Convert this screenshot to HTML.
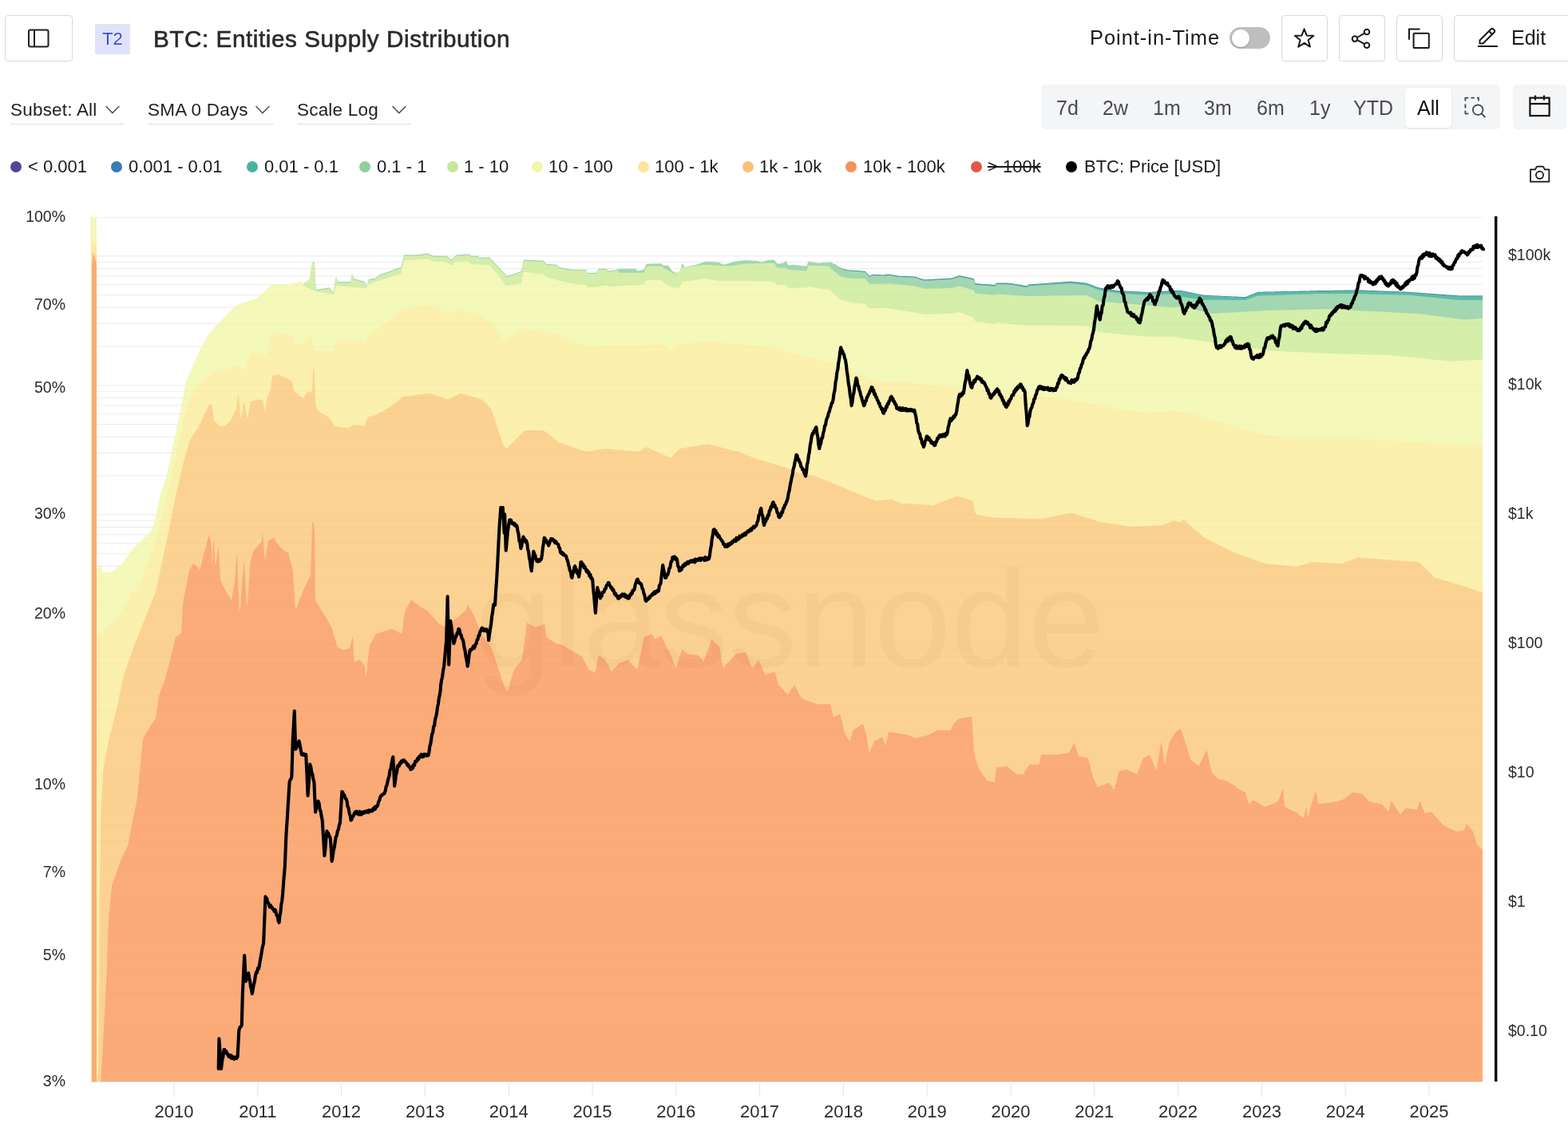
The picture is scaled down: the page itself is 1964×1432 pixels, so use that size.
<!DOCTYPE html>
<html>
<head>
<meta charset="utf-8">
<title>BTC: Entities Supply Distribution</title>
<style>
html,body{margin:0;padding:0;background:#fff;}
body{width:1964px;height:1432px;position:relative;overflow:hidden;font-family:"Liberation Sans",Arial,sans-serif;color:#1f1f23;}
.abs{position:absolute;}
.btn{position:absolute;box-sizing:border-box;border:1px solid #d9d9dc;border-radius:4px;background:#fff;}
.title{position:absolute;left:192px;top:32px;font-size:29.7px;font-weight:normal;-webkit-text-stroke:0.6px #2a2a2e;color:#2a2a2e;white-space:nowrap;letter-spacing:0.55px;}
.badge{position:absolute;left:119px;top:30px;width:44px;height:38px;background:#dfe3f8;color:#4052c6;font-size:22px;line-height:38px;text-align:center;}
.pit{position:absolute;left:1365px;top:33px;font-size:25.5px;letter-spacing:0.95px;color:#1a1a1e;white-space:nowrap;}
.toggle{position:absolute;left:1540px;top:34px;width:51px;height:27px;border-radius:14px;background:#bebebe;}
.knob{position:absolute;left:3px;top:2.5px;width:22px;height:22px;border-radius:50%;background:#fff;box-shadow:0 1px 2px rgba(0,0,0,0.25);}
.edit{position:absolute;left:1893px;top:33px;font-size:25px;color:#1a1a1e;}
.dd{position:absolute;top:125px;font-size:22.5px;letter-spacing:0.2px;color:#1f1f23;white-space:nowrap;}
.ddline{position:absolute;top:154.5px;height:1.5px;background:#dedee2;}
.range{position:absolute;left:1304px;top:106px;width:575px;height:56px;background:#f4f5f7;border-radius:5px;}
.ri{position:absolute;top:120.5px;font-size:25px;color:#4b4b52;white-space:nowrap;}
.sel{position:absolute;left:1760px;top:109.5px;width:58px;height:50px;background:#fff;border-radius:5px;box-shadow:0 1px 3px rgba(0,0,0,0.08);}
.cal{position:absolute;left:1895px;top:106px;width:67px;height:56px;background:#f4f5f7;border-radius:5px;}
.leg{position:absolute;top:196px;font-size:22px;color:#1a1a1e;white-space:nowrap;}
.dot{position:absolute;top:202px;width:14px;height:14px;border-radius:50%;}
</style>
</head>
<body>
<!-- header row -->
<div class="btn" style="left:6px;top:19px;width:85px;height:58px;"></div>
<svg class="abs" style="left:30px;top:31px" width="36" height="34" viewBox="0 0 36 34"><rect x="6" y="6.5" width="24.5" height="21" rx="2" fill="none" stroke="#1f1f23" stroke-width="2"/><line x1="13" y1="6.5" x2="13" y2="27.5" stroke="#1f1f23" stroke-width="2"/></svg>
<div class="badge">T2</div>
<div class="title">BTC: Entities Supply Distribution</div>

<div class="pit">Point-in-Time</div>
<div class="toggle"><div class="knob"></div></div>

<div class="btn" style="left:1605px;top:19px;width:58px;height:58px;"></div>
<svg class="abs" style="left:1605px;top:19px" width="58" height="58" viewBox="0 0 58 58"><path d="M28.6,17.3 L31.7,25.4 L40.3,25.8 L33.6,31.2 L35.9,39.6 L28.6,34.8 L21.3,39.6 L23.6,31.2 L16.9,25.8 L25.5,25.4 Z" fill="none" stroke="#1a1a1e" stroke-width="2" stroke-linejoin="round"/></svg>

<div class="btn" style="left:1677px;top:19px;width:58px;height:58px;"></div>
<svg class="abs" style="left:1677px;top:19px" width="58" height="58" viewBox="0 0 58 58"><g fill="none" stroke="#1a1a1e" stroke-width="2"><circle cx="35" cy="21" r="3.3"/><circle cx="20" cy="29.6" r="3.3"/><circle cx="35" cy="37.7" r="3.3"/><line x1="23" y1="28" x2="32" y2="22.7"/><line x1="23" y1="31.2" x2="32" y2="36.1"/></g></svg>

<div class="btn" style="left:1749px;top:19px;width:58px;height:58px;"></div>
<svg class="abs" style="left:1749px;top:19px" width="58" height="58" viewBox="0 0 58 58"><g fill="none" stroke="#1a1a1e" stroke-width="2"><path d="M16,30.7 L16,17.6 L29.5,17.6"/><rect x="21.6" y="22.7" width="19.2" height="18.4" rx="1.2"/></g></svg>

<div class="btn" style="left:1821px;top:19px;width:160px;height:58px;"></div>
<svg class="abs" style="left:1845px;top:30px" width="36" height="34" viewBox="0 0 36 34"><g fill="none" stroke="#1a1a1e" stroke-width="2" stroke-linejoin="round"><path d="M8.5,24.5 L8.5,20.5 L22.5,6.5 Q24,5 25.5,6.5 L26.5,7.5 Q28,9 26.5,10.5 L12.5,24.5 Z"/><line x1="20" y1="9" x2="24" y2="13"/><line x1="6" y1="28" x2="31" y2="28"/></g></svg>
<div class="edit">Edit</div>

<!-- second row -->
<div class="dd" style="left:13px">Subset: All</div>
<svg class="abs" style="left:130px;top:128px" width="22" height="18" viewBox="0 0 22 18"><path d="M2.5,5 L10.8,13.5 L19.5,5" fill="none" stroke="#55555c" stroke-width="1.6"/></svg>
<div class="ddline" style="left:13px;width:143px"></div>
<div class="dd" style="left:185px">SMA 0 Days</div>
<svg class="abs" style="left:318px;top:128px" width="22" height="18" viewBox="0 0 22 18"><path d="M2.5,5 L10.8,13.5 L19.5,5" fill="none" stroke="#55555c" stroke-width="1.6"/></svg>
<div class="ddline" style="left:185px;width:158px"></div>
<div class="dd" style="left:372px">Scale Log</div>
<svg class="abs" style="left:489px;top:128px" width="22" height="18" viewBox="0 0 22 18"><path d="M2.5,5 L10.8,13.5 L19.5,5" fill="none" stroke="#55555c" stroke-width="1.6"/></svg>
<div class="ddline" style="left:372px;width:143px"></div>

<div class="range"></div>
<div class="sel"></div>
<div class="ri" style="left:1323px">7d</div>
<div class="ri" style="left:1381px">2w</div>
<div class="ri" style="left:1444px">1m</div>
<div class="ri" style="left:1508px">3m</div>
<div class="ri" style="left:1574px">6m</div>
<div class="ri" style="left:1640px">1y</div>
<div class="ri" style="left:1695px">YTD</div>
<div class="ri" style="left:1775px;color:#111">All</div>
<svg class="abs" style="left:1830px;top:117px" width="36" height="36" viewBox="0 0 36 36"><g fill="none" stroke="#46464d" stroke-width="1.8"><path d="M5.4,9.5 L5.4,5.6 L9.3,5.6"/><line x1="12.5" y1="5.6" x2="16.8" y2="5.6"/><path d="M21.9,9.5 L21.9,5.6 L20,5.6"/><line x1="5.4" y1="13.5" x2="5.4" y2="18.5"/><path d="M5.4,21.5 L5.4,25.4 L9.3,25.4"/><circle cx="21.2" cy="20.6" r="6.3"/><line x1="25.6" y1="25.2" x2="30.3" y2="30"/></g></svg>
<div class="cal"></div>
<svg class="abs" style="left:1912px;top:116px" width="34" height="34" viewBox="0 0 34 34"><g fill="none" stroke="#111" stroke-width="2.2"><rect x="4.4" y="6.6" width="24.2" height="22.4"/><line x1="4.4" y1="14" x2="28.6" y2="14"/><line x1="11" y1="3.5" x2="11" y2="9.5"/><line x1="22" y1="3.5" x2="22" y2="9.5"/></g></svg>

<!-- legend -->
<div class="dot" style="left:13px;background:#55449b"></div><div class="leg" style="left:35px">&lt; 0.001</div>
<div class="dot" style="left:139px;background:#357bbd"></div><div class="leg" style="left:161px">0.001 - 0.01</div>
<div class="dot" style="left:309px;background:#49b3a0"></div><div class="leg" style="left:331px">0.01 - 0.1</div>
<div class="dot" style="left:450px;background:#8fcf9b"></div><div class="leg" style="left:472px">0.1 - 1</div>
<div class="dot" style="left:560px;background:#c6e79c"></div><div class="leg" style="left:581px">1 - 10</div>
<div class="dot" style="left:666px;background:#f2f7ab"></div><div class="leg" style="left:687px">10 - 100</div>
<div class="dot" style="left:799px;background:#fde497"></div><div class="leg" style="left:820px">100 - 1k</div>
<div class="dot" style="left:930px;background:#fbbf78"></div><div class="leg" style="left:951px">1k - 10k</div>
<div class="dot" style="left:1059px;background:#f39259"></div><div class="leg" style="left:1081px">10k - 100k</div>
<div class="dot" style="left:1216px;background:#e2574a"></div><div class="leg" style="left:1237px;text-decoration:line-through">&gt; 100k</div>
<div class="dot" style="left:1335px;background:#000"></div><div class="leg" style="left:1358px">BTC: Price [USD]</div>
<svg class="abs" style="left:1912px;top:204px" width="34" height="28" viewBox="0 0 34 28"><g fill="none" stroke="#111" stroke-width="1.7" stroke-linejoin="round"><path d="M5,8.3 L11.2,8.3 L12.4,5.3 Q12.8,4.6 13.6,4.6 L20.3,4.6 Q21,4.6 21.4,5.3 L22.6,8.3 L28.3,8.3 L28.3,23.6 L5,23.6 Z"/><circle cx="16.5" cy="15.3" r="4.6"/></g></svg>

<svg width="1964" height="1432" viewBox="0 0 1964 1432" style="position:absolute;left:0;top:0">
<g stroke="#efefef" stroke-width="1">
<line x1="121" y1="272.5" x2="1857" y2="272.5"/>
<line x1="121" y1="1341.6" x2="1857" y2="1341.6"/>
<line x1="121" y1="1328.7" x2="1857" y2="1328.7"/>
<line x1="121" y1="1317.9" x2="1857" y2="1317.9"/>
<line x1="121" y1="1308.5" x2="1857" y2="1308.5"/>
<line x1="121" y1="1300.2" x2="1857" y2="1300.2"/>
<line x1="121" y1="1292.8" x2="1857" y2="1292.8"/>
<line x1="121" y1="1244.0" x2="1857" y2="1244.0"/>
<line x1="121" y1="1215.5" x2="1857" y2="1215.5"/>
<line x1="121" y1="1195.3" x2="1857" y2="1195.3"/>
<line x1="121" y1="1179.6" x2="1857" y2="1179.6"/>
<line x1="121" y1="1166.7" x2="1857" y2="1166.7"/>
<line x1="121" y1="1155.9" x2="1857" y2="1155.9"/>
<line x1="121" y1="1146.5" x2="1857" y2="1146.5"/>
<line x1="121" y1="1138.2" x2="1857" y2="1138.2"/>
<line x1="121" y1="1130.8" x2="1857" y2="1130.8"/>
<line x1="121" y1="1082.0" x2="1857" y2="1082.0"/>
<line x1="121" y1="1053.5" x2="1857" y2="1053.5"/>
<line x1="121" y1="1033.3" x2="1857" y2="1033.3"/>
<line x1="121" y1="1017.6" x2="1857" y2="1017.6"/>
<line x1="121" y1="1004.7" x2="1857" y2="1004.7"/>
<line x1="121" y1="993.9" x2="1857" y2="993.9"/>
<line x1="121" y1="984.5" x2="1857" y2="984.5"/>
<line x1="121" y1="976.2" x2="1857" y2="976.2"/>
<line x1="121" y1="968.8" x2="1857" y2="968.8"/>
<line x1="121" y1="920.0" x2="1857" y2="920.0"/>
<line x1="121" y1="891.5" x2="1857" y2="891.5"/>
<line x1="121" y1="871.3" x2="1857" y2="871.3"/>
<line x1="121" y1="855.6" x2="1857" y2="855.6"/>
<line x1="121" y1="842.7" x2="1857" y2="842.7"/>
<line x1="121" y1="831.9" x2="1857" y2="831.9"/>
<line x1="121" y1="822.5" x2="1857" y2="822.5"/>
<line x1="121" y1="814.2" x2="1857" y2="814.2"/>
<line x1="121" y1="806.8" x2="1857" y2="806.8"/>
<line x1="121" y1="758.0" x2="1857" y2="758.0"/>
<line x1="121" y1="729.5" x2="1857" y2="729.5"/>
<line x1="121" y1="709.3" x2="1857" y2="709.3"/>
<line x1="121" y1="693.6" x2="1857" y2="693.6"/>
<line x1="121" y1="680.7" x2="1857" y2="680.7"/>
<line x1="121" y1="669.9" x2="1857" y2="669.9"/>
<line x1="121" y1="660.5" x2="1857" y2="660.5"/>
<line x1="121" y1="652.2" x2="1857" y2="652.2"/>
<line x1="121" y1="644.8" x2="1857" y2="644.8"/>
<line x1="121" y1="596.0" x2="1857" y2="596.0"/>
<line x1="121" y1="567.5" x2="1857" y2="567.5"/>
<line x1="121" y1="547.3" x2="1857" y2="547.3"/>
<line x1="121" y1="531.6" x2="1857" y2="531.6"/>
<line x1="121" y1="518.7" x2="1857" y2="518.7"/>
<line x1="121" y1="507.9" x2="1857" y2="507.9"/>
<line x1="121" y1="498.5" x2="1857" y2="498.5"/>
<line x1="121" y1="490.2" x2="1857" y2="490.2"/>
<line x1="121" y1="482.8" x2="1857" y2="482.8"/>
<line x1="121" y1="434.0" x2="1857" y2="434.0"/>
<line x1="121" y1="405.5" x2="1857" y2="405.5"/>
<line x1="121" y1="385.3" x2="1857" y2="385.3"/>
<line x1="121" y1="369.6" x2="1857" y2="369.6"/>
<line x1="121" y1="356.7" x2="1857" y2="356.7"/>
<line x1="121" y1="345.9" x2="1857" y2="345.9"/>
<line x1="121" y1="336.5" x2="1857" y2="336.5"/>
<line x1="121" y1="328.2" x2="1857" y2="328.2"/>
<line x1="121" y1="320.8" x2="1857" y2="320.8"/>
</g>
<path d="M1045,1355.0 L1045,330.9 1046,331.5 1047,332.1 1048,332.7 1049,333.4 1050,334.0 1051,334.6 1052,335.2 1053,335.8 1054,336.1 1055,336.4 1056,336.7 1057,337.0 1058,337.2 1059,337.5 1060,337.8 1061,338.1 1062,338.4 1063,338.5 1064,338.5 1065,338.5 1066,338.5 1067,338.5 1068,338.6 1069,338.7 1070,338.8 1071,338.9 1072,338.9 1073,339.0 1074,339.1 1075,339.2 1076,339.3 1077,339.4 1078,339.4 1079,339.5 1080,339.6 1081,339.7 1082,339.8 1083,339.8 1084,340.2 1085,341.3 1086,342.5 1087,343.6 1088,344.7 1089,345.8 1090,345.3 1091,344.8 1092,344.3 1093,343.8 1094,343.9 1095,343.9 1096,344.0 1097,344.0 1098,344.1 1099,344.1 1100,344.2 1101,344.2 1102,344.3 1103,344.3 1104,344.4 1105,344.4 1106,344.5 1107,344.4 1108,344.3 1109,344.1 1110,344.0 1111,343.8 1112,343.7 1113,343.6 1114,343.8 1115,344.0 1116,344.1 1117,344.3 1118,344.5 1119,344.6 1120,344.8 1121,345.0 1122,345.1 1123,345.3 1124,345.5 1125,345.6 1126,345.8 1127,345.8 1128,345.9 1129,345.9 1130,345.9 1131,346.0 1132,346.0 1133,346.0 1134,346.1 1135,346.1 1136,346.2 1137,346.2 1138,346.2 1139,346.3 1140,346.3 1141,346.3 1142,346.4 1143,346.4 1144,346.4 1145,346.5 1146,346.5 1147,346.9 1148,347.2 1149,347.5 1150,347.8 1151,348.2 1152,348.5 1153,348.8 1154,349.2 1155,349.5 1156,349.8 1157,350.1 1158,350.4 1159,350.3 1160,350.3 1161,350.2 1162,350.2 1163,350.1 1164,350.1 1165,350.0 1166,349.9 1167,349.9 1168,349.8 1169,349.8 1170,349.7 1171,349.7 1172,349.6 1173,349.6 1174,349.5 1175,349.4 1176,349.4 1177,349.3 1178,349.3 1179,349.2 1180,349.2 1181,349.1 1182,349.1 1183,349.0 1184,349.0 1185,348.9 1186,348.8 1187,348.8 1188,348.7 1189,348.7 1190,348.6 1191,348.6 1192,348.5 1193,348.2 1194,347.9 1195,347.5 1196,347.2 1197,346.8 1198,346.4 1199,346.1 1200,345.7 1201,345.4 1202,345.3 1203,345.5 1204,345.7 1205,345.9 1206,346.1 1207,346.4 1208,346.6 1209,346.8 1210,347.0 1211,347.2 1212,347.4 1213,347.6 1214,347.8 1215,348.0 1216,348.3 1217,348.5 1218,348.7 1219,348.9 1220,349.1 1221,353.4 1222,355.1 1223,355.2 1224,355.3 1225,355.4 1226,355.5 1227,355.5 1228,355.6 1229,355.7 1230,355.8 1231,355.9 1232,355.9 1233,356.0 1234,356.1 1235,356.2 1236,356.3 1237,356.3 1238,356.4 1239,356.5 1240,356.6 1241,356.7 1242,356.7 1243,356.8 1244,356.9 1245,357.0 1246,357.1 1247,356.1 1248,354.4 1249,354.4 1250,354.4 1251,354.5 1252,354.5 1253,354.5 1254,354.5 1255,354.5 1256,354.5 1257,354.6 1258,354.6 1259,354.6 1260,354.6 1261,354.6 1262,354.6 1263,354.7 1264,354.7 1265,354.7 1266,354.9 1267,355.0 1268,355.2 1269,355.4 1270,355.6 1271,355.7 1272,355.9 1273,356.1 1274,356.3 1275,356.4 1276,356.6 1277,356.8 1278,357.0 1279,357.1 1280,357.3 1281,357.5 1282,357.7 1283,357.8 1284,358.0 1285,358.2 1286,358.4 1287,357.8 1288,357.1 1289,356.4 1290,356.3 1291,356.2 1292,356.2 1293,356.1 1294,356.0 1295,356.0 1296,355.9 1297,355.8 1298,355.7 1299,355.7 1300,355.6 1301,355.5 1302,355.4 1303,355.4 1304,355.3 1305,355.2 1306,355.2 1307,355.1 1308,355.0 1309,354.9 1310,354.9 1311,354.8 1312,354.7 1313,354.7 1314,354.6 1315,354.5 1316,354.4 1317,354.4 1318,354.3 1319,354.2 1320,354.1 1321,354.1 1322,354.0 1323,353.9 1324,353.9 1325,353.8 1326,353.7 1327,353.6 1328,353.6 1329,353.5 1330,353.4 1331,353.3 1332,353.3 1333,353.2 1334,353.1 1335,353.1 1336,353.0 1337,352.9 1338,352.8 1339,352.8 1340,352.7 1341,352.6 1342,352.7 1343,352.8 1344,352.9 1345,353.0 1346,353.1 1347,353.2 1348,353.3 1349,353.4 1350,353.5 1351,353.6 1352,353.7 1353,353.8 1354,353.9 1355,354.0 1356,354.1 1357,354.2 1358,354.3 1359,354.4 1360,354.5 1361,354.7 1362,355.1 1363,355.4 1364,355.8 1365,356.2 1366,356.6 1367,356.9 1368,357.3 1369,357.7 1370,358.1 1371,358.5 1372,358.8 1373,359.2 1374,359.6 1375,360.0 1376,360.3 1377,360.5 1378,360.6 1379,360.8 1380,361.0 1381,361.1 1382,361.3 1383,361.5 1384,361.6 1385,361.8 1386,362.0 1387,362.1 1388,362.3 1389,362.5 1390,362.6 1391,362.8 1392,363.0 1393,363.1 1394,363.3 1395,363.5 1396,363.6 1397,363.8 1398,364.0 1399,364.1 1400,364.2 1401,364.2 1402,364.3 1403,364.3 1404,364.4 1405,364.4 1406,364.5 1407,364.5 1408,364.6 1409,364.6 1410,364.6 1411,364.7 1412,364.7 1413,364.8 1414,364.8 1415,364.9 1416,364.9 1417,365.0 1418,365.0 1419,365.1 1420,365.1 1421,365.2 1422,365.2 1423,365.3 1424,365.3 1425,365.4 1426,365.4 1427,365.5 1428,365.5 1429,365.6 1430,365.6 1431,365.7 1432,365.7 1433,365.8 1434,365.8 1435,365.9 1436,365.9 1437,366.0 1438,366.0 1439,365.9 1440,365.8 1441,365.8 1442,365.7 1443,365.7 1444,365.6 1445,365.6 1446,365.5 1447,365.4 1448,365.4 1449,365.3 1450,365.3 1451,365.2 1452,365.1 1453,365.1 1454,365.0 1455,365.0 1456,364.9 1457,364.9 1458,364.8 1459,364.7 1460,364.7 1461,364.6 1462,364.6 1463,364.5 1464,364.4 1465,364.4 1466,364.3 1467,364.3 1468,364.2 1469,364.2 1470,364.1 1471,364.1 1472,364.1 1473,364.1 1474,364.1 1475,364.1 1476,364.1 1477,364.1 1478,364.1 1479,364.1 1480,364.1 1481,364.3 1482,364.5 1483,364.7 1484,364.9 1485,365.1 1486,365.3 1487,365.5 1488,365.7 1489,365.9 1490,366.1 1491,366.3 1492,366.6 1493,366.8 1494,367.0 1495,367.2 1496,367.4 1497,367.6 1498,367.8 1499,368.0 1500,368.2 1501,368.4 1502,368.6 1503,368.8 1504,369.0 1505,369.2 1506,369.4 1507,369.6 1508,369.8 1509,369.9 1510,370.0 1511,370.0 1512,370.1 1513,370.1 1514,370.1 1515,370.2 1516,370.2 1517,370.3 1518,370.3 1519,370.4 1520,370.4 1521,370.4 1522,370.5 1523,370.5 1524,370.6 1525,370.6 1526,370.7 1527,370.7 1528,370.7 1529,370.8 1530,370.8 1531,370.9 1532,370.9 1533,370.9 1534,371.0 1535,371.0 1536,371.1 1537,371.1 1538,371.2 1539,371.2 1540,371.2 1541,371.3 1542,371.3 1543,371.4 1544,371.4 1545,371.5 1546,371.5 1547,371.5 1548,371.6 1549,371.6 1550,371.7 1551,371.7 1552,371.8 1553,371.8 1554,371.8 1555,371.9 1556,371.9 1557,372.0 1558,372.0 1559,372.1 1560,372.1 1561,371.7 1562,371.3 1563,370.9 1564,370.5 1565,370.1 1566,369.7 1567,369.3 1568,368.9 1569,368.5 1570,368.1 1571,367.7 1572,367.3 1573,366.9 1574,366.5 1575,366.1 1576,365.8 1577,365.8 1578,365.8 1579,365.7 1580,365.7 1581,365.7 1582,365.7 1583,365.6 1584,365.6 1585,365.6 1586,365.6 1587,365.5 1588,365.5 1589,365.5 1590,365.5 1591,365.5 1592,365.4 1593,365.4 1594,365.4 1595,365.4 1596,365.3 1597,365.3 1598,365.3 1599,365.3 1600,365.3 1601,365.2 1602,365.2 1603,365.2 1604,365.2 1605,365.1 1606,365.1 1607,365.1 1608,365.1 1609,365.1 1610,365.0 1611,365.0 1612,365.0 1613,365.0 1614,364.9 1615,364.9 1616,364.9 1617,364.9 1618,364.8 1619,364.8 1620,364.8 1621,364.8 1622,364.8 1623,364.7 1624,364.7 1625,364.7 1626,364.7 1627,364.6 1628,364.6 1629,364.6 1630,364.6 1631,364.6 1632,364.5 1633,364.5 1634,364.5 1635,364.5 1636,364.4 1637,364.4 1638,364.4 1639,364.4 1640,364.4 1641,364.3 1642,364.3 1643,364.3 1644,364.3 1645,364.2 1646,364.2 1647,364.2 1648,364.2 1649,364.2 1650,364.2 1651,364.1 1652,364.1 1653,364.1 1654,364.1 1655,364.1 1656,364.1 1657,364.1 1658,364.0 1659,364.0 1660,364.0 1661,364.0 1662,364.0 1663,364.0 1664,364.0 1665,363.9 1666,363.9 1667,363.9 1668,363.9 1669,363.9 1670,363.9 1671,363.8 1672,363.8 1673,363.8 1674,363.8 1675,363.8 1676,363.8 1677,363.8 1678,363.7 1679,363.7 1680,363.7 1681,363.7 1682,363.7 1683,363.7 1684,363.7 1685,363.6 1686,363.6 1687,363.6 1688,363.6 1689,363.6 1690,363.6 1691,363.6 1692,363.5 1693,363.5 1694,363.5 1695,363.5 1696,363.5 1697,363.5 1698,363.5 1699,363.4 1700,363.4 1701,363.4 1702,363.4 1703,363.4 1704,363.5 1705,363.5 1706,363.6 1707,363.6 1708,363.6 1709,363.7 1710,363.7 1711,363.7 1712,363.8 1713,363.8 1714,363.9 1715,363.9 1716,363.9 1717,364.0 1718,364.0 1719,364.0 1720,364.1 1721,364.1 1722,364.2 1723,364.2 1724,364.2 1725,364.3 1726,364.3 1727,364.3 1728,364.4 1729,364.4 1730,364.5 1731,364.5 1732,364.5 1733,364.6 1734,364.6 1735,364.7 1736,364.7 1737,364.7 1738,364.8 1739,364.8 1740,364.8 1741,364.9 1742,364.9 1743,365.0 1744,365.0 1745,365.0 1746,365.1 1747,365.1 1748,365.1 1749,365.2 1750,365.2 1751,365.3 1752,365.3 1753,365.3 1754,365.4 1755,365.4 1756,365.5 1757,365.5 1758,365.5 1759,365.6 1760,365.6 1761,365.6 1762,365.7 1763,365.7 1764,365.8 1765,365.8 1766,365.9 1767,365.9 1768,366.0 1769,366.1 1770,366.2 1771,366.2 1772,366.3 1773,366.4 1774,366.5 1775,366.5 1776,366.6 1777,366.7 1778,366.8 1779,366.8 1780,366.9 1781,367.0 1782,367.0 1783,367.1 1784,367.2 1785,367.3 1786,367.3 1787,367.4 1788,367.5 1789,367.6 1790,367.6 1791,367.7 1792,367.8 1793,367.9 1794,367.9 1795,368.0 1796,368.1 1797,368.2 1798,368.2 1799,368.3 1800,368.4 1801,368.5 1802,368.5 1803,368.6 1804,368.7 1805,368.8 1806,368.8 1807,368.9 1808,369.0 1809,369.1 1810,369.1 1811,369.2 1812,369.3 1813,369.4 1814,369.4 1815,369.5 1816,369.6 1817,369.7 1818,369.7 1819,369.8 1820,369.9 1821,369.9 1822,370.0 1823,370.1 1824,370.2 1825,370.2 1826,370.3 1827,370.4 1828,370.5 1829,370.5 1830,370.5 1831,370.5 1832,370.5 1833,370.5 1834,370.5 1835,370.5 1836,370.5 1837,370.5 1838,370.5 1839,370.5 1840,370.5 1841,370.5 1842,370.5 1843,370.5 1844,370.5 1845,370.5 1846,370.5 1847,370.5 1848,370.5 1849,370.5 1850,370.5 1851,370.5 1852,370.5 1853,370.5 1854,370.5 1855,370.5 1856,370.5 1857,370.5 L1857,1355.0 Z" fill="#3f7f98"/>
<path d="M1045,1355.0 L1045,330.9 1046,331.6 1047,332.3 1048,332.9 1049,333.6 1050,334.3 1051,335.0 1052,335.6 1053,336.3 1054,336.7 1055,337.1 1056,337.4 1057,337.7 1058,337.9 1059,338.2 1060,338.5 1061,338.8 1062,339.1 1063,339.2 1064,339.2 1065,339.2 1066,339.2 1067,339.2 1068,339.3 1069,339.4 1070,339.5 1071,339.6 1072,339.6 1073,339.7 1074,339.8 1075,339.9 1076,340.0 1077,340.1 1078,340.1 1079,340.2 1080,340.3 1081,340.4 1082,340.5 1083,340.5 1084,340.9 1085,342.0 1086,343.2 1087,344.3 1088,345.4 1089,346.5 1090,346.0 1091,345.5 1092,345.0 1093,344.5 1094,344.6 1095,344.6 1096,344.7 1097,344.7 1098,344.8 1099,344.8 1100,344.9 1101,344.9 1102,345.0 1103,345.0 1104,345.1 1105,345.1 1106,345.2 1107,345.1 1108,345.0 1109,344.8 1110,344.7 1111,344.5 1112,344.4 1113,344.3 1114,344.5 1115,344.7 1116,344.8 1117,345.0 1118,345.2 1119,345.3 1120,345.5 1121,345.7 1122,345.8 1123,346.0 1124,346.2 1125,346.3 1126,346.5 1127,346.5 1128,346.6 1129,346.6 1130,346.6 1131,346.7 1132,346.7 1133,346.7 1134,346.8 1135,346.8 1136,346.9 1137,346.9 1138,346.9 1139,347.0 1140,347.0 1141,347.0 1142,347.1 1143,347.1 1144,347.1 1145,347.2 1146,347.2 1147,347.6 1148,347.9 1149,348.2 1150,348.5 1151,348.9 1152,349.2 1153,349.5 1154,349.9 1155,350.2 1156,350.5 1157,350.8 1158,351.1 1159,351.0 1160,351.0 1161,350.9 1162,350.9 1163,350.8 1164,350.8 1165,350.7 1166,350.6 1167,350.6 1168,350.5 1169,350.5 1170,350.4 1171,350.4 1172,350.3 1173,350.3 1174,350.2 1175,350.1 1176,350.1 1177,350.0 1178,350.0 1179,349.9 1180,349.9 1181,349.8 1182,349.8 1183,349.7 1184,349.7 1185,349.6 1186,349.5 1187,349.5 1188,349.4 1189,349.4 1190,349.3 1191,349.3 1192,349.2 1193,348.9 1194,348.6 1195,348.2 1196,347.9 1197,347.5 1198,347.1 1199,346.8 1200,346.4 1201,346.1 1202,346.0 1203,346.2 1204,346.4 1205,346.6 1206,346.8 1207,347.1 1208,347.3 1209,347.5 1210,347.7 1211,347.9 1212,348.1 1213,348.3 1214,348.5 1215,348.7 1216,349.0 1217,349.2 1218,349.4 1219,349.6 1220,349.8 1221,354.1 1222,355.8 1223,355.9 1224,356.0 1225,356.1 1226,356.2 1227,356.2 1228,356.3 1229,356.4 1230,356.5 1231,356.6 1232,356.6 1233,356.7 1234,356.8 1235,356.9 1236,357.0 1237,357.0 1238,357.1 1239,357.2 1240,357.3 1241,357.4 1242,357.4 1243,357.5 1244,357.6 1245,357.7 1246,357.8 1247,356.8 1248,355.1 1249,355.1 1250,355.1 1251,355.2 1252,355.2 1253,355.2 1254,355.2 1255,355.2 1256,355.2 1257,355.3 1258,355.3 1259,355.3 1260,355.3 1261,355.3 1262,355.3 1263,355.4 1264,355.4 1265,355.4 1266,355.6 1267,355.7 1268,355.9 1269,356.1 1270,356.3 1271,356.4 1272,356.6 1273,356.8 1274,357.0 1275,357.1 1276,357.3 1277,357.5 1278,357.7 1279,357.8 1280,358.0 1281,358.2 1282,358.4 1283,358.5 1284,358.7 1285,358.9 1286,359.1 1287,358.5 1288,357.8 1289,357.1 1290,357.0 1291,356.9 1292,356.9 1293,356.8 1294,356.7 1295,356.7 1296,356.6 1297,356.5 1298,356.4 1299,356.4 1300,356.3 1301,356.2 1302,356.1 1303,356.1 1304,356.0 1305,355.9 1306,355.9 1307,355.8 1308,355.7 1309,355.6 1310,355.6 1311,355.5 1312,355.4 1313,355.4 1314,355.3 1315,355.2 1316,355.1 1317,355.1 1318,355.0 1319,354.9 1320,354.8 1321,354.8 1322,354.7 1323,354.6 1324,354.6 1325,354.5 1326,354.4 1327,354.3 1328,354.3 1329,354.2 1330,354.1 1331,354.0 1332,354.0 1333,353.9 1334,353.8 1335,353.8 1336,353.7 1337,353.6 1338,353.5 1339,353.5 1340,353.4 1341,353.3 1342,353.4 1343,353.5 1344,353.6 1345,353.7 1346,353.8 1347,353.9 1348,354.0 1349,354.1 1350,354.2 1351,354.3 1352,354.4 1353,354.5 1354,354.6 1355,354.7 1356,354.8 1357,354.9 1358,355.0 1359,355.1 1360,355.2 1361,355.4 1362,355.8 1363,356.1 1364,356.5 1365,356.9 1366,357.3 1367,357.6 1368,358.0 1369,358.4 1370,358.8 1371,359.2 1372,359.5 1373,359.9 1374,360.3 1375,360.7 1376,361.0 1377,361.2 1378,361.3 1379,361.5 1380,361.7 1381,361.8 1382,362.0 1383,362.2 1384,362.3 1385,362.5 1386,362.7 1387,362.8 1388,363.0 1389,363.2 1390,363.3 1391,363.5 1392,363.7 1393,363.8 1394,364.0 1395,364.2 1396,364.3 1397,364.5 1398,364.7 1399,364.8 1400,364.9 1401,364.9 1402,365.0 1403,365.0 1404,365.1 1405,365.1 1406,365.2 1407,365.2 1408,365.3 1409,365.3 1410,365.3 1411,365.4 1412,365.4 1413,365.5 1414,365.5 1415,365.6 1416,365.6 1417,365.7 1418,365.7 1419,365.8 1420,365.8 1421,365.9 1422,365.9 1423,366.0 1424,366.0 1425,366.1 1426,366.1 1427,366.2 1428,366.2 1429,366.3 1430,366.3 1431,366.4 1432,366.4 1433,366.5 1434,366.5 1435,366.6 1436,366.6 1437,366.7 1438,366.7 1439,366.6 1440,366.5 1441,366.5 1442,366.4 1443,366.4 1444,366.3 1445,366.3 1446,366.2 1447,366.1 1448,366.1 1449,366.0 1450,366.0 1451,365.9 1452,365.8 1453,365.8 1454,365.7 1455,365.7 1456,365.6 1457,365.6 1458,365.5 1459,365.4 1460,365.4 1461,365.3 1462,365.3 1463,365.2 1464,365.1 1465,365.1 1466,365.0 1467,365.0 1468,364.9 1469,364.9 1470,364.8 1471,364.8 1472,364.8 1473,364.8 1474,364.8 1475,364.8 1476,364.8 1477,364.8 1478,364.8 1479,364.8 1480,364.8 1481,365.0 1482,365.2 1483,365.4 1484,365.6 1485,365.8 1486,366.0 1487,366.2 1488,366.4 1489,366.6 1490,366.8 1491,367.0 1492,367.3 1493,367.5 1494,367.7 1495,367.9 1496,368.1 1497,368.3 1498,368.5 1499,368.7 1500,368.9 1501,369.1 1502,369.3 1503,369.5 1504,369.7 1505,369.9 1506,370.1 1507,370.3 1508,370.5 1509,370.6 1510,370.7 1511,370.7 1512,370.8 1513,370.8 1514,370.8 1515,370.9 1516,370.9 1517,371.0 1518,371.0 1519,371.1 1520,371.1 1521,371.1 1522,371.2 1523,371.2 1524,371.3 1525,371.3 1526,371.4 1527,371.4 1528,371.4 1529,371.5 1530,371.5 1531,371.6 1532,371.6 1533,371.6 1534,371.7 1535,371.7 1536,371.8 1537,371.8 1538,371.9 1539,371.9 1540,371.9 1541,372.0 1542,372.0 1543,372.1 1544,372.1 1545,372.2 1546,372.2 1547,372.2 1548,372.3 1549,372.3 1550,372.4 1551,372.4 1552,372.5 1553,372.5 1554,372.5 1555,372.6 1556,372.6 1557,372.7 1558,372.7 1559,372.8 1560,372.8 1561,372.4 1562,372.0 1563,371.6 1564,371.2 1565,370.8 1566,370.4 1567,370.0 1568,369.6 1569,369.2 1570,368.8 1571,368.4 1572,368.0 1573,367.6 1574,367.2 1575,366.8 1576,366.5 1577,366.5 1578,366.5 1579,366.4 1580,366.4 1581,366.4 1582,366.4 1583,366.3 1584,366.3 1585,366.3 1586,366.3 1587,366.2 1588,366.2 1589,366.2 1590,366.2 1591,366.2 1592,366.1 1593,366.1 1594,366.1 1595,366.1 1596,366.0 1597,366.0 1598,366.0 1599,366.0 1600,366.0 1601,365.9 1602,365.9 1603,365.9 1604,365.9 1605,365.8 1606,365.8 1607,365.8 1608,365.8 1609,365.8 1610,365.7 1611,365.7 1612,365.7 1613,365.7 1614,365.6 1615,365.6 1616,365.6 1617,365.6 1618,365.5 1619,365.5 1620,365.5 1621,365.5 1622,365.5 1623,365.4 1624,365.4 1625,365.4 1626,365.4 1627,365.3 1628,365.3 1629,365.3 1630,365.3 1631,365.3 1632,365.2 1633,365.2 1634,365.2 1635,365.2 1636,365.1 1637,365.1 1638,365.1 1639,365.1 1640,365.1 1641,365.0 1642,365.0 1643,365.0 1644,365.0 1645,364.9 1646,364.9 1647,364.9 1648,364.9 1649,364.9 1650,364.9 1651,364.8 1652,364.8 1653,364.8 1654,364.8 1655,364.8 1656,364.8 1657,364.8 1658,364.7 1659,364.7 1660,364.7 1661,364.7 1662,364.7 1663,364.7 1664,364.7 1665,364.6 1666,364.6 1667,364.6 1668,364.6 1669,364.6 1670,364.6 1671,364.5 1672,364.5 1673,364.5 1674,364.5 1675,364.5 1676,364.5 1677,364.5 1678,364.4 1679,364.4 1680,364.4 1681,364.4 1682,364.4 1683,364.4 1684,364.4 1685,364.3 1686,364.3 1687,364.3 1688,364.3 1689,364.3 1690,364.3 1691,364.3 1692,364.2 1693,364.2 1694,364.2 1695,364.2 1696,364.2 1697,364.2 1698,364.2 1699,364.1 1700,364.1 1701,364.1 1702,364.1 1703,364.1 1704,364.2 1705,364.2 1706,364.3 1707,364.3 1708,364.3 1709,364.4 1710,364.4 1711,364.4 1712,364.5 1713,364.5 1714,364.6 1715,364.6 1716,364.6 1717,364.7 1718,364.7 1719,364.7 1720,364.8 1721,364.8 1722,364.9 1723,364.9 1724,364.9 1725,365.0 1726,365.0 1727,365.0 1728,365.1 1729,365.1 1730,365.2 1731,365.2 1732,365.2 1733,365.3 1734,365.3 1735,365.4 1736,365.4 1737,365.4 1738,365.5 1739,365.5 1740,365.5 1741,365.6 1742,365.6 1743,365.7 1744,365.7 1745,365.7 1746,365.8 1747,365.8 1748,365.8 1749,365.9 1750,365.9 1751,366.0 1752,366.0 1753,366.0 1754,366.1 1755,366.1 1756,366.2 1757,366.2 1758,366.2 1759,366.3 1760,366.3 1761,366.3 1762,366.4 1763,366.4 1764,366.5 1765,366.5 1766,366.6 1767,366.6 1768,366.7 1769,366.8 1770,366.9 1771,366.9 1772,367.0 1773,367.1 1774,367.2 1775,367.2 1776,367.3 1777,367.4 1778,367.5 1779,367.5 1780,367.6 1781,367.7 1782,367.7 1783,367.8 1784,367.9 1785,368.0 1786,368.0 1787,368.1 1788,368.2 1789,368.3 1790,368.3 1791,368.4 1792,368.5 1793,368.6 1794,368.6 1795,368.7 1796,368.8 1797,368.9 1798,368.9 1799,369.0 1800,369.1 1801,369.2 1802,369.2 1803,369.3 1804,369.4 1805,369.5 1806,369.5 1807,369.6 1808,369.7 1809,369.8 1810,369.8 1811,369.9 1812,370.0 1813,370.1 1814,370.1 1815,370.2 1816,370.3 1817,370.4 1818,370.4 1819,370.5 1820,370.6 1821,370.6 1822,370.7 1823,370.8 1824,370.9 1825,370.9 1826,371.0 1827,371.1 1828,371.2 1829,371.2 1830,371.2 1831,371.2 1832,371.2 1833,371.2 1834,371.2 1835,371.2 1836,371.2 1837,371.2 1838,371.2 1839,371.2 1840,371.2 1841,371.2 1842,371.2 1843,371.2 1844,371.2 1845,371.2 1846,371.2 1847,371.2 1848,371.2 1849,371.2 1850,371.2 1851,371.2 1852,371.2 1853,371.2 1854,371.2 1855,371.2 1856,371.2 1857,371.2 L1857,1355.0 Z" fill="#5bbba8"/>
<path d="M386,1355.0 L386,351.2 387,350.6 388,350.0 389,343.7 390,336.8 391,329.9 392,328.5 393,328.5 394,328.5 395,352.7 396,363.0 397,362.8 398,362.6 399,362.5 400,362.3 401,362.1 402,361.9 403,361.8 404,361.6 405,361.4 406,361.2 407,361.1 408,360.9 409,360.7 410,360.6 411,360.4 412,360.2 413,360.7 414,362.0 415,363.4 416,364.8 417,366.2 418,365.1 419,357.9 420,350.8 421,346.8 422,350.3 423,353.0 424,353.0 425,353.0 426,353.0 427,353.0 428,353.0 429,353.0 430,353.0 431,353.0 432,353.0 433,353.0 434,353.0 435,353.0 436,353.0 437,353.0 438,353.0 439,353.0 440,348.4 441,343.3 442,345.5 443,348.6 444,349.2 445,349.4 446,349.7 447,350.0 448,350.3 449,350.6 450,350.9 451,351.2 452,351.5 453,351.7 454,352.0 455,352.3 456,352.6 457,352.9 458,355.1 459,358.7 460,357.2 461,352.3 462,349.8 463,349.7 464,349.6 465,349.5 466,349.3 467,349.2 468,349.1 469,349.0 470,348.6 471,347.7 472,346.9 473,346.1 474,345.2 475,344.4 476,343.7 477,343.4 478,343.1 479,342.8 480,342.5 481,342.2 482,341.9 483,341.6 484,341.3 485,341.0 486,340.7 487,340.3 488,339.9 489,339.5 490,339.1 491,338.7 492,338.3 493,337.9 494,337.5 495,337.1 496,336.7 497,336.4 498,336.0 499,335.7 500,335.4 501,335.0 502,334.7 503,331.6 504,327.9 505,324.2 506,320.4 507,319.3 508,319.3 509,319.3 510,319.3 511,319.3 512,319.3 513,319.3 514,319.3 515,319.3 516,319.3 517,319.3 518,319.3 519,319.3 520,319.3 521,319.3 522,319.3 523,319.2 524,319.1 525,318.9 526,318.7 527,318.6 528,318.4 529,318.3 530,318.1 531,317.9 532,317.8 533,317.6 534,317.4 535,317.4 536,317.8 537,318.1 538,318.5 539,318.9 540,319.3 541,319.7 542,320.1 543,320.4 544,320.4 545,320.4 546,320.4 547,320.4 548,320.4 549,320.4 550,320.4 551,320.4 552,320.4 553,320.4 554,320.4 555,320.4 556,320.4 557,320.4 558,320.4 559,320.4 560,321.1 561,321.9 562,322.7 563,323.6 564,324.4 565,325.2 566,324.8 567,323.8 568,322.8 569,321.7 570,320.7 571,319.7 572,319.3 573,319.2 574,319.1 575,319.1 576,319.0 577,319.0 578,318.9 579,318.8 580,318.8 581,318.7 582,318.6 583,318.6 584,318.5 585,318.5 586,318.4 587,318.3 588,318.6 589,319.6 590,320.4 591,320.4 592,320.4 593,320.4 594,320.4 595,320.4 596,320.4 597,320.4 598,320.4 599,320.6 600,322.8 601,322.8 602,322.7 603,322.7 604,322.7 605,322.6 606,322.6 607,322.6 608,322.6 609,322.5 610,322.5 611,322.5 612,322.4 613,322.4 614,323.3 615,324.4 616,325.4 617,326.5 618,327.6 619,328.7 620,329.8 621,330.9 622,332.0 623,333.1 624,334.2 625,335.2 626,336.2 627,337.2 628,338.2 629,339.3 630,340.3 631,341.3 632,342.3 633,343.5 634,344.9 635,345.7 636,345.4 637,345.1 638,344.8 639,344.5 640,344.2 641,343.9 642,343.6 643,343.3 644,343.0 645,342.7 646,342.3 647,342.0 648,341.6 649,341.2 650,340.8 651,340.4 652,340.0 653,339.2 654,334.7 655,330.1 656,325.5 657,325.5 658,325.6 659,325.6 660,325.7 661,325.7 662,325.7 663,325.8 664,325.8 665,325.9 666,325.9 667,325.9 668,326.0 669,326.0 670,326.1 671,326.1 672,326.1 673,326.2 674,326.2 675,326.2 676,326.3 677,326.3 678,326.4 679,326.4 680,326.4 681,326.5 682,327.6 683,329.5 684,330.5 685,330.6 686,330.7 687,330.8 688,330.8 689,330.9 690,331.0 691,331.1 692,331.2 693,331.2 694,331.3 695,331.4 696,331.5 697,331.5 698,332.0 699,333.5 700,334.6 701,334.8 702,335.0 703,335.2 704,335.4 705,335.6 706,335.8 707,336.0 708,336.2 709,336.4 710,336.6 711,336.7 712,336.9 713,337.1 714,337.3 715,337.5 716,337.7 717,337.7 718,337.7 719,337.7 720,337.7 721,337.7 722,337.7 723,337.7 724,337.7 725,337.7 726,337.7 727,337.7 728,337.7 729,337.7 730,337.7 731,337.7 732,337.7 733,337.7 734,337.7 735,340.2 736,341.8 737,341.8 738,341.8 739,341.8 740,341.8 741,341.8 742,341.8 743,341.8 744,341.8 745,341.8 746,341.8 747,341.1 748,339.5 749,337.9 750,336.7 751,336.7 752,336.7 753,336.7 754,336.7 755,336.7 756,336.7 757,336.7 758,336.7 759,336.7 760,337.0 761,338.4 762,339.7 763,339.5 764,339.3 765,339.1 766,338.9 767,338.8 768,338.6 769,338.4 770,338.2 771,338.0 772,337.8 773,337.6 774,337.5 775,337.3 776,337.1 777,336.9 778,336.7 779,336.7 780,336.7 781,336.7 782,336.7 783,336.7 784,336.7 785,336.7 786,336.7 787,336.7 788,336.7 789,336.7 790,336.7 791,336.7 792,336.7 793,336.7 794,336.7 795,336.7 796,336.7 797,337.4 798,338.9 799,339.6 800,339.3 801,339.1 802,338.8 803,338.6 804,338.4 805,338.1 806,337.9 807,337.0 808,334.6 809,332.2 810,330.5 811,330.5 812,330.4 813,330.4 814,330.4 815,330.4 816,330.4 817,330.3 818,330.3 819,330.3 820,330.3 821,330.3 822,330.2 823,330.2 824,330.2 825,330.2 826,330.1 827,330.1 828,330.1 829,330.9 830,331.7 831,332.5 832,332.6 833,332.6 834,332.6 835,332.6 836,332.6 837,332.6 838,333.9 839,335.6 840,337.2 841,338.3 842,339.1 843,339.9 844,340.7 845,341.5 846,341.7 847,341.5 848,341.3 849,341.2 850,341.0 851,340.8 852,338.8 853,335.1 854,331.4 855,330.3 856,332.0 857,333.6 858,334.5 859,334.3 860,334.1 861,333.9 862,333.7 863,333.5 864,333.2 865,333.0 866,332.8 867,332.6 868,332.4 869,332.2 870,332.0 871,331.8 872,331.5 873,331.2 874,330.9 875,330.5 876,330.2 877,329.9 878,329.5 879,329.2 880,328.9 881,328.5 882,328.2 883,327.9 884,327.5 885,327.6 886,327.6 887,327.7 888,327.7 889,327.8 890,327.9 891,327.9 892,328.0 893,328.0 894,328.1 895,328.2 896,328.2 897,328.3 898,328.4 899,328.4 900,328.5 901,328.9 902,329.4 903,329.9 904,330.4 905,330.9 906,331.4 907,331.5 908,331.2 909,330.9 910,330.6 911,330.3 912,330.0 913,329.7 914,329.4 915,329.1 916,328.9 917,328.6 918,328.3 919,328.0 920,327.7 921,327.5 922,327.4 923,327.2 924,327.1 925,327.0 926,326.9 927,326.8 928,326.7 929,326.5 930,326.4 931,326.3 932,326.2 933,326.1 934,326.1 935,326.2 936,326.2 937,326.2 938,326.2 939,326.3 940,326.3 941,326.3 942,326.4 943,326.4 944,326.4 945,326.4 946,326.5 947,326.5 948,326.8 949,327.1 950,327.4 951,327.7 952,328.1 953,328.4 954,328.3 955,328.0 956,327.7 957,327.4 958,327.1 959,326.8 960,326.5 961,326.2 962,326.1 963,326.0 964,325.9 965,325.8 966,325.8 967,325.7 968,325.6 969,325.5 970,326.0 971,327.2 972,328.4 973,329.6 974,330.5 975,330.3 976,330.2 977,330.1 978,330.0 979,329.8 980,329.7 981,329.6 982,329.2 983,327.5 984,326.4 985,328.0 986,329.6 987,331.2 988,332.6 989,332.4 990,332.3 991,332.1 992,331.9 993,331.8 994,331.6 995,331.7 996,331.8 997,332.0 998,332.1 999,332.2 1000,332.3 1001,332.5 1002,332.6 1003,332.7 1004,332.8 1005,332.9 1006,333.1 1007,333.2 1008,333.3 1009,333.4 1010,333.6 1011,331.6 1012,328.7 1013,327.6 1014,327.8 1015,327.9 1016,328.1 1017,328.3 1018,328.4 1019,328.6 1020,328.7 1021,328.9 1022,329.1 1023,329.2 1024,329.4 1025,329.5 1026,329.4 1027,329.3 1028,329.3 1029,329.2 1030,329.1 1031,329.0 1032,329.0 1033,328.9 1034,328.8 1035,328.8 1036,328.7 1037,328.6 1038,328.6 1039,328.4 1040,327.9 1041,328.5 1042,329.1 1043,329.7 1044,330.3 1045,330.9 1046,331.6 1047,332.3 1048,332.9 1049,333.6 1050,334.3 1051,335.0 1052,335.6 1053,336.3 1054,336.7 1055,337.1 1056,337.4 1057,337.8 1058,338.1 1059,338.5 1060,338.8 1061,339.1 1062,339.4 1063,339.5 1064,339.5 1065,339.5 1066,339.5 1067,339.6 1068,339.7 1069,339.7 1070,339.8 1071,339.9 1072,340.0 1073,340.1 1074,340.2 1075,340.3 1076,340.3 1077,340.4 1078,340.5 1079,340.6 1080,340.7 1081,340.8 1082,340.9 1083,340.9 1084,341.3 1085,342.5 1086,343.6 1087,344.7 1088,345.8 1089,346.9 1090,346.4 1091,345.9 1092,345.4 1093,344.9 1094,345.0 1095,345.1 1096,345.1 1097,345.2 1098,345.2 1099,345.3 1100,345.3 1101,345.4 1102,345.5 1103,345.5 1104,345.6 1105,345.6 1106,345.7 1107,345.6 1108,345.5 1109,345.3 1110,345.2 1111,345.1 1112,344.9 1113,344.9 1114,345.0 1115,345.2 1116,345.4 1117,345.5 1118,345.7 1119,345.9 1120,346.1 1121,346.2 1122,346.4 1123,346.6 1124,346.7 1125,346.9 1126,347.1 1127,347.1 1128,347.2 1129,347.2 1130,347.2 1131,347.3 1132,347.3 1133,347.4 1134,347.4 1135,347.4 1136,347.5 1137,347.5 1138,347.5 1139,347.6 1140,347.6 1141,347.7 1142,347.7 1143,347.7 1144,347.8 1145,347.8 1146,347.9 1147,348.2 1148,348.6 1149,348.9 1150,349.2 1151,349.6 1152,349.9 1153,350.2 1154,350.5 1155,350.9 1156,351.2 1157,351.5 1158,351.8 1159,351.7 1160,351.7 1161,351.6 1162,351.6 1163,351.5 1164,351.5 1165,351.4 1166,351.4 1167,351.3 1168,351.3 1169,351.2 1170,351.2 1171,351.1 1172,351.1 1173,351.0 1174,351.0 1175,350.9 1176,350.9 1177,350.8 1178,350.8 1179,350.7 1180,350.7 1181,350.6 1182,350.6 1183,350.5 1184,350.5 1185,350.4 1186,350.4 1187,350.3 1188,350.3 1189,350.2 1190,350.2 1191,350.1 1192,350.1 1193,349.8 1194,349.4 1195,349.1 1196,348.7 1197,348.4 1198,348.0 1199,347.7 1200,347.3 1201,347.0 1202,346.9 1203,347.1 1204,347.3 1205,347.5 1206,347.8 1207,348.0 1208,348.2 1209,348.4 1210,348.6 1211,348.8 1212,349.0 1213,349.3 1214,349.5 1215,349.7 1216,349.9 1217,350.1 1218,350.3 1219,350.6 1220,350.8 1221,355.1 1222,356.8 1223,356.9 1224,357.0 1225,357.1 1226,357.2 1227,357.2 1228,357.3 1229,357.4 1230,357.5 1231,357.6 1232,357.7 1233,357.7 1234,357.8 1235,357.9 1236,358.0 1237,358.1 1238,358.2 1239,358.2 1240,358.3 1241,358.4 1242,358.5 1243,358.6 1244,358.7 1245,358.8 1246,358.8 1247,357.8 1248,356.2 1249,356.2 1250,356.2 1251,356.3 1252,356.3 1253,356.3 1254,356.3 1255,356.3 1256,356.4 1257,356.4 1258,356.4 1259,356.4 1260,356.4 1261,356.5 1262,356.5 1263,356.5 1264,356.5 1265,356.6 1266,356.7 1267,356.9 1268,357.1 1269,357.3 1270,357.4 1271,357.6 1272,357.8 1273,358.0 1274,358.2 1275,358.3 1276,358.5 1277,358.7 1278,358.9 1279,359.1 1280,359.2 1281,359.4 1282,359.6 1283,359.8 1284,359.9 1285,360.1 1286,360.3 1287,359.8 1288,359.0 1289,358.3 1290,358.3 1291,358.2 1292,358.1 1293,358.1 1294,358.0 1295,357.9 1296,357.9 1297,357.8 1298,357.7 1299,357.7 1300,357.6 1301,357.5 1302,357.5 1303,357.4 1304,357.4 1305,357.3 1306,357.2 1307,357.2 1308,357.1 1309,357.0 1310,357.0 1311,356.9 1312,356.9 1313,356.8 1314,356.7 1315,356.7 1316,356.6 1317,356.6 1318,356.5 1319,356.4 1320,356.4 1321,356.3 1322,356.3 1323,356.2 1324,356.1 1325,356.1 1326,356.0 1327,356.0 1328,355.9 1329,355.8 1330,355.8 1331,355.7 1332,355.7 1333,355.6 1334,355.5 1335,355.5 1336,355.4 1337,355.3 1338,355.3 1339,355.2 1340,355.2 1341,355.1 1342,355.2 1343,355.3 1344,355.4 1345,355.5 1346,355.6 1347,355.7 1348,355.8 1349,355.9 1350,356.0 1351,356.2 1352,356.3 1353,356.4 1354,356.5 1355,356.6 1356,356.7 1357,356.8 1358,356.9 1359,357.0 1360,357.2 1361,357.4 1362,357.8 1363,358.2 1364,358.6 1365,359.0 1366,359.3 1367,359.7 1368,360.1 1369,360.5 1370,360.9 1371,361.3 1372,361.7 1373,362.1 1374,362.5 1375,362.8 1376,363.2 1377,363.4 1378,363.6 1379,363.7 1380,363.9 1381,364.1 1382,364.3 1383,364.4 1384,364.6 1385,364.8 1386,365.0 1387,365.2 1388,365.3 1389,365.5 1390,365.7 1391,365.9 1392,366.0 1393,366.2 1394,366.4 1395,366.6 1396,366.8 1397,366.9 1398,367.1 1399,367.3 1400,367.3 1401,367.4 1402,367.5 1403,367.5 1404,367.6 1405,367.6 1406,367.7 1407,367.8 1408,367.8 1409,367.9 1410,367.9 1411,368.0 1412,368.1 1413,368.1 1414,368.2 1415,368.2 1416,368.3 1417,368.4 1418,368.4 1419,368.5 1420,368.6 1421,368.6 1422,368.7 1423,368.7 1424,368.8 1425,368.9 1426,368.9 1427,369.0 1428,369.0 1429,369.1 1430,369.2 1431,369.2 1432,369.3 1433,369.4 1434,369.4 1435,369.5 1436,369.5 1437,369.6 1438,369.6 1439,369.5 1440,369.5 1441,369.4 1442,369.4 1443,369.4 1444,369.3 1445,369.3 1446,369.2 1447,369.2 1448,369.1 1449,369.1 1450,369.0 1451,369.0 1452,368.9 1453,368.9 1454,368.8 1455,368.8 1456,368.7 1457,368.7 1458,368.7 1459,368.6 1460,368.6 1461,368.5 1462,368.5 1463,368.4 1464,368.4 1465,368.3 1466,368.3 1467,368.2 1468,368.2 1469,368.1 1470,368.0 1471,368.4 1472,368.8 1473,369.1 1474,369.5 1475,369.9 1476,370.3 1477,370.7 1478,371.0 1479,371.4 1480,371.8 1481,371.9 1482,372.1 1483,372.2 1484,372.3 1485,372.5 1486,372.6 1487,372.8 1488,372.9 1489,373.0 1490,373.2 1491,373.3 1492,373.4 1493,373.6 1494,373.7 1495,373.9 1496,374.0 1497,374.1 1498,374.3 1499,374.4 1500,374.5 1501,374.7 1502,374.8 1503,375.0 1504,375.1 1505,375.2 1506,375.4 1507,375.5 1508,375.6 1509,375.7 1510,375.7 1511,375.7 1512,375.7 1513,375.7 1514,375.7 1515,375.7 1516,375.7 1517,375.8 1518,375.8 1519,375.8 1520,375.8 1521,375.8 1522,375.8 1523,375.8 1524,375.8 1525,375.8 1526,375.8 1527,375.8 1528,375.8 1529,375.8 1530,375.8 1531,375.8 1532,375.8 1533,375.8 1534,375.8 1535,375.9 1536,375.9 1537,375.9 1538,375.9 1539,375.9 1540,375.9 1541,375.9 1542,375.9 1543,375.9 1544,375.9 1545,375.9 1546,375.9 1547,375.9 1548,375.9 1549,375.9 1550,375.9 1551,375.9 1552,376.0 1553,376.0 1554,376.0 1555,376.0 1556,376.0 1557,376.0 1558,376.0 1559,376.0 1560,376.0 1561,375.7 1562,375.3 1563,375.0 1564,374.6 1565,374.3 1566,373.9 1567,373.6 1568,373.2 1569,372.9 1570,372.5 1571,372.2 1572,371.8 1573,371.5 1574,371.1 1575,370.8 1576,370.5 1577,370.5 1578,370.4 1579,370.4 1580,370.4 1581,370.3 1582,370.3 1583,370.3 1584,370.2 1585,370.2 1586,370.2 1587,370.1 1588,370.1 1589,370.1 1590,370.0 1591,370.0 1592,370.0 1593,369.9 1594,369.9 1595,369.9 1596,369.8 1597,369.8 1598,369.7 1599,369.7 1600,369.7 1601,369.6 1602,369.6 1603,369.6 1604,369.5 1605,369.5 1606,369.5 1607,369.4 1608,369.4 1609,369.4 1610,369.3 1611,369.3 1612,369.3 1613,369.2 1614,369.2 1615,369.2 1616,369.1 1617,369.1 1618,369.1 1619,369.0 1620,369.0 1621,369.0 1622,368.9 1623,368.9 1624,368.9 1625,368.8 1626,368.8 1627,368.8 1628,368.7 1629,368.7 1630,368.7 1631,368.6 1632,368.6 1633,368.6 1634,368.5 1635,368.5 1636,368.5 1637,368.4 1638,368.4 1639,368.4 1640,368.3 1641,368.3 1642,368.3 1643,368.2 1644,368.2 1645,368.2 1646,368.1 1647,368.1 1648,368.1 1649,368.1 1650,368.1 1651,368.1 1652,368.1 1653,368.1 1654,368.1 1655,368.1 1656,368.1 1657,368.1 1658,368.1 1659,368.1 1660,368.1 1661,368.1 1662,368.1 1663,368.1 1664,368.1 1665,368.1 1666,368.1 1667,368.1 1668,368.1 1669,368.1 1670,368.1 1671,368.1 1672,368.1 1673,368.1 1674,368.1 1675,368.1 1676,368.1 1677,368.1 1678,368.1 1679,368.1 1680,368.1 1681,368.1 1682,368.1 1683,368.1 1684,368.1 1685,368.1 1686,368.1 1687,368.1 1688,368.1 1689,368.1 1690,368.1 1691,368.1 1692,368.1 1693,368.1 1694,368.1 1695,368.1 1696,368.1 1697,368.1 1698,368.1 1699,368.1 1700,368.1 1701,368.1 1702,368.1 1703,368.1 1704,368.2 1705,368.2 1706,368.2 1707,368.2 1708,368.3 1709,368.3 1710,368.3 1711,368.3 1712,368.4 1713,368.4 1714,368.4 1715,368.4 1716,368.5 1717,368.5 1718,368.5 1719,368.5 1720,368.6 1721,368.6 1722,368.6 1723,368.6 1724,368.7 1725,368.7 1726,368.7 1727,368.7 1728,368.8 1729,368.8 1730,368.8 1731,368.8 1732,368.9 1733,368.9 1734,368.9 1735,368.9 1736,369.0 1737,369.0 1738,369.0 1739,369.0 1740,369.1 1741,369.1 1742,369.1 1743,369.1 1744,369.2 1745,369.2 1746,369.2 1747,369.2 1748,369.3 1749,369.3 1750,369.3 1751,369.3 1752,369.4 1753,369.4 1754,369.4 1755,369.4 1756,369.5 1757,369.5 1758,369.5 1759,369.5 1760,369.6 1761,369.6 1762,369.6 1763,369.6 1764,369.7 1765,369.7 1766,369.8 1767,369.9 1768,370.0 1769,370.1 1770,370.2 1771,370.3 1772,370.4 1773,370.5 1774,370.6 1775,370.7 1776,370.8 1777,370.9 1778,371.0 1779,371.1 1780,371.2 1781,371.3 1782,371.4 1783,371.5 1784,371.6 1785,371.7 1786,371.8 1787,371.9 1788,372.0 1789,372.1 1790,372.2 1791,372.3 1792,372.4 1793,372.5 1794,372.6 1795,372.7 1796,372.8 1797,372.9 1798,373.0 1799,373.1 1800,373.2 1801,373.3 1802,373.4 1803,373.5 1804,373.6 1805,373.7 1806,373.8 1807,373.9 1808,374.0 1809,374.1 1810,374.2 1811,374.3 1812,374.4 1813,374.5 1814,374.6 1815,374.7 1816,374.8 1817,374.9 1818,375.0 1819,375.1 1820,375.2 1821,375.3 1822,375.4 1823,375.5 1824,375.6 1825,375.7 1826,375.8 1827,375.9 1828,376.0 1829,376.0 1830,376.0 1831,376.0 1832,376.0 1833,376.0 1834,376.0 1835,376.0 1836,376.0 1837,376.0 1838,376.0 1839,376.0 1840,376.0 1841,376.0 1842,376.0 1843,376.0 1844,376.0 1845,376.0 1846,376.0 1847,376.0 1848,376.0 1849,376.0 1850,376.0 1851,376.0 1852,376.0 1853,376.0 1854,376.0 1855,376.0 1856,376.0 1857,376.0 L1857,1355.0 Z" fill="#a3d7b1"/>
<path d="M380,1355.0 L380,355.0 381,354.4 382,353.7 383,353.1 384,352.5 385,351.9 386,351.4 387,350.9 388,350.4 389,344.2 390,337.4 391,330.7 392,329.4 393,329.5 394,329.7 395,354.0 396,364.3 397,364.1 398,363.9 399,363.8 400,363.6 401,363.4 402,363.2 403,363.1 404,362.9 405,362.7 406,362.5 407,362.4 408,362.2 409,362.0 410,361.9 411,361.7 412,361.5 413,362.0 414,363.3 415,364.7 416,366.1 417,367.5 418,366.4 419,359.2 420,352.1 421,348.1 422,351.6 423,354.3 424,354.3 425,354.3 426,354.3 427,354.3 428,354.3 429,354.3 430,354.3 431,354.3 432,354.3 433,354.3 434,354.3 435,354.3 436,354.3 437,354.3 438,354.3 439,354.3 440,349.7 441,344.6 442,346.8 443,349.9 444,350.5 445,350.7 446,351.0 447,351.3 448,351.6 449,351.9 450,352.2 451,352.5 452,352.8 453,353.0 454,353.3 455,353.6 456,353.9 457,354.2 458,356.4 459,360.0 460,358.5 461,353.6 462,351.1 463,351.0 464,350.9 465,350.8 466,350.6 467,350.5 468,350.4 469,350.3 470,349.9 471,349.0 472,348.2 473,347.4 474,346.5 475,345.7 476,345.0 477,344.7 478,344.4 479,344.1 480,343.8 481,343.5 482,343.2 483,342.9 484,342.6 485,342.3 486,342.0 487,341.6 488,341.2 489,340.8 490,340.4 491,340.0 492,339.6 493,339.2 494,338.8 495,338.4 496,338.0 497,337.7 498,337.3 499,337.0 500,336.7 501,336.3 502,336.0 503,332.9 504,329.2 505,325.5 506,321.7 507,320.6 508,320.6 509,320.6 510,320.6 511,320.6 512,320.6 513,320.6 514,320.6 515,320.6 516,320.6 517,320.6 518,320.6 519,320.6 520,320.6 521,320.6 522,320.6 523,320.5 524,320.4 525,320.2 526,320.0 527,319.9 528,319.7 529,319.6 530,319.4 531,319.2 532,319.1 533,318.9 534,318.7 535,318.7 536,319.1 537,319.4 538,319.8 539,320.2 540,320.6 541,321.0 542,321.4 543,321.7 544,321.7 545,321.7 546,321.7 547,321.7 548,321.7 549,321.7 550,321.7 551,321.7 552,321.7 553,321.7 554,321.7 555,321.7 556,321.7 557,321.7 558,321.7 559,321.7 560,322.4 561,323.2 562,324.0 563,324.9 564,325.7 565,326.5 566,326.1 567,325.1 568,324.1 569,323.0 570,322.0 571,321.0 572,320.6 573,320.5 574,320.4 575,320.4 576,320.3 577,320.3 578,320.2 579,320.1 580,320.1 581,320.0 582,319.9 583,319.9 584,319.8 585,319.8 586,319.7 587,319.6 588,319.9 589,320.9 590,321.7 591,321.7 592,321.7 593,321.7 594,321.7 595,321.7 596,321.7 597,321.7 598,321.7 599,321.9 600,324.1 601,324.1 602,324.0 603,324.0 604,324.0 605,323.9 606,323.9 607,323.9 608,323.9 609,323.8 610,323.8 611,323.8 612,323.7 613,323.7 614,324.6 615,325.7 616,326.7 617,327.8 618,328.9 619,330.0 620,331.1 621,332.2 622,333.3 623,334.4 624,335.5 625,336.5 626,337.5 627,338.5 628,339.5 629,340.6 630,341.6 631,342.6 632,343.6 633,344.8 634,346.2 635,347.0 636,346.7 637,346.4 638,346.1 639,345.8 640,345.5 641,345.2 642,344.9 643,344.6 644,344.3 645,344.0 646,343.6 647,343.3 648,342.9 649,342.5 650,342.1 651,341.7 652,341.3 653,340.5 654,336.0 655,331.4 656,326.8 657,326.8 658,326.9 659,326.9 660,327.0 661,327.0 662,327.0 663,327.1 664,327.1 665,327.2 666,327.2 667,327.2 668,327.3 669,327.3 670,327.4 671,327.4 672,327.4 673,327.5 674,327.5 675,327.5 676,327.6 677,327.6 678,327.7 679,327.7 680,327.7 681,327.8 682,328.9 683,330.8 684,331.8 685,331.9 686,332.0 687,332.1 688,332.1 689,332.2 690,332.3 691,332.4 692,332.5 693,332.5 694,332.6 695,332.7 696,332.8 697,332.8 698,333.3 699,334.8 700,335.9 701,336.1 702,336.3 703,336.5 704,336.7 705,336.9 706,337.1 707,337.3 708,337.5 709,337.7 710,337.9 711,338.0 712,338.2 713,338.4 714,338.6 715,338.8 716,339.0 717,339.0 718,339.0 719,339.0 720,339.0 721,339.0 722,339.0 723,339.0 724,339.0 725,339.0 726,339.0 727,339.0 728,339.0 729,339.0 730,339.0 731,339.0 732,339.0 733,339.0 734,339.0 735,341.5 736,343.1 737,343.1 738,343.1 739,343.1 740,343.1 741,343.1 742,343.1 743,343.1 744,343.1 745,343.1 746,343.1 747,342.4 748,340.8 749,339.2 750,338.0 751,338.0 752,338.0 753,338.0 754,338.0 755,338.0 756,338.0 757,338.0 758,338.0 759,338.0 760,338.3 761,339.7 762,341.0 763,340.8 764,340.6 765,340.4 766,340.2 767,340.1 768,339.9 769,339.7 770,339.5 771,339.3 772,339.1 773,338.9 774,338.8 775,341.8 776,341.8 777,341.8 778,341.8 779,341.8 780,341.8 781,341.8 782,341.8 783,341.8 784,341.8 785,341.8 786,341.8 787,341.8 788,341.8 789,341.8 790,341.8 791,341.8 792,341.8 793,341.8 794,341.8 795,341.8 796,341.8 797,341.8 798,341.8 799,341.8 800,341.8 801,341.8 802,341.8 803,341.8 804,341.8 805,341.8 806,341.8 807,341.0 808,338.2 809,335.5 810,333.6 811,333.6 812,333.6 813,333.6 814,333.6 815,333.6 816,333.6 817,333.6 818,333.6 819,333.6 820,333.6 821,333.6 822,333.6 823,333.6 824,333.6 825,333.6 826,333.6 827,333.6 828,333.6 829,334.2 830,334.8 831,335.4 832,335.9 833,336.5 834,337.1 835,337.7 836,338.3 837,338.9 838,339.5 839,340.0 840,340.6 841,341.2 842,341.8 843,342.4 844,343.0 845,343.6 846,343.2 847,342.2 848,341.3 849,341.2 850,341.0 851,340.8 852,338.8 853,336.1 854,335.1 855,334.5 856,334.4 857,334.3 858,334.5 859,334.3 860,334.1 861,333.9 862,333.8 863,333.7 864,333.6 865,333.5 866,333.4 867,333.3 868,333.2 869,333.1 870,333.0 871,332.9 872,332.8 873,332.7 874,332.6 875,332.5 876,332.4 877,332.3 878,332.2 879,332.1 880,332.0 881,331.9 882,331.8 883,331.7 884,331.6 885,331.7 886,331.7 887,331.8 888,331.9 889,331.9 890,332.0 891,332.1 892,332.2 893,332.2 894,332.3 895,332.4 896,332.4 897,332.5 898,332.6 899,332.6 900,332.7 901,332.8 902,332.9 903,332.9 904,333.0 905,333.1 906,333.1 907,333.2 908,333.3 909,333.3 910,333.4 911,333.5 912,333.6 913,333.5 914,333.4 915,333.2 916,333.1 917,332.9 918,332.8 919,332.6 920,332.5 921,332.3 922,332.2 923,332.0 924,331.9 925,331.7 926,331.6 927,331.4 928,331.2 929,331.1 930,330.9 931,330.8 932,330.6 933,330.5 934,330.5 935,330.4 936,330.4 937,330.4 938,330.4 939,330.3 940,330.3 941,330.3 942,330.3 943,330.2 944,330.2 945,330.2 946,330.1 947,330.1 948,330.1 949,330.1 950,330.0 951,330.0 952,330.0 953,330.0 954,329.9 955,329.9 956,329.9 957,329.8 958,329.8 959,329.8 960,329.8 961,329.7 962,329.7 963,329.7 964,329.7 965,329.6 966,329.6 967,329.6 968,329.5 969,329.5 970,330.1 971,331.6 972,333.1 973,334.6 974,335.6 975,335.6 976,335.6 977,335.6 978,335.6 979,335.6 980,335.6 981,335.6 982,335.6 983,335.6 984,335.7 985,336.2 986,336.7 987,337.2 988,337.7 989,337.8 990,337.9 991,338.0 992,338.1 993,338.2 994,338.2 995,338.3 996,338.4 997,338.5 998,338.6 999,338.7 1000,338.8 1001,338.9 1002,339.0 1003,339.0 1004,339.1 1005,339.2 1006,339.3 1007,339.4 1008,339.5 1009,339.6 1010,339.7 1011,337.3 1012,334.0 1013,332.6 1014,332.7 1015,332.7 1016,332.7 1017,332.8 1018,332.8 1019,332.9 1020,332.9 1021,332.9 1022,333.0 1023,333.0 1024,333.0 1025,333.1 1026,333.1 1027,333.2 1028,333.2 1029,333.2 1030,333.3 1031,333.3 1032,333.3 1033,333.4 1034,333.4 1035,333.5 1036,333.5 1037,333.5 1038,333.6 1039,334.0 1040,335.9 1041,336.7 1042,337.5 1043,338.3 1044,339.1 1045,339.9 1046,340.7 1047,341.5 1048,342.3 1049,343.1 1050,343.9 1051,344.7 1052,345.5 1053,346.3 1054,346.7 1055,346.9 1056,347.0 1057,347.2 1058,347.4 1059,347.6 1060,347.8 1061,348.0 1062,348.2 1063,348.4 1064,348.6 1065,348.8 1066,349.0 1067,349.1 1068,349.1 1069,349.1 1070,349.1 1071,349.1 1072,349.1 1073,349.1 1074,349.1 1075,349.1 1076,349.1 1077,349.1 1078,349.1 1079,349.1 1080,349.1 1081,349.1 1082,349.1 1083,349.1 1084,349.5 1085,350.7 1086,352.0 1087,353.2 1088,354.5 1089,355.7 1090,355.7 1091,355.7 1092,355.7 1093,355.7 1094,355.7 1095,355.7 1096,355.7 1097,355.7 1098,355.7 1099,355.7 1100,355.7 1101,355.7 1102,355.7 1103,355.7 1104,355.7 1105,355.7 1106,355.7 1107,355.6 1108,355.5 1109,355.4 1110,355.4 1111,355.3 1112,355.2 1113,355.1 1114,355.2 1115,355.3 1116,355.4 1117,355.5 1118,355.6 1119,355.7 1120,355.8 1121,355.9 1122,356.0 1123,356.1 1124,356.2 1125,356.3 1126,356.4 1127,356.5 1128,356.6 1129,356.7 1130,356.8 1131,356.9 1132,357.0 1133,357.1 1134,357.2 1135,357.3 1136,357.4 1137,357.5 1138,357.6 1139,357.7 1140,357.8 1141,357.9 1142,358.0 1143,358.1 1144,358.2 1145,358.3 1146,358.4 1147,358.7 1148,359.0 1149,359.3 1150,359.5 1151,359.8 1152,360.1 1153,360.4 1154,360.6 1155,360.9 1156,361.2 1157,361.5 1158,361.7 1159,361.7 1160,361.7 1161,361.6 1162,361.6 1163,361.6 1164,361.6 1165,361.6 1166,361.5 1167,361.5 1168,361.5 1169,361.5 1170,361.5 1171,361.4 1172,361.4 1173,361.4 1174,361.4 1175,361.4 1176,361.3 1177,361.3 1178,361.3 1179,361.3 1180,361.2 1181,361.2 1182,361.2 1183,361.2 1184,361.2 1185,361.1 1186,361.1 1187,361.1 1188,361.1 1189,361.1 1190,361.0 1191,361.0 1192,361.0 1193,360.8 1194,360.5 1195,360.2 1196,359.9 1197,359.7 1198,359.4 1199,359.1 1200,358.8 1201,358.5 1202,358.5 1203,358.8 1204,359.1 1205,359.4 1206,359.7 1207,360.0 1208,360.3 1209,360.5 1210,360.8 1211,361.1 1212,361.4 1213,361.7 1214,362.0 1215,362.3 1216,362.6 1217,362.8 1218,363.1 1219,363.4 1220,363.7 1221,366.6 1222,367.7 1223,367.8 1224,367.9 1225,368.0 1226,368.0 1227,368.1 1228,368.2 1229,368.3 1230,368.4 1231,368.4 1232,368.5 1233,368.6 1234,368.7 1235,368.7 1236,368.8 1237,368.9 1238,369.0 1239,369.0 1240,369.1 1241,369.2 1242,369.3 1243,369.3 1244,369.4 1245,369.5 1246,369.6 1247,369.1 1248,368.3 1249,368.4 1250,368.5 1251,368.5 1252,368.6 1253,368.7 1254,368.7 1255,368.8 1256,368.9 1257,368.9 1258,369.0 1259,369.1 1260,369.2 1261,369.2 1262,369.3 1263,369.4 1264,369.4 1265,369.5 1266,369.6 1267,369.6 1268,369.7 1269,369.8 1270,369.9 1271,369.9 1272,370.0 1273,370.1 1274,370.1 1275,370.2 1276,370.3 1277,370.4 1278,370.4 1279,370.5 1280,370.6 1281,370.6 1282,370.7 1283,370.8 1284,370.8 1285,370.9 1286,371.0 1287,371.0 1288,371.0 1289,371.0 1290,370.9 1291,370.9 1292,370.9 1293,370.9 1294,370.9 1295,370.9 1296,370.9 1297,370.8 1298,370.8 1299,370.8 1300,370.8 1301,370.8 1302,370.8 1303,370.8 1304,370.7 1305,370.7 1306,370.7 1307,370.7 1308,370.7 1309,370.7 1310,370.6 1311,370.6 1312,370.6 1313,370.6 1314,370.6 1315,370.6 1316,370.6 1317,370.5 1318,370.5 1319,370.5 1320,370.5 1321,370.5 1322,370.5 1323,370.5 1324,370.4 1325,370.4 1326,370.4 1327,370.4 1328,370.4 1329,370.4 1330,370.4 1331,370.3 1332,370.3 1333,370.3 1334,370.3 1335,370.3 1336,370.3 1337,370.2 1338,370.2 1339,370.2 1340,370.2 1341,370.2 1342,370.2 1343,370.2 1344,370.1 1345,370.1 1346,370.1 1347,370.1 1348,370.1 1349,370.1 1350,370.1 1351,370.0 1352,370.0 1353,370.0 1354,370.0 1355,370.0 1356,370.0 1357,370.0 1358,369.9 1359,369.9 1360,369.9 1361,370.1 1362,370.6 1363,371.1 1364,371.6 1365,372.1 1366,372.6 1367,373.1 1368,373.6 1369,374.1 1370,374.6 1371,375.1 1372,375.6 1373,376.1 1374,376.6 1375,377.1 1376,377.6 1377,377.7 1378,377.8 1379,377.9 1380,377.9 1381,378.0 1382,378.1 1383,378.2 1384,378.3 1385,378.3 1386,378.4 1387,378.5 1388,378.6 1389,378.7 1390,378.8 1391,378.8 1392,378.9 1393,379.0 1394,379.1 1395,379.2 1396,379.2 1397,379.3 1398,379.4 1399,379.5 1400,379.6 1401,379.7 1402,379.7 1403,379.8 1404,379.9 1405,380.0 1406,380.1 1407,380.1 1408,380.2 1409,380.3 1410,380.4 1411,380.5 1412,380.6 1413,380.6 1414,380.7 1415,380.8 1416,380.9 1417,381.0 1418,381.0 1419,381.1 1420,381.2 1421,381.3 1422,381.4 1423,381.5 1424,381.5 1425,381.6 1426,381.7 1427,381.8 1428,381.9 1429,381.9 1430,382.0 1431,382.1 1432,382.2 1433,382.3 1434,382.4 1435,382.4 1436,382.5 1437,382.6 1438,382.7 1439,382.8 1440,382.8 1441,382.9 1442,383.0 1443,383.1 1444,383.2 1445,383.3 1446,383.3 1447,383.4 1448,383.5 1449,383.6 1450,383.7 1451,383.7 1452,383.8 1453,383.9 1454,384.0 1455,384.1 1456,384.2 1457,384.2 1458,384.3 1459,384.4 1460,384.5 1461,384.6 1462,384.6 1463,384.7 1464,384.8 1465,384.9 1466,385.0 1467,385.1 1468,385.1 1469,385.2 1470,385.3 1471,385.1 1472,384.9 1473,384.7 1474,384.5 1475,384.3 1476,384.1 1477,383.9 1478,383.7 1479,383.5 1480,383.3 1481,383.6 1482,383.8 1483,384.1 1484,384.4 1485,384.6 1486,384.9 1487,385.2 1488,385.4 1489,385.7 1490,386.0 1491,386.3 1492,386.5 1493,386.8 1494,387.1 1495,387.3 1496,387.6 1497,387.9 1498,388.1 1499,388.4 1500,388.7 1501,388.9 1502,389.2 1503,389.5 1504,389.7 1505,390.0 1506,390.3 1507,390.6 1508,390.8 1509,391.1 1510,391.4 1511,391.6 1512,391.9 1513,392.2 1514,392.4 1515,392.7 1516,393.0 1517,392.9 1518,392.9 1519,392.8 1520,392.8 1521,392.7 1522,392.7 1523,392.6 1524,392.6 1525,392.5 1526,392.4 1527,392.4 1528,392.3 1529,392.3 1530,392.2 1531,392.2 1532,392.1 1533,392.0 1534,392.0 1535,391.9 1536,391.9 1537,391.8 1538,391.8 1539,391.7 1540,391.7 1541,391.6 1542,391.5 1543,391.5 1544,391.4 1545,391.4 1546,391.3 1547,391.3 1548,391.2 1549,391.1 1550,391.1 1551,391.0 1552,391.0 1553,390.9 1554,390.9 1555,390.8 1556,390.8 1557,390.7 1558,390.6 1559,390.6 1560,390.5 1561,390.5 1562,390.4 1563,390.4 1564,390.3 1565,390.2 1566,390.2 1567,390.1 1568,390.1 1569,390.0 1570,390.0 1571,389.9 1572,389.8 1573,389.8 1574,389.7 1575,389.7 1576,389.6 1577,389.6 1578,389.5 1579,389.5 1580,389.4 1581,389.3 1582,389.3 1583,389.2 1584,389.2 1585,389.1 1586,389.1 1587,389.1 1588,389.0 1589,389.0 1590,389.0 1591,389.0 1592,388.9 1593,388.9 1594,388.9 1595,388.9 1596,388.8 1597,388.8 1598,388.8 1599,388.8 1600,388.7 1601,388.7 1602,388.7 1603,388.7 1604,388.6 1605,388.6 1606,388.6 1607,388.6 1608,388.5 1609,388.5 1610,388.5 1611,388.5 1612,388.4 1613,388.4 1614,388.4 1615,388.4 1616,388.3 1617,388.3 1618,388.3 1619,388.3 1620,388.2 1621,388.2 1622,388.2 1623,388.2 1624,388.1 1625,388.1 1626,388.1 1627,388.1 1628,388.0 1629,388.0 1630,388.0 1631,388.0 1632,387.9 1633,387.9 1634,387.9 1635,387.9 1636,387.8 1637,387.8 1638,387.8 1639,387.8 1640,387.7 1641,387.7 1642,387.7 1643,387.7 1644,387.6 1645,387.6 1646,387.6 1647,387.6 1648,387.5 1649,387.5 1650,387.5 1651,387.5 1652,387.4 1653,387.4 1654,387.4 1655,387.4 1656,387.4 1657,387.3 1658,387.3 1659,387.3 1660,387.3 1661,387.2 1662,387.2 1663,387.2 1664,387.3 1665,387.3 1666,387.4 1667,387.4 1668,387.5 1669,387.5 1670,387.6 1671,387.6 1672,387.7 1673,387.7 1674,387.8 1675,387.8 1676,387.9 1677,387.9 1678,388.0 1679,388.0 1680,388.1 1681,388.1 1682,388.2 1683,388.2 1684,388.3 1685,388.3 1686,388.4 1687,388.4 1688,388.5 1689,388.5 1690,388.6 1691,388.6 1692,388.7 1693,388.7 1694,388.8 1695,388.8 1696,388.9 1697,388.9 1698,389.0 1699,389.0 1700,389.1 1701,389.1 1702,389.2 1703,389.2 1704,389.3 1705,389.3 1706,389.4 1707,389.4 1708,389.5 1709,389.5 1710,389.6 1711,389.6 1712,389.7 1713,389.7 1714,389.8 1715,389.8 1716,389.9 1717,389.9 1718,390.0 1719,390.0 1720,390.1 1721,390.1 1722,390.2 1723,390.2 1724,390.3 1725,390.3 1726,390.4 1727,390.4 1728,390.5 1729,390.5 1730,390.6 1731,390.6 1732,390.7 1733,390.7 1734,390.8 1735,390.8 1736,390.9 1737,391.0 1738,391.0 1739,391.1 1740,391.1 1741,391.2 1742,391.2 1743,391.3 1744,391.3 1745,391.4 1746,391.4 1747,391.5 1748,391.5 1749,391.6 1750,391.6 1751,391.7 1752,391.7 1753,391.8 1754,391.8 1755,391.9 1756,391.9 1757,392.0 1758,392.0 1759,392.1 1760,392.1 1761,392.2 1762,392.2 1763,392.3 1764,392.3 1765,392.4 1766,392.4 1767,392.5 1768,392.5 1769,392.6 1770,392.6 1771,392.7 1772,392.7 1773,392.8 1774,392.8 1775,392.9 1776,392.9 1777,393.0 1778,393.1 1779,393.2 1780,393.3 1781,393.5 1782,393.6 1783,393.7 1784,393.9 1785,394.0 1786,394.1 1787,394.3 1788,394.4 1789,394.5 1790,394.7 1791,394.8 1792,394.9 1793,395.1 1794,395.2 1795,395.3 1796,395.5 1797,395.6 1798,395.7 1799,395.9 1800,396.0 1801,396.1 1802,396.2 1803,396.4 1804,396.5 1805,396.6 1806,396.8 1807,396.9 1808,397.0 1809,397.2 1810,397.3 1811,397.4 1812,397.6 1813,397.7 1814,397.8 1815,398.0 1816,398.1 1817,398.2 1818,398.4 1819,398.5 1820,398.6 1821,398.8 1822,398.9 1823,399.0 1824,399.1 1825,399.3 1826,399.4 1827,399.5 1828,399.7 1829,399.8 1830,399.9 1831,400.1 1832,400.2 1833,400.3 1834,400.5 1835,400.6 1836,400.5 1837,400.4 1838,400.3 1839,400.3 1840,400.2 1841,400.1 1842,400.0 1843,399.9 1844,399.8 1845,399.7 1846,399.7 1847,399.6 1848,399.5 1849,399.4 1850,399.3 1851,399.2 1852,399.2 1853,399.1 1854,399.0 1855,398.9 1856,398.8 1857,398.7 L1857,1355.0 Z" fill="#d5eeaa"/>
<path d="M121,1355.0 L121,712.0 122,712.0 123,712.0 124,709.4 125,706.9 126,709.1 127,711.8 128,714.5 129,716.7 130,716.7 131,716.7 132,716.7 133,716.7 134,716.7 135,716.7 136,716.7 137,716.7 138,716.7 139,716.7 140,716.7 141,716.0 142,715.2 143,714.4 144,713.6 145,712.8 146,712.0 147,711.2 148,710.4 149,709.6 150,708.8 151,708.0 152,707.2 153,706.2 154,704.8 155,703.4 156,702.0 157,700.6 158,699.2 159,697.8 160,696.4 161,695.0 162,693.6 163,692.2 164,690.8 165,689.4 166,688.3 167,687.3 168,686.3 169,685.3 170,684.3 171,683.3 172,682.3 173,681.3 174,680.3 175,679.3 176,678.3 177,677.3 178,676.3 179,675.3 180,674.3 181,673.3 182,672.3 183,671.3 184,670.3 185,669.3 186,668.3 187,667.3 188,666.3 189,665.3 190,664.3 191,661.8 192,658.3 193,654.7 194,651.2 195,647.7 196,643.3 197,638.3 198,633.2 199,628.2 200,623.2 201,619.4 202,616.4 203,613.5 204,610.5 205,607.5 206,604.5 207,601.6 208,598.6 209,594.1 210,589.6 211,585.0 212,580.5 213,576.0 214,571.0 215,566.0 216,560.9 217,555.9 218,550.9 219,546.4 220,541.8 221,537.3 222,532.7 223,528.2 224,523.3 225,518.4 226,513.4 227,508.5 228,503.6 229,498.6 230,493.6 231,488.5 232,483.5 233,478.5 234,475.9 235,473.5 236,471.2 237,468.8 238,466.5 239,464.2 240,461.8 241,459.5 242,457.3 243,455.0 244,452.8 245,450.6 246,448.3 247,446.1 248,443.8 249,441.6 250,439.4 251,437.3 252,435.5 253,433.8 254,432.0 255,430.2 256,428.5 257,426.7 258,425.0 259,423.2 260,421.4 261,419.8 262,418.6 263,417.3 264,416.1 265,414.8 266,413.6 267,412.3 268,411.1 269,409.8 270,408.6 271,407.4 272,406.4 273,405.4 274,404.4 275,403.4 276,402.4 277,401.4 278,400.4 279,399.4 280,398.4 281,397.4 282,396.4 283,395.4 284,394.4 285,393.4 286,392.4 287,391.4 288,390.4 289,389.4 290,388.4 291,387.4 292,386.4 293,385.4 294,384.4 295,383.4 296,382.5 297,382.1 298,381.8 299,381.4 300,381.1 301,380.7 302,380.3 303,380.0 304,379.6 305,379.3 306,378.9 307,378.6 308,378.2 309,377.9 310,377.5 311,377.2 312,376.9 313,376.5 314,376.2 315,375.8 316,375.5 317,375.2 318,374.8 319,374.5 320,374.1 321,373.8 322,373.1 323,372.2 324,371.3 325,370.4 326,369.5 327,368.6 328,367.7 329,366.8 330,365.9 331,365.0 332,364.1 333,363.2 334,362.3 335,361.4 336,360.5 337,359.6 338,358.7 339,357.8 340,356.9 341,356.4 342,356.4 343,356.4 344,356.4 345,356.4 346,356.4 347,356.4 348,356.4 349,356.4 350,356.4 351,356.4 352,356.4 353,356.4 354,356.4 355,356.4 356,356.4 357,356.4 358,356.4 359,356.4 360,356.3 361,356.1 362,355.9 363,355.7 364,355.5 365,355.4 366,355.2 367,355.0 368,354.8 369,354.6 370,354.4 371,354.2 372,354.0 373,353.8 374,353.6 375,353.4 376,353.2 377,353.0 378,352.8 379,352.8 380,358.0 381,358.5 382,358.9 383,359.4 384,359.9 385,360.4 386,360.8 387,361.3 388,361.8 389,362.2 390,362.7 391,363.2 392,363.6 393,364.1 394,364.6 395,365.1 396,365.3 397,365.5 398,365.7 399,365.9 400,366.0 401,366.2 402,366.4 403,366.6 404,366.8 405,366.9 406,367.1 407,367.3 408,367.5 409,367.6 410,367.8 411,368.0 412,368.2 413,368.4 414,368.5 415,368.7 416,368.9 417,369.1 418,368.1 419,364.3 420,360.6 421,358.0 422,358.1 423,358.2 424,358.3 425,358.4 426,358.4 427,358.5 428,358.6 429,358.7 430,358.8 431,358.9 432,359.0 433,359.0 434,359.1 435,359.2 436,359.3 437,359.4 438,359.5 439,359.5 440,359.6 441,359.7 442,359.8 443,359.9 444,360.0 445,360.1 446,360.1 447,360.2 448,360.3 449,360.4 450,360.5 451,360.6 452,360.6 453,360.7 454,360.8 455,360.9 456,361.0 457,361.1 458,360.4 459,360.0 460,358.5 461,356.6 462,355.8 463,355.5 464,355.2 465,354.9 466,354.5 467,354.2 468,353.9 469,353.6 470,353.2 471,352.9 472,352.6 473,352.3 474,351.9 475,351.6 476,351.3 477,351.0 478,350.6 479,350.3 480,350.0 481,349.7 482,349.4 483,349.0 484,348.7 485,348.4 486,348.1 487,347.7 488,347.4 489,347.1 490,346.8 491,346.4 492,346.1 493,345.8 494,345.5 495,345.1 496,344.8 497,344.5 498,344.2 499,343.8 500,343.5 501,343.2 502,342.9 503,339.6 504,335.6 505,331.7 506,327.7 507,326.4 508,326.4 509,326.3 510,326.2 511,326.2 512,326.1 513,326.0 514,325.9 515,325.9 516,325.8 517,325.7 518,325.6 519,325.6 520,325.5 521,325.4 522,325.3 523,325.3 524,325.2 525,325.1 526,325.0 527,325.0 528,324.9 529,324.8 530,324.8 531,324.7 532,324.6 533,324.5 534,324.5 535,324.5 536,324.9 537,325.2 538,325.6 539,326.0 540,326.4 541,326.8 542,327.2 543,327.5 544,327.6 545,327.6 546,327.7 547,327.8 548,327.8 549,327.9 550,327.9 551,328.0 552,328.1 553,328.1 554,328.2 555,328.2 556,328.3 557,328.4 558,328.4 559,328.5 560,329.0 561,329.7 562,330.4 563,331.1 564,331.7 565,332.4 566,332.0 567,331.2 568,330.3 569,329.5 570,328.7 571,327.8 572,327.5 573,327.5 574,327.5 575,327.5 576,327.5 577,327.5 578,327.5 579,327.5 580,327.5 581,327.5 582,327.5 583,327.5 584,327.5 585,327.5 586,327.5 587,327.5 588,327.9 589,329.4 590,330.5 591,330.6 592,330.7 593,330.8 594,330.9 595,331.0 596,331.1 597,331.1 598,331.2 599,331.3 600,331.4 601,331.5 602,331.6 603,331.7 604,331.8 605,331.9 606,332.0 607,332.0 608,332.1 609,332.2 610,332.3 611,332.4 612,332.5 613,332.6 614,333.5 615,334.6 616,335.6 617,336.7 618,337.8 619,338.9 620,340.0 621,341.1 622,342.2 623,343.3 624,344.4 625,345.7 626,347.1 627,348.5 628,350.0 629,351.4 630,352.8 631,354.3 632,355.7 633,357.1 634,357.9 635,357.8 636,357.6 637,357.4 638,357.2 639,357.0 640,356.9 641,356.7 642,356.5 643,356.3 644,356.1 645,356.0 646,355.9 647,355.7 648,355.6 649,355.5 650,355.4 651,355.2 652,355.1 653,354.5 654,349.9 655,345.3 656,340.7 657,340.8 658,340.9 659,341.1 660,341.2 661,341.3 662,341.4 663,341.6 664,341.7 665,341.8 666,341.9 667,342.0 668,342.2 669,342.3 670,342.4 671,342.5 672,342.7 673,342.8 674,342.9 675,343.0 676,343.1 677,343.3 678,343.4 679,343.5 680,343.6 681,343.8 682,344.7 683,346.1 684,346.9 685,347.2 686,347.5 687,347.8 688,348.1 689,348.4 690,348.7 691,349.0 692,349.3 693,349.5 694,349.8 695,350.1 696,350.4 697,350.7 698,351.0 699,351.2 700,351.4 701,351.6 702,351.9 703,352.1 704,352.3 705,352.5 706,352.8 707,353.0 708,353.2 709,353.4 710,353.7 711,353.9 712,354.1 713,354.3 714,354.6 715,354.8 716,355.0 717,355.1 718,355.2 719,355.3 720,355.4 721,355.5 722,355.7 723,355.8 724,355.9 725,356.0 726,356.1 727,356.2 728,356.3 729,356.4 730,356.5 731,356.6 732,356.7 733,356.8 734,357.0 735,358.9 736,360.1 737,360.1 738,360.1 739,360.1 740,360.1 741,360.1 742,360.1 743,360.1 744,360.1 745,360.1 746,360.1 747,360.0 748,359.8 749,359.5 750,359.3 751,359.1 752,358.8 753,358.6 754,358.4 755,358.1 756,357.9 757,357.7 758,357.4 759,357.2 760,357.2 761,358.2 762,359.1 763,359.0 764,359.0 765,358.9 766,358.9 767,358.8 768,358.7 769,358.7 770,358.6 771,358.5 772,358.5 773,358.4 774,358.4 775,358.3 776,358.2 777,358.2 778,358.1 779,358.1 780,358.0 781,357.9 782,357.9 783,357.8 784,357.8 785,357.7 786,357.6 787,357.6 788,357.5 789,357.5 790,357.4 791,357.3 792,357.3 793,357.2 794,357.2 795,357.1 796,357.0 797,357.2 798,357.8 799,357.9 800,357.6 801,357.4 802,357.1 803,356.9 804,356.7 805,356.4 806,356.2 807,355.5 808,353.8 809,352.1 810,350.9 811,350.9 812,350.9 813,350.9 814,350.9 815,350.9 816,350.9 817,350.9 818,350.9 819,350.9 820,350.9 821,350.9 822,350.9 823,350.9 824,350.9 825,350.9 826,350.9 827,350.9 828,350.9 829,351.9 830,352.9 831,353.9 832,354.5 833,355.1 834,355.6 835,356.2 836,356.7 837,357.3 838,357.8 839,358.4 840,358.9 841,359.4 842,359.8 843,360.2 844,360.6 845,360.9 846,361.0 847,360.8 848,360.7 849,360.5 850,360.3 851,360.2 852,358.9 853,356.6 854,354.2 855,352.9 856,352.8 857,352.7 858,352.5 859,352.4 860,352.2 861,352.1 862,352.0 863,351.8 864,351.7 865,351.5 866,351.4 867,351.3 868,351.1 869,351.0 870,350.9 871,350.7 872,350.6 873,350.4 874,350.3 875,350.2 876,350.0 877,349.9 878,349.7 879,349.6 880,349.5 881,349.3 882,349.2 883,349.1 884,348.9 885,349.1 886,349.3 887,349.4 888,349.6 889,349.8 890,350.0 891,350.2 892,350.4 893,350.5 894,350.7 895,350.9 896,351.1 897,351.3 898,351.5 899,351.7 900,351.8 901,351.9 902,351.9 903,351.9 904,351.9 905,351.9 906,351.9 907,351.9 908,351.9 909,351.9 910,351.9 911,351.9 912,351.9 913,351.9 914,351.9 915,351.9 916,351.9 917,351.9 918,351.9 919,351.9 920,351.9 921,351.9 922,351.9 923,351.9 924,351.9 925,351.9 926,351.9 927,351.9 928,351.9 929,351.9 930,351.9 931,351.9 932,351.9 933,351.9 934,351.9 935,352.0 936,352.0 937,352.0 938,352.1 939,352.1 940,352.1 941,352.1 942,352.2 943,352.2 944,352.2 945,352.3 946,352.3 947,352.3 948,352.4 949,352.4 950,352.4 951,352.4 952,352.5 953,352.5 954,352.5 955,352.6 956,352.6 957,352.6 958,352.7 959,352.7 960,352.7 961,352.7 962,352.8 963,352.8 964,352.8 965,352.9 966,352.9 967,352.9 968,353.0 969,353.0 970,353.4 971,354.4 972,355.3 973,356.3 974,357.0 975,357.0 976,357.0 977,357.0 978,357.0 979,357.0 980,357.0 981,357.0 982,357.0 983,357.0 984,357.2 985,358.2 986,359.2 987,360.2 988,361.1 989,361.1 990,361.0 991,361.0 992,360.9 993,360.9 994,360.8 995,360.8 996,360.7 997,360.7 998,360.6 999,360.6 1000,360.6 1001,360.5 1002,360.5 1003,360.4 1004,360.4 1005,360.3 1006,360.3 1007,360.2 1008,360.2 1009,360.2 1010,360.1 1011,359.8 1012,359.3 1013,359.2 1014,359.3 1015,359.5 1016,359.6 1017,359.8 1018,359.9 1019,360.1 1020,360.3 1021,360.4 1022,360.6 1023,360.7 1024,360.9 1025,361.0 1026,361.2 1027,361.3 1028,361.5 1029,361.6 1030,361.8 1031,361.9 1032,362.1 1033,362.2 1034,362.4 1035,362.5 1036,362.7 1037,362.8 1038,363.0 1039,363.2 1040,363.7 1041,364.6 1042,365.5 1043,366.4 1044,367.3 1045,368.2 1046,369.1 1047,370.0 1048,370.9 1049,371.8 1050,372.7 1051,373.6 1052,374.5 1053,375.4 1054,375.8 1055,376.0 1056,376.3 1057,376.5 1058,376.8 1059,377.0 1060,377.3 1061,377.5 1062,377.8 1063,378.0 1064,378.3 1065,378.5 1066,378.8 1067,379.0 1068,379.1 1069,379.2 1070,379.3 1071,379.4 1072,379.5 1073,379.7 1074,379.8 1075,379.9 1076,380.0 1077,380.1 1078,380.2 1079,380.4 1080,380.5 1081,380.6 1082,380.7 1083,380.8 1084,381.2 1085,382.2 1086,383.2 1087,384.2 1088,385.2 1089,386.2 1090,386.2 1091,386.1 1092,386.1 1093,386.0 1094,386.0 1095,386.0 1096,385.9 1097,385.9 1098,385.8 1099,385.8 1100,385.8 1101,385.7 1102,385.7 1103,385.6 1104,385.6 1105,385.5 1106,385.5 1107,385.6 1108,385.8 1109,385.9 1110,386.1 1111,386.2 1112,386.4 1113,386.5 1114,386.7 1115,386.8 1116,387.0 1117,387.1 1118,387.3 1119,387.4 1120,387.6 1121,387.7 1122,387.9 1123,388.0 1124,388.2 1125,388.3 1126,388.5 1127,388.6 1128,388.8 1129,388.9 1130,389.1 1131,389.2 1132,389.4 1133,389.6 1134,389.7 1135,389.9 1136,390.0 1137,390.2 1138,390.3 1139,390.5 1140,390.6 1141,390.8 1142,390.9 1143,391.1 1144,391.2 1145,391.4 1146,391.5 1147,391.7 1148,392.0 1149,392.2 1150,392.4 1151,392.6 1152,392.8 1153,393.1 1154,393.3 1155,393.5 1156,393.7 1157,393.9 1158,394.1 1159,394.1 1160,394.0 1161,394.0 1162,393.9 1163,393.9 1164,393.9 1165,393.8 1166,393.8 1167,393.8 1168,393.7 1169,393.7 1170,393.6 1171,393.6 1172,393.6 1173,393.5 1174,393.5 1175,393.5 1176,393.4 1177,393.4 1178,393.3 1179,393.3 1180,393.3 1181,393.2 1182,393.2 1183,393.1 1184,393.1 1185,393.1 1186,393.0 1187,393.0 1188,393.0 1189,392.9 1190,392.9 1191,392.8 1192,392.8 1193,392.6 1194,392.4 1195,392.2 1196,392.0 1197,391.8 1198,391.6 1199,391.3 1200,391.1 1201,390.9 1202,391.0 1203,391.4 1204,391.8 1205,392.2 1206,392.6 1207,393.0 1208,393.4 1209,393.8 1210,394.2 1211,394.5 1212,394.9 1213,395.3 1214,395.7 1215,396.1 1216,396.5 1217,396.9 1218,397.3 1219,397.7 1220,398.1 1221,401.4 1222,402.8 1223,402.9 1224,403.0 1225,403.2 1226,403.3 1227,403.4 1228,403.6 1229,403.7 1230,403.8 1231,404.0 1232,404.1 1233,404.2 1234,404.4 1235,404.5 1236,404.6 1237,404.8 1238,404.9 1239,405.0 1240,405.1 1241,405.3 1242,405.4 1243,405.5 1244,405.7 1245,405.8 1246,405.9 1247,405.3 1248,404.1 1249,404.2 1250,404.3 1251,404.4 1252,404.5 1253,404.6 1254,404.7 1255,404.8 1256,404.9 1257,405.0 1258,405.1 1259,405.2 1260,405.3 1261,405.4 1262,405.5 1263,405.6 1264,405.7 1265,405.8 1266,405.9 1267,406.1 1268,406.2 1269,406.3 1270,406.4 1271,406.5 1272,406.6 1273,406.7 1274,406.8 1275,406.9 1276,407.0 1277,407.1 1278,407.2 1279,407.3 1280,407.4 1281,407.5 1282,407.6 1283,407.7 1284,407.8 1285,407.9 1286,408.0 1287,408.0 1288,408.0 1289,408.0 1290,408.0 1291,408.0 1292,408.0 1293,408.0 1294,408.0 1295,408.0 1296,408.0 1297,408.0 1298,408.0 1299,408.1 1300,408.1 1301,408.1 1302,408.1 1303,408.1 1304,408.1 1305,408.1 1306,408.1 1307,408.1 1308,408.1 1309,408.1 1310,408.1 1311,408.1 1312,408.1 1313,408.1 1314,408.1 1315,408.1 1316,408.1 1317,408.1 1318,408.1 1319,408.1 1320,408.1 1321,408.1 1322,408.1 1323,408.1 1324,408.2 1325,408.2 1326,408.2 1327,408.2 1328,408.2 1329,408.2 1330,408.2 1331,408.2 1332,408.2 1333,408.2 1334,408.2 1335,408.2 1336,408.2 1337,408.2 1338,408.2 1339,408.2 1340,408.2 1341,408.2 1342,408.2 1343,408.2 1344,408.2 1345,408.2 1346,408.2 1347,408.2 1348,408.2 1349,408.3 1350,408.3 1351,408.3 1352,408.3 1353,408.3 1354,408.3 1355,408.3 1356,408.3 1357,408.3 1358,408.3 1359,408.3 1360,408.3 1361,408.6 1362,409.1 1363,409.6 1364,410.1 1365,410.6 1366,411.1 1367,411.6 1368,412.1 1369,412.5 1370,413.0 1371,413.5 1372,414.0 1373,414.5 1374,415.0 1375,415.5 1376,416.0 1377,416.1 1378,416.2 1379,416.3 1380,416.4 1381,416.5 1382,416.6 1383,416.7 1384,416.8 1385,416.8 1386,416.9 1387,417.0 1388,417.1 1389,417.2 1390,417.3 1391,417.4 1392,417.5 1393,417.6 1394,417.7 1395,417.8 1396,417.9 1397,418.0 1398,418.1 1399,418.1 1400,418.2 1401,418.3 1402,418.4 1403,418.5 1404,418.6 1405,418.7 1406,418.8 1407,418.9 1408,419.0 1409,419.1 1410,419.2 1411,419.3 1412,419.4 1413,419.4 1414,419.5 1415,419.6 1416,419.7 1417,419.8 1418,419.9 1419,420.0 1420,420.1 1421,420.2 1422,420.3 1423,420.4 1424,420.5 1425,420.6 1426,420.7 1427,420.7 1428,420.8 1429,420.9 1430,421.0 1431,421.1 1432,421.2 1433,421.3 1434,421.4 1435,421.5 1436,421.6 1437,421.7 1438,421.7 1439,421.7 1440,421.7 1441,421.7 1442,421.7 1443,421.7 1444,421.7 1445,421.7 1446,421.7 1447,421.7 1448,421.7 1449,421.7 1450,421.7 1451,421.7 1452,421.7 1453,421.7 1454,421.8 1455,421.8 1456,421.8 1457,421.8 1458,421.8 1459,421.8 1460,421.8 1461,421.8 1462,421.8 1463,421.8 1464,421.8 1465,421.8 1466,421.8 1467,421.8 1468,421.8 1469,421.8 1470,421.8 1471,422.0 1472,422.2 1473,422.4 1474,422.6 1475,422.8 1476,422.9 1477,423.1 1478,423.3 1479,423.5 1480,423.7 1481,423.8 1482,424.0 1483,424.1 1484,424.2 1485,424.4 1486,424.5 1487,424.6 1488,424.8 1489,424.9 1490,425.0 1491,425.2 1492,425.3 1493,425.4 1494,425.6 1495,425.7 1496,425.8 1497,426.0 1498,426.1 1499,426.2 1500,426.4 1501,426.5 1502,426.6 1503,426.8 1504,426.9 1505,427.0 1506,427.2 1507,427.3 1508,427.4 1509,427.6 1510,427.7 1511,427.9 1512,428.0 1513,428.2 1514,428.3 1515,428.5 1516,428.6 1517,428.8 1518,428.9 1519,429.1 1520,429.2 1521,429.4 1522,429.6 1523,429.7 1524,429.9 1525,430.0 1526,430.2 1527,430.3 1528,430.5 1529,430.6 1530,430.8 1531,430.9 1532,431.1 1533,431.2 1534,431.4 1535,431.5 1536,431.7 1537,431.8 1538,432.0 1539,432.1 1540,432.3 1541,432.4 1542,432.6 1543,432.7 1544,432.9 1545,433.0 1546,433.2 1547,433.3 1548,433.5 1549,433.6 1550,433.8 1551,433.9 1552,434.1 1553,434.2 1554,434.4 1555,434.5 1556,434.7 1557,434.8 1558,435.0 1559,435.1 1560,435.3 1561,435.4 1562,435.6 1563,435.7 1564,435.9 1565,436.0 1566,436.2 1567,436.3 1568,436.5 1569,436.6 1570,436.8 1571,436.9 1572,437.1 1573,437.2 1574,437.4 1575,437.5 1576,437.7 1577,437.8 1578,438.0 1579,438.1 1580,438.3 1581,438.5 1582,438.6 1583,438.8 1584,438.9 1585,439.1 1586,439.1 1587,439.2 1588,439.2 1589,439.3 1590,439.3 1591,439.4 1592,439.4 1593,439.5 1594,439.5 1595,439.6 1596,439.6 1597,439.7 1598,439.7 1599,439.8 1600,439.8 1601,439.9 1602,439.9 1603,440.0 1604,440.0 1605,440.1 1606,440.1 1607,440.2 1608,440.2 1609,440.3 1610,440.3 1611,440.4 1612,440.4 1613,440.5 1614,440.5 1615,440.6 1616,440.6 1617,440.7 1618,440.7 1619,440.8 1620,440.8 1621,440.9 1622,440.9 1623,441.0 1624,441.0 1625,441.1 1626,441.1 1627,441.2 1628,441.2 1629,441.3 1630,441.3 1631,441.4 1632,441.4 1633,441.5 1634,441.5 1635,441.6 1636,441.6 1637,441.7 1638,441.7 1639,441.8 1640,441.8 1641,441.9 1642,441.9 1643,442.0 1644,442.0 1645,442.1 1646,442.1 1647,442.2 1648,442.2 1649,442.3 1650,442.3 1651,442.4 1652,442.4 1653,442.4 1654,442.5 1655,442.5 1656,442.6 1657,442.6 1658,442.7 1659,442.7 1660,442.8 1661,442.8 1662,442.9 1663,442.9 1664,442.9 1665,443.0 1666,443.0 1667,443.0 1668,443.0 1669,443.1 1670,443.1 1671,443.1 1672,443.1 1673,443.2 1674,443.2 1675,443.2 1676,443.2 1677,443.3 1678,443.3 1679,443.3 1680,443.3 1681,443.4 1682,443.4 1683,443.4 1684,443.4 1685,443.5 1686,443.5 1687,443.5 1688,443.5 1689,443.6 1690,443.6 1691,443.6 1692,443.6 1693,443.7 1694,443.7 1695,443.7 1696,443.7 1697,443.8 1698,443.8 1699,443.8 1700,443.8 1701,443.9 1702,443.9 1703,443.9 1704,443.9 1705,444.0 1706,444.0 1707,444.0 1708,444.0 1709,444.1 1710,444.1 1711,444.1 1712,444.1 1713,444.2 1714,444.2 1715,444.2 1716,444.2 1717,444.3 1718,444.3 1719,444.3 1720,444.3 1721,444.4 1722,444.4 1723,444.4 1724,444.4 1725,444.5 1726,444.5 1727,444.5 1728,444.5 1729,444.6 1730,444.6 1731,444.6 1732,444.6 1733,444.7 1734,444.7 1735,444.7 1736,444.7 1737,444.8 1738,444.8 1739,444.8 1740,444.9 1741,445.0 1742,445.1 1743,445.2 1744,445.3 1745,445.4 1746,445.5 1747,445.6 1748,445.7 1749,445.8 1750,445.9 1751,446.0 1752,446.1 1753,446.2 1754,446.3 1755,446.4 1756,446.5 1757,446.6 1758,446.7 1759,446.8 1760,446.9 1761,447.0 1762,447.1 1763,447.2 1764,447.3 1765,447.4 1766,447.5 1767,447.6 1768,447.7 1769,447.8 1770,447.9 1771,448.0 1772,448.1 1773,448.2 1774,448.3 1775,448.4 1776,448.5 1777,448.6 1778,448.7 1779,448.8 1780,448.9 1781,449.0 1782,449.1 1783,449.2 1784,449.3 1785,449.4 1786,449.5 1787,449.6 1788,449.7 1789,449.8 1790,449.9 1791,450.0 1792,450.1 1793,450.2 1794,450.3 1795,450.4 1796,450.5 1797,450.6 1798,450.7 1799,450.8 1800,450.9 1801,451.0 1802,451.1 1803,451.2 1804,451.3 1805,451.4 1806,451.5 1807,451.6 1808,451.7 1809,451.8 1810,451.9 1811,452.0 1812,452.1 1813,452.2 1814,452.3 1815,452.4 1816,452.5 1817,452.4 1818,452.4 1819,452.4 1820,452.3 1821,452.3 1822,452.2 1823,452.2 1824,452.1 1825,452.1 1826,452.0 1827,452.0 1828,451.9 1829,451.9 1830,451.8 1831,451.8 1832,451.8 1833,451.7 1834,451.7 1835,451.6 1836,451.6 1837,451.5 1838,451.5 1839,451.4 1840,451.4 1841,451.3 1842,451.3 1843,451.3 1844,451.2 1845,451.2 1846,451.1 1847,451.1 1848,451.0 1849,451.0 1850,450.9 1851,450.9 1852,450.8 1853,450.8 1854,450.8 1855,450.7 1856,450.7 1857,450.6 L1857,1355.0 Z" fill="#f4f8b9"/>
<path d="M121,1355.0 L121,796.3 122,795.9 123,795.0 124,794.2 125,793.3 126,792.5 127,791.6 128,790.7 129,789.9 130,789.0 131,788.2 132,787.3 133,786.5 134,785.6 135,784.8 136,783.9 137,783.0 138,782.2 139,781.3 140,780.5 141,779.6 142,778.8 143,777.9 144,777.1 145,776.2 146,775.4 147,774.5 148,773.6 149,772.2 150,770.4 151,768.6 152,766.8 153,765.0 154,763.2 155,761.4 156,759.6 157,757.8 158,756.0 159,754.2 160,752.4 161,750.6 162,748.8 163,747.0 164,745.2 165,743.4 166,741.6 167,739.8 168,738.8 169,739.0 170,739.2 171,739.4 172,739.6 173,739.3 174,736.6 175,734.0 176,731.4 177,728.7 178,726.1 179,723.5 180,720.8 181,718.2 182,715.6 183,712.9 184,710.3 185,707.7 186,704.8 187,701.8 188,698.8 189,695.7 190,692.7 191,689.7 192,686.7 193,683.7 194,680.7 195,677.6 196,674.6 197,671.6 198,668.5 199,664.8 200,661.1 201,657.4 202,653.6 203,649.9 204,646.2 205,642.5 206,638.7 207,635.0 208,631.3 209,626.3 210,621.2 211,616.2 212,611.2 213,606.2 214,601.1 215,596.1 216,591.4 217,587.1 218,582.7 219,578.3 220,574.0 221,569.6 222,565.3 223,560.9 224,555.6 225,550.3 226,545.0 227,539.7 228,534.5 229,529.2 230,523.9 231,519.6 232,516.8 233,514.1 234,511.3 235,508.6 236,505.8 237,503.0 238,500.3 239,497.5 240,494.8 241,492.6 242,491.4 243,490.1 244,488.9 245,487.6 246,486.4 247,485.1 248,483.9 249,482.6 250,481.4 251,480.3 252,479.4 253,478.6 254,477.8 255,477.0 256,476.2 257,475.4 258,474.6 259,473.8 260,473.0 261,472.2 262,471.4 263,470.5 264,469.7 265,468.9 266,468.1 267,467.3 268,466.6 269,466.4 270,466.2 271,466.0 272,465.8 273,465.6 274,465.4 275,465.2 276,465.0 277,464.8 278,464.6 279,464.4 280,464.2 281,464.0 282,463.8 283,463.4 284,463.0 285,462.6 286,462.2 287,461.8 288,461.4 289,461.0 290,460.6 291,460.2 292,459.8 293,459.4 294,459.0 295,458.6 296,458.2 297,458.6 298,459.0 299,459.4 300,459.7 301,460.1 302,460.5 303,460.9 304,461.2 305,461.6 306,462.0 307,462.4 308,460.0 309,457.4 310,454.8 311,452.2 312,449.5 313,446.9 314,444.3 315,444.1 316,443.9 317,443.8 318,443.6 319,443.4 320,443.2 321,443.0 322,442.8 323,442.7 324,442.5 325,442.3 326,442.1 327,441.9 328,441.8 329,441.6 330,443.3 331,446.3 332,449.3 333,447.5 334,444.5 335,441.5 336,438.5 337,435.5 338,431.9 339,425.9 340,419.9 341,416.4 342,416.5 343,416.7 344,416.9 345,417.0 346,417.2 347,417.4 348,417.5 349,417.7 350,417.9 351,418.0 352,418.2 353,418.4 354,418.5 355,418.7 356,418.9 357,419.0 358,419.2 359,419.4 360,419.5 361,419.7 362,419.9 363,420.0 364,420.2 365,420.4 366,421.7 367,425.7 368,429.7 369,431.7 370,431.7 371,431.7 372,431.7 373,431.7 374,431.7 375,431.7 376,431.7 377,431.7 378,431.7 379,431.7 380,431.3 381,430.1 382,428.9 383,427.7 384,426.5 385,425.3 386,424.1 387,423.2 388,422.9 389,422.5 390,422.2 391,422.5 392,428.5 393,434.5 394,438.7 395,438.8 396,438.8 397,438.9 398,438.9 399,439.0 400,439.1 401,439.1 402,439.2 403,439.2 404,439.3 405,439.3 406,439.4 407,439.4 408,439.5 409,439.6 410,439.6 411,439.7 412,439.7 413,439.8 414,439.8 415,439.9 416,439.9 417,440.0 418,440.1 419,439.1 420,434.1 421,429.1 422,426.1 423,426.1 424,426.1 425,426.1 426,426.1 427,426.1 428,426.1 429,426.1 430,426.1 431,426.1 432,426.1 433,426.1 434,426.1 435,426.1 436,426.1 437,426.1 438,426.1 439,426.1 440,426.1 441,426.1 442,426.3 443,426.6 444,426.8 445,427.1 446,427.3 447,427.6 448,427.8 449,428.1 450,428.3 451,428.6 452,428.8 453,429.1 454,429.3 455,429.6 456,429.8 457,430.1 458,430.0 459,427.0 460,424.0 461,421.7 462,420.9 463,420.1 464,419.4 465,418.6 466,417.9 467,417.1 468,416.3 469,415.6 470,414.8 471,414.1 472,413.3 473,412.5 474,411.8 475,411.0 476,410.3 477,409.5 478,408.7 479,408.0 480,407.2 481,406.5 482,405.7 483,404.9 484,404.2 485,403.4 486,402.6 487,401.9 488,401.1 489,400.4 490,399.6 491,398.8 492,398.1 493,397.3 494,396.6 495,395.8 496,395.0 497,394.3 498,393.5 499,392.8 500,392.0 501,391.2 502,390.5 503,389.7 504,389.0 505,388.8 506,388.5 507,388.3 508,388.0 509,387.8 510,387.5 511,387.3 512,387.0 513,386.8 514,386.5 515,386.3 516,386.0 517,385.8 518,385.5 519,385.3 520,385.0 521,384.8 522,384.5 523,384.3 524,384.0 525,383.8 526,383.5 527,383.3 528,383.0 529,382.8 530,382.5 531,382.3 532,382.0 533,381.8 534,381.5 535,381.6 536,382.0 537,382.5 538,382.9 539,383.3 540,383.8 541,384.2 542,384.6 543,385.0 544,385.5 545,385.9 546,386.3 547,386.7 548,387.2 549,387.6 550,388.0 551,388.5 552,388.9 553,389.3 554,389.7 555,390.2 556,390.6 557,391.0 558,391.4 559,391.9 560,392.3 561,392.7 562,392.8 563,392.5 564,392.3 565,392.0 566,391.8 567,391.5 568,391.3 569,391.0 570,390.8 571,390.5 572,390.3 573,390.0 574,389.8 575,389.5 576,389.3 577,389.2 578,389.4 579,389.7 580,390.0 581,390.3 582,390.6 583,390.9 584,391.2 585,391.4 586,391.7 587,392.0 588,392.3 589,392.6 590,392.9 591,393.2 592,393.5 593,393.7 594,394.0 595,394.3 596,394.6 597,394.9 598,395.2 599,395.5 600,395.7 601,396.0 602,396.3 603,396.6 604,397.0 605,397.8 606,398.5 607,399.3 608,400.0 609,400.8 610,401.5 611,402.3 612,403.0 613,403.8 614,404.5 615,405.3 616,406.0 617,406.8 618,407.5 619,408.3 620,410.0 621,411.6 622,413.3 623,414.9 624,416.6 625,418.2 626,419.9 627,421.5 628,423.2 629,424.9 630,426.5 631,427.3 632,426.7 633,426.1 634,425.6 635,425.0 636,424.4 637,423.8 638,423.3 639,422.7 640,422.1 641,421.5 642,421.0 643,420.4 644,419.8 645,419.3 646,418.7 647,418.1 648,417.5 649,417.0 650,416.4 651,415.8 652,415.2 653,414.7 654,414.1 655,413.5 656,413.0 657,412.4 658,412.2 659,412.4 660,412.5 661,412.7 662,412.9 663,413.0 664,413.2 665,413.4 666,413.5 667,413.7 668,413.9 669,414.1 670,414.2 671,414.4 672,414.6 673,414.7 674,414.9 675,415.1 676,415.2 677,415.4 678,415.6 679,415.7 680,415.9 681,416.1 682,416.3 683,416.5 684,416.7 685,416.9 686,417.1 687,417.3 688,417.5 689,417.7 690,417.9 691,418.1 692,418.3 693,418.5 694,418.7 695,418.9 696,419.1 697,419.3 698,419.5 699,419.7 700,419.9 701,420.4 702,420.8 703,421.3 704,421.7 705,422.2 706,422.6 707,423.0 708,423.5 709,423.9 710,424.4 711,424.8 712,425.3 713,425.7 714,426.2 715,426.6 716,427.1 717,427.5 718,427.9 719,428.4 720,428.8 721,429.3 722,429.7 723,430.2 724,430.6 725,431.1 726,431.5 727,432.0 728,432.4 729,432.8 730,433.3 731,433.7 732,434.2 733,434.6 734,435.1 735,435.1 736,435.1 737,435.0 738,434.9 739,434.8 740,434.7 741,434.6 742,434.6 743,434.5 744,434.4 745,434.3 746,434.2 747,434.2 748,434.1 749,434.0 750,433.9 751,433.8 752,433.7 753,433.7 754,433.6 755,433.5 756,433.4 757,433.3 758,433.3 759,433.3 760,433.3 761,433.3 762,433.3 763,433.3 764,433.3 765,433.3 766,433.3 767,433.3 768,433.3 769,433.3 770,433.3 771,433.3 772,433.3 773,433.3 774,433.3 775,433.3 776,433.3 777,433.3 778,433.3 779,433.3 780,433.3 781,433.3 782,433.3 783,433.3 784,433.3 785,433.3 786,433.3 787,433.3 788,433.3 789,433.3 790,433.3 791,433.3 792,433.3 793,433.3 794,433.3 795,433.3 796,433.3 797,433.3 798,433.3 799,433.3 800,433.3 801,433.2 802,433.2 803,433.1 804,433.0 805,433.0 806,432.9 807,432.8 808,432.8 809,432.7 810,432.6 811,432.6 812,432.5 813,432.4 814,432.4 815,432.3 816,432.2 817,432.2 818,432.1 819,432.0 820,432.0 821,431.9 822,431.8 823,431.8 824,431.7 825,431.6 826,431.6 827,431.5 828,431.4 829,431.8 830,432.5 831,433.1 832,433.8 833,434.4 834,435.1 835,435.8 836,436.4 837,437.1 838,437.7 839,438.4 840,438.9 841,438.3 842,437.6 843,437.0 844,436.3 845,435.7 846,435.0 847,434.3 848,433.7 849,433.0 850,432.4 851,431.7 852,431.3 853,431.2 854,431.1 855,431.0 856,430.9 857,430.8 858,430.7 859,430.6 860,430.4 861,430.3 862,430.2 863,430.1 864,430.0 865,429.9 866,429.8 867,429.6 868,429.5 869,429.4 870,429.3 871,429.2 872,429.1 873,429.0 874,428.9 875,428.7 876,428.6 877,428.5 878,428.4 879,428.3 880,428.2 881,428.1 882,428.0 883,427.8 884,427.7 885,427.6 886,427.5 887,427.6 888,427.7 889,427.8 890,427.9 891,428.0 892,428.1 893,428.2 894,428.3 895,428.4 896,428.5 897,428.6 898,428.7 899,428.8 900,428.9 901,429.0 902,429.1 903,429.2 904,429.3 905,429.4 906,429.5 907,429.6 908,429.7 909,429.8 910,429.9 911,430.0 912,430.1 913,430.2 914,430.3 915,430.4 916,430.5 917,430.6 918,430.7 919,430.8 920,430.9 921,431.0 922,431.1 923,431.2 924,431.3 925,431.4 926,431.5 927,431.6 928,431.7 929,431.8 930,431.9 931,432.0 932,432.1 933,432.2 934,432.3 935,432.4 936,432.5 937,432.6 938,432.7 939,432.8 940,432.9 941,433.0 942,433.1 943,433.2 944,433.3 945,433.4 946,433.5 947,433.6 948,433.7 949,433.8 950,433.9 951,434.0 952,434.1 953,434.2 954,434.3 955,434.4 956,434.5 957,434.6 958,434.7 959,434.8 960,434.9 961,435.0 962,435.1 963,435.2 964,435.5 965,435.7 966,436.0 967,436.2 968,436.5 969,436.7 970,437.0 971,437.2 972,437.5 973,437.7 974,438.0 975,438.2 976,438.5 977,438.7 978,439.0 979,439.2 980,439.5 981,439.7 982,440.0 983,440.2 984,440.5 985,440.7 986,441.0 987,441.2 988,441.5 989,441.7 990,442.0 991,442.2 992,442.5 993,442.7 994,443.0 995,443.2 996,443.5 997,443.7 998,444.0 999,444.2 1000,444.5 1001,444.7 1002,445.0 1003,445.2 1004,445.5 1005,445.7 1006,446.0 1007,446.2 1008,446.5 1009,446.7 1010,447.0 1011,447.2 1012,447.5 1013,447.7 1014,448.0 1015,448.2 1016,448.5 1017,448.7 1018,449.0 1019,449.2 1020,449.5 1021,449.7 1022,450.0 1023,450.2 1024,450.5 1025,450.7 1026,451.0 1027,451.2 1028,451.5 1029,451.7 1030,452.0 1031,452.2 1032,452.5 1033,452.7 1034,453.0 1035,453.2 1036,453.5 1037,453.7 1038,454.0 1039,454.2 1040,454.5 1041,454.9 1042,455.3 1043,455.7 1044,456.1 1045,456.5 1046,456.9 1047,457.3 1048,457.7 1049,458.1 1050,458.5 1051,458.9 1052,459.3 1053,459.7 1054,460.1 1055,460.5 1056,460.9 1057,461.3 1058,461.7 1059,462.1 1060,462.5 1061,462.9 1062,463.3 1063,463.7 1064,464.1 1065,464.5 1066,464.9 1067,465.3 1068,465.7 1069,466.2 1070,466.6 1071,467.0 1072,467.4 1073,467.8 1074,468.2 1075,468.6 1076,469.0 1077,469.4 1078,469.8 1079,470.2 1080,470.6 1081,471.0 1082,471.4 1083,471.8 1084,472.2 1085,472.6 1086,473.0 1087,473.4 1088,473.8 1089,474.2 1090,474.6 1091,475.0 1092,475.4 1093,475.8 1094,476.2 1095,476.6 1096,477.0 1097,477.4 1098,477.5 1099,477.6 1100,477.7 1101,477.7 1102,477.8 1103,477.8 1104,477.9 1105,477.9 1106,478.0 1107,478.1 1108,478.1 1109,478.2 1110,478.2 1111,478.3 1112,478.4 1113,478.4 1114,478.5 1115,478.5 1116,478.6 1117,478.6 1118,478.7 1119,478.8 1120,478.8 1121,478.9 1122,478.9 1123,479.0 1124,479.1 1125,479.1 1126,479.2 1127,479.2 1128,479.3 1129,479.3 1130,479.4 1131,479.4 1132,479.4 1133,479.4 1134,479.4 1135,479.4 1136,479.4 1137,479.4 1138,479.4 1139,479.4 1140,479.4 1141,479.5 1142,479.7 1143,479.8 1144,479.9 1145,480.1 1146,480.2 1147,480.3 1148,480.5 1149,480.6 1150,480.7 1151,480.9 1152,481.0 1153,481.1 1154,481.3 1155,481.4 1156,481.5 1157,481.7 1158,481.8 1159,481.9 1160,482.1 1161,482.2 1162,482.3 1163,482.5 1164,482.6 1165,482.7 1166,482.9 1167,483.0 1168,483.1 1169,483.2 1170,483.3 1171,483.3 1172,483.4 1173,483.4 1174,483.5 1175,483.5 1176,483.6 1177,483.6 1178,483.7 1179,483.7 1180,483.8 1181,483.8 1182,483.9 1183,483.9 1184,484.0 1185,484.0 1186,484.1 1187,484.1 1188,484.2 1189,484.2 1190,484.3 1191,484.3 1192,484.4 1193,484.4 1194,484.5 1195,484.5 1196,484.6 1197,484.6 1198,484.7 1199,484.7 1200,484.8 1201,484.8 1202,484.9 1203,484.9 1204,485.0 1205,485.0 1206,485.1 1207,485.1 1208,485.2 1209,485.4 1210,485.5 1211,485.6 1212,485.7 1213,485.9 1214,486.0 1215,486.1 1216,486.2 1217,486.4 1218,486.5 1219,486.6 1220,486.7 1221,486.9 1222,487.0 1223,487.1 1224,487.2 1225,487.4 1226,487.5 1227,487.6 1228,487.7 1229,487.9 1230,488.0 1231,488.1 1232,488.2 1233,488.4 1234,488.5 1235,488.6 1236,488.7 1237,488.9 1238,489.0 1239,489.1 1240,489.2 1241,489.4 1242,489.5 1243,489.6 1244,489.7 1245,489.9 1246,490.0 1247,490.1 1248,490.2 1249,490.4 1250,490.5 1251,490.6 1252,490.7 1253,490.9 1254,491.0 1255,491.1 1256,491.2 1257,491.4 1258,491.5 1259,491.6 1260,491.7 1261,491.9 1262,492.0 1263,492.1 1264,492.2 1265,492.4 1266,492.5 1267,492.6 1268,492.7 1269,492.9 1270,493.0 1271,493.1 1272,493.2 1273,493.4 1274,493.5 1275,493.6 1276,493.7 1277,493.9 1278,494.0 1279,494.1 1280,494.2 1281,494.4 1282,494.5 1283,494.6 1284,494.7 1285,494.8 1286,494.9 1287,495.0 1288,495.1 1289,495.2 1290,495.3 1291,495.4 1292,495.5 1293,495.6 1294,495.7 1295,495.8 1296,495.9 1297,496.1 1298,496.2 1299,496.3 1300,496.4 1301,496.5 1302,496.6 1303,496.7 1304,496.8 1305,496.9 1306,497.0 1307,497.1 1308,497.2 1309,497.3 1310,497.4 1311,497.5 1312,497.6 1313,497.7 1314,497.8 1315,497.9 1316,498.0 1317,498.1 1318,498.2 1319,498.3 1320,498.4 1321,498.5 1322,498.6 1323,498.7 1324,498.9 1325,499.0 1326,499.2 1327,499.3 1328,499.5 1329,499.6 1330,499.8 1331,499.9 1332,500.1 1333,500.2 1334,500.4 1335,500.5 1336,500.7 1337,500.8 1338,501.0 1339,501.1 1340,501.3 1341,501.4 1342,501.6 1343,501.7 1344,501.9 1345,502.0 1346,502.1 1347,502.3 1348,502.4 1349,502.6 1350,502.7 1351,502.9 1352,503.0 1353,503.2 1354,503.3 1355,503.5 1356,503.6 1357,503.8 1358,503.9 1359,504.1 1360,504.2 1361,504.4 1362,504.6 1363,504.8 1364,505.0 1365,505.2 1366,505.4 1367,505.6 1368,505.8 1369,506.0 1370,506.2 1371,506.4 1372,506.6 1373,506.8 1374,507.0 1375,507.2 1376,507.4 1377,507.6 1378,507.8 1379,508.0 1380,508.2 1381,508.4 1382,508.6 1383,508.8 1384,509.0 1385,509.2 1386,509.4 1387,509.6 1388,509.8 1389,510.0 1390,510.2 1391,510.4 1392,510.6 1393,510.8 1394,511.0 1395,511.2 1396,511.4 1397,511.6 1398,511.8 1399,512.0 1400,512.2 1401,512.3 1402,512.5 1403,512.6 1404,512.8 1405,512.9 1406,513.1 1407,513.2 1408,513.4 1409,513.5 1410,513.7 1411,513.8 1412,514.0 1413,514.1 1414,514.3 1415,514.4 1416,514.6 1417,514.7 1418,514.9 1419,515.0 1420,515.2 1421,515.3 1422,515.5 1423,515.6 1424,515.8 1425,515.9 1426,516.1 1427,516.2 1428,516.4 1429,516.5 1430,516.7 1431,516.8 1432,517.0 1433,517.2 1434,517.3 1435,517.5 1436,517.6 1437,517.8 1438,517.7 1439,517.6 1440,517.5 1441,517.4 1442,517.3 1443,517.1 1444,517.0 1445,516.9 1446,516.8 1447,516.7 1448,516.6 1449,516.4 1450,516.3 1451,516.2 1452,516.1 1453,516.0 1454,515.9 1455,515.7 1456,515.6 1457,515.5 1458,515.4 1459,515.3 1460,515.2 1461,515.0 1462,514.9 1463,514.8 1464,514.7 1465,514.6 1466,514.5 1467,514.3 1468,514.2 1469,514.1 1470,514.0 1471,514.2 1472,514.4 1473,514.6 1474,514.8 1475,515.0 1476,515.1 1477,515.3 1478,515.5 1479,515.7 1480,515.9 1481,516.2 1482,516.4 1483,516.7 1484,517.0 1485,517.3 1486,517.5 1487,517.8 1488,518.1 1489,518.3 1490,518.6 1491,518.9 1492,519.2 1493,519.4 1494,519.7 1495,520.0 1496,520.2 1497,520.5 1498,520.8 1499,521.1 1500,521.3 1501,521.6 1502,521.9 1503,522.1 1504,522.4 1505,522.7 1506,522.9 1507,523.2 1508,523.5 1509,523.8 1510,524.1 1511,524.4 1512,524.7 1513,525.0 1514,525.3 1515,525.6 1516,525.9 1517,526.2 1518,526.5 1519,526.8 1520,527.1 1521,527.4 1522,527.7 1523,528.0 1524,528.3 1525,528.6 1526,528.9 1527,529.2 1528,529.5 1529,529.8 1530,530.1 1531,530.4 1532,530.7 1533,531.0 1534,531.3 1535,531.6 1536,531.9 1537,532.2 1538,532.5 1539,532.8 1540,533.1 1541,533.4 1542,533.7 1543,534.0 1544,534.3 1545,534.6 1546,534.9 1547,535.1 1548,535.4 1549,535.6 1550,535.9 1551,536.1 1552,536.4 1553,536.6 1554,536.9 1555,537.1 1556,537.4 1557,537.6 1558,537.9 1559,538.1 1560,538.4 1561,538.6 1562,538.9 1563,539.1 1564,539.4 1565,539.6 1566,539.9 1567,540.1 1568,540.4 1569,540.6 1570,540.9 1571,541.1 1572,541.4 1573,541.6 1574,541.9 1575,542.1 1576,542.4 1577,542.6 1578,542.9 1579,543.1 1580,543.4 1581,543.6 1582,543.9 1583,544.1 1584,544.4 1585,544.6 1586,544.8 1587,545.0 1588,545.1 1589,545.3 1590,545.4 1591,545.6 1592,545.7 1593,545.9 1594,546.0 1595,546.2 1596,546.3 1597,546.5 1598,546.6 1599,546.8 1600,546.9 1601,547.1 1602,547.2 1603,547.4 1604,547.5 1605,547.7 1606,547.8 1607,548.0 1608,548.1 1609,548.3 1610,548.4 1611,548.6 1612,548.7 1613,548.9 1614,549.0 1615,549.2 1616,549.3 1617,549.5 1618,549.6 1619,549.8 1620,549.9 1621,550.1 1622,550.2 1623,550.4 1624,550.5 1625,550.5 1626,550.5 1627,550.5 1628,550.5 1629,550.5 1630,550.5 1631,550.5 1632,550.5 1633,550.5 1634,550.5 1635,550.5 1636,550.5 1637,550.5 1638,550.5 1639,550.5 1640,550.5 1641,550.5 1642,550.5 1643,550.5 1644,550.5 1645,550.5 1646,550.5 1647,550.5 1648,550.5 1649,550.5 1650,550.5 1651,550.5 1652,550.5 1653,550.5 1654,550.5 1655,550.5 1656,550.5 1657,550.5 1658,550.5 1659,550.5 1660,550.5 1661,550.5 1662,550.5 1663,550.5 1664,550.5 1665,550.5 1666,550.5 1667,550.5 1668,550.5 1669,550.5 1670,550.5 1671,550.5 1672,550.5 1673,550.5 1674,550.5 1675,550.5 1676,550.5 1677,550.5 1678,550.5 1679,550.5 1680,550.5 1681,550.5 1682,550.5 1683,550.5 1684,550.5 1685,550.5 1686,550.5 1687,550.5 1688,550.5 1689,550.5 1690,550.5 1691,550.5 1692,550.5 1693,550.5 1694,550.5 1695,550.5 1696,550.5 1697,550.5 1698,550.5 1699,550.5 1700,550.5 1701,550.5 1702,550.6 1703,550.6 1704,550.7 1705,550.7 1706,550.8 1707,550.8 1708,550.9 1709,550.9 1710,551.0 1711,551.0 1712,551.1 1713,551.1 1714,551.2 1715,551.2 1716,551.3 1717,551.3 1718,551.4 1719,551.4 1720,551.5 1721,551.5 1722,551.6 1723,551.6 1724,551.7 1725,551.7 1726,551.8 1727,551.8 1728,551.9 1729,551.9 1730,552.0 1731,552.0 1732,552.1 1733,552.1 1734,552.2 1735,552.2 1736,552.3 1737,552.3 1738,552.4 1739,552.4 1740,552.5 1741,552.5 1742,552.6 1743,552.6 1744,552.6 1745,552.7 1746,552.7 1747,552.8 1748,552.8 1749,552.9 1750,552.9 1751,553.0 1752,553.0 1753,553.1 1754,553.1 1755,553.2 1756,553.2 1757,553.3 1758,553.3 1759,553.4 1760,553.4 1761,553.5 1762,553.5 1763,553.6 1764,553.6 1765,553.7 1766,553.7 1767,553.8 1768,553.8 1769,553.9 1770,553.9 1771,554.0 1772,554.0 1773,554.1 1774,554.1 1775,554.2 1776,554.2 1777,554.3 1778,554.3 1779,554.4 1780,554.5 1781,554.5 1782,554.6 1783,554.7 1784,554.7 1785,554.8 1786,554.9 1787,554.9 1788,555.0 1789,555.1 1790,555.2 1791,555.2 1792,555.3 1793,555.4 1794,555.4 1795,555.5 1796,555.6 1797,555.6 1798,555.7 1799,555.8 1800,555.8 1801,555.9 1802,556.0 1803,556.0 1804,556.1 1805,556.2 1806,556.2 1807,556.3 1808,556.4 1809,556.4 1810,556.5 1811,556.6 1812,556.6 1813,556.7 1814,556.8 1815,556.8 1816,556.9 1817,557.0 1818,557.0 1819,557.1 1820,557.2 1821,557.3 1822,557.3 1823,557.4 1824,557.5 1825,557.5 1826,557.6 1827,557.7 1828,557.7 1829,557.8 1830,557.9 1831,557.9 1832,558.0 1833,558.1 1834,558.1 1835,558.2 1836,558.1 1837,558.0 1838,557.9 1839,557.9 1840,557.8 1841,557.7 1842,557.6 1843,557.5 1844,557.4 1845,557.3 1846,557.3 1847,557.2 1848,557.1 1849,557.0 1850,556.9 1851,556.8 1852,556.8 1853,556.7 1854,556.6 1855,556.5 1856,556.4 1857,556.3 L1857,1355.0 Z" fill="#fbf0ad"/>
<path d="M121,1355.0 L121,1355.0 122,1349.0 123,1343.0 124,1261.2 125,1103.6 126,1028.4 127,1008.2 128,988.0 129,967.7 130,959.7 131,954.7 132,949.6 133,944.6 134,939.6 135,934.5 136,929.5 137,924.6 138,920.6 139,916.6 140,912.7 141,908.7 142,904.7 143,900.7 144,896.7 145,892.8 146,888.8 147,884.3 148,879.3 149,874.3 150,869.3 151,864.4 152,859.4 153,854.4 154,849.4 155,846.1 156,843.2 157,840.4 158,837.5 159,834.6 160,831.8 161,828.9 162,826.0 163,823.2 164,820.3 165,817.5 166,814.6 167,811.7 168,809.0 169,806.5 170,804.0 171,801.4 172,798.9 173,796.4 174,793.9 175,791.4 176,788.9 177,786.4 178,783.8 179,781.3 180,778.8 181,776.3 182,773.8 183,771.3 184,768.7 185,766.2 186,763.7 187,761.2 188,758.6 189,756.1 190,753.6 191,751.0 192,748.5 193,745.9 194,743.4 195,740.8 196,737.0 197,732.3 198,727.6 199,722.9 200,718.2 201,713.5 202,708.8 203,704.1 204,699.4 205,694.7 206,690.0 207,685.3 208,680.6 209,675.9 210,671.2 211,666.4 212,661.4 213,656.4 214,651.3 215,646.3 216,641.3 217,636.3 218,631.2 219,626.2 220,621.2 221,616.6 222,612.4 223,608.1 224,603.9 225,599.7 226,595.4 227,591.2 228,587.0 229,582.8 230,578.5 231,574.7 232,571.3 233,568.0 234,564.6 235,561.3 236,557.9 237,554.6 238,551.2 239,549.6 240,548.1 241,546.6 242,545.1 243,543.6 244,542.1 245,540.6 246,539.1 247,537.6 248,536.1 249,534.1 250,532.0 251,529.8 252,527.7 253,525.6 254,523.4 255,521.3 256,519.2 257,517.0 258,514.9 259,512.8 260,510.6 261,508.5 262,507.8 263,507.1 264,506.5 265,505.8 266,512.4 267,520.0 268,526.8 269,527.8 270,528.8 271,529.8 272,530.8 273,531.8 274,532.8 275,533.7 276,533.7 277,533.7 278,533.7 279,533.7 280,533.7 281,533.7 282,533.6 283,532.6 284,531.6 285,530.6 286,529.6 287,528.6 288,527.6 289,526.5 290,524.5 291,522.5 292,520.5 293,518.5 294,516.5 295,514.5 296,512.0 297,504.5 298,497.0 299,495.5 300,508.0 301,520.5 302,523.7 303,517.7 304,511.7 305,505.7 306,503.2 307,508.9 308,514.5 309,520.2 310,524.8 311,519.3 312,513.8 313,508.4 314,502.9 315,502.6 316,502.3 317,502.0 318,501.8 319,501.5 320,501.2 321,500.9 322,500.6 323,500.3 324,500.2 325,500.4 326,500.7 327,500.9 328,501.2 329,501.4 330,504.8 331,510.3 332,515.8 333,508.9 334,501.7 335,498.7 336,495.7 337,492.8 338,489.8 339,486.8 340,477.4 341,470.7 342,470.6 343,470.4 344,470.2 345,470.1 346,469.9 347,469.7 348,469.6 349,469.4 350,469.8 351,470.3 352,470.7 353,471.1 354,471.6 355,472.0 356,472.4 357,472.9 358,473.3 359,473.8 360,474.4 361,475.0 362,475.6 363,476.2 364,476.8 365,477.4 366,479.2 367,483.7 368,488.1 369,490.8 370,491.5 371,492.3 372,493.0 373,493.7 374,494.5 375,495.2 376,496.0 377,496.7 378,497.4 379,498.2 380,498.3 381,496.8 382,495.3 383,493.8 384,492.3 385,490.8 386,490.6 387,490.8 388,491.1 389,491.3 390,491.6 391,489.5 392,466.5 393,459.6 394,470.1 395,505.0 396,509.8 397,511.3 398,512.9 399,514.4 400,515.9 401,517.0 402,517.4 403,517.8 404,518.2 405,518.6 406,519.1 407,519.5 408,520.0 409,520.8 410,521.6 411,522.4 412,523.2 413,524.0 414,524.8 415,526.1 416,528.1 417,530.1 418,532.1 419,533.7 420,533.9 421,534.0 422,534.2 423,534.3 424,534.4 425,534.6 426,534.7 427,534.9 428,535.0 429,535.2 430,535.4 431,535.6 432,535.8 433,536.0 434,536.2 435,536.4 436,536.3 437,535.7 438,535.1 439,534.5 440,533.9 441,533.3 442,532.7 443,532.3 444,532.4 445,532.5 446,532.6 447,532.7 448,532.8 449,532.9 450,533.0 451,533.1 452,533.2 453,533.3 454,533.4 455,533.5 456,533.6 457,532.4 458,529.7 459,527.0 460,524.4 461,522.4 462,522.1 463,521.8 464,521.6 465,521.3 466,521.0 467,520.7 468,520.4 469,520.1 470,519.8 471,519.4 472,518.9 473,518.4 474,517.8 475,517.3 476,516.8 477,516.2 478,515.7 479,515.1 480,514.6 481,514.1 482,513.5 483,513.0 484,512.5 485,511.9 486,511.4 487,510.9 488,510.3 489,509.6 490,508.9 491,508.1 492,507.3 493,506.5 494,505.8 495,505.0 496,504.2 497,503.4 498,502.7 499,501.9 500,501.1 501,500.3 502,499.6 503,498.8 504,498.0 505,497.2 506,496.7 507,496.5 508,496.4 509,496.3 510,496.2 511,496.1 512,495.9 513,495.8 514,495.7 515,495.6 516,495.5 517,495.4 518,495.2 519,495.1 520,495.0 521,494.9 522,494.8 523,494.6 524,494.5 525,494.4 526,494.3 527,494.2 528,494.0 529,493.9 530,493.8 531,493.7 532,493.6 533,493.4 534,493.3 535,493.2 536,493.1 537,493.0 538,492.8 539,493.0 540,493.3 541,493.7 542,494.0 543,494.3 544,494.7 545,495.0 546,495.3 547,495.7 548,496.0 549,496.3 550,496.7 551,497.0 552,497.4 553,497.7 554,498.0 555,498.4 556,498.7 557,499.0 558,499.4 559,499.7 560,500.0 561,500.4 562,500.2 563,499.7 564,499.2 565,498.7 566,498.2 567,497.7 568,497.2 569,496.7 570,496.2 571,495.7 572,495.2 573,494.7 574,494.2 575,493.7 576,493.2 577,492.9 578,493.1 579,493.4 580,493.7 581,494.0 582,494.3 583,494.6 584,494.9 585,495.1 586,495.4 587,495.7 588,496.0 589,496.3 590,496.6 591,496.9 592,497.2 593,497.4 594,497.7 595,498.0 596,498.3 597,498.6 598,498.9 599,499.2 600,499.4 601,499.7 602,500.0 603,500.3 604,500.8 605,501.8 606,502.8 607,503.8 608,504.8 609,505.8 610,506.8 611,507.8 612,508.8 613,509.8 614,510.8 615,511.8 616,514.4 617,517.4 618,520.4 619,523.4 620,526.4 621,529.4 622,532.4 623,535.3 624,538.3 625,541.3 626,544.3 627,547.3 628,550.3 629,553.3 630,556.3 631,558.5 632,559.5 633,560.6 634,561.6 635,561.4 636,560.4 637,559.4 638,558.4 639,557.4 640,556.4 641,555.4 642,554.4 643,553.4 644,552.4 645,551.4 646,550.4 647,549.4 648,548.4 649,547.4 650,546.4 651,545.4 652,544.4 653,543.4 654,542.4 655,541.4 656,540.4 657,539.4 658,538.9 659,538.9 660,538.9 661,538.9 662,538.9 663,538.9 664,538.9 665,538.9 666,538.9 667,538.9 668,538.9 669,538.9 670,538.9 671,538.9 672,538.9 673,538.9 674,538.9 675,538.9 676,538.9 677,538.9 678,538.9 679,538.9 680,538.9 681,539.3 682,540.1 683,540.9 684,541.7 685,542.5 686,543.3 687,544.1 688,544.9 689,545.7 690,546.5 691,547.3 692,548.1 693,548.9 694,549.7 695,550.5 696,551.3 697,552.1 698,552.9 699,553.7 700,554.4 701,554.7 702,555.1 703,555.4 704,555.7 705,556.1 706,556.4 707,556.7 708,557.1 709,557.4 710,557.7 711,558.1 712,558.4 713,558.7 714,559.1 715,559.4 716,559.7 717,560.0 718,560.4 719,560.7 720,561.0 721,561.4 722,561.7 723,562.0 724,562.4 725,562.7 726,563.0 727,563.4 728,563.7 729,564.0 730,564.4 731,564.7 732,565.0 733,565.4 734,565.7 735,565.7 736,565.5 737,565.4 738,565.2 739,565.0 740,564.9 741,564.7 742,564.5 743,564.4 744,564.2 745,564.0 746,563.9 747,563.7 748,563.5 749,563.4 750,563.2 751,563.0 752,562.9 753,562.7 754,562.5 755,562.4 756,562.2 757,562.0 758,562.1 759,562.2 760,562.2 761,562.3 762,562.4 763,562.5 764,562.6 765,562.7 766,562.8 767,562.9 768,563.0 769,563.0 770,563.1 771,563.2 772,563.3 773,563.4 774,563.5 775,563.6 776,563.7 777,563.8 778,563.8 779,563.9 780,564.0 781,564.1 782,564.2 783,564.3 784,564.4 785,564.5 786,564.6 787,564.6 788,564.7 789,564.8 790,564.9 791,565.0 792,565.1 793,565.2 794,565.3 795,565.4 796,565.4 797,565.5 798,565.6 799,565.7 800,565.8 801,565.2 802,564.5 803,563.9 804,563.3 805,562.6 806,562.0 807,561.4 808,560.8 809,560.1 810,560.4 811,560.8 812,561.2 813,561.7 814,562.1 815,562.6 816,563.0 817,563.4 818,563.9 819,564.3 820,564.7 821,565.2 822,565.6 823,566.1 824,566.5 825,566.9 826,567.4 827,567.8 828,568.3 829,568.7 830,569.1 831,569.6 832,570.0 833,570.5 834,570.9 835,571.3 836,571.8 837,572.2 838,572.7 839,573.1 840,573.4 841,572.4 842,571.4 843,570.4 844,569.4 845,568.4 846,567.5 847,566.5 848,565.5 849,564.5 850,563.5 851,562.5 852,561.9 853,561.7 854,561.6 855,561.4 856,561.2 857,561.1 858,560.9 859,560.7 860,560.6 861,560.4 862,560.2 863,560.1 864,559.9 865,559.7 866,559.6 867,559.4 868,559.2 869,559.1 870,558.9 871,558.7 872,558.6 873,558.4 874,558.2 875,558.0 876,557.9 877,557.7 878,557.5 879,557.4 880,557.2 881,557.0 882,556.9 883,556.7 884,556.5 885,556.4 886,556.2 887,556.4 888,556.7 889,556.9 890,557.2 891,557.4 892,557.7 893,557.9 894,558.2 895,558.4 896,558.7 897,558.9 898,559.2 899,559.4 900,559.7 901,559.9 902,560.2 903,560.4 904,560.7 905,560.9 906,561.2 907,561.4 908,561.7 909,561.9 910,562.2 911,562.4 912,562.7 913,562.9 914,563.2 915,563.4 916,563.7 917,563.9 918,564.2 919,564.4 920,564.7 921,564.9 922,565.2 923,565.4 924,565.7 925,566.0 926,566.4 927,566.8 928,567.2 929,567.6 930,568.0 931,568.4 932,568.8 933,569.2 934,569.6 935,570.0 936,570.4 937,570.8 938,571.2 939,571.6 940,572.0 941,572.4 942,572.8 943,573.2 944,573.6 945,573.9 946,574.2 947,574.5 948,574.8 949,575.1 950,575.4 951,575.7 952,576.0 953,576.3 954,576.6 955,576.9 956,577.2 957,577.5 958,577.8 959,578.1 960,578.4 961,578.7 962,579.0 963,579.3 964,579.6 965,579.9 966,580.2 967,580.5 968,580.8 969,581.1 970,581.4 971,581.7 972,582.0 973,582.3 974,582.6 975,582.9 976,583.2 977,583.5 978,583.8 979,584.1 980,584.4 981,584.7 982,585.0 983,585.4 984,585.8 985,586.2 986,586.6 987,587.0 988,587.4 989,587.8 990,588.2 991,588.6 992,589.0 993,589.4 994,589.8 995,590.2 996,590.6 997,591.0 998,591.4 999,591.8 1000,592.2 1001,592.6 1002,592.8 1003,593.0 1004,593.2 1005,593.4 1006,593.6 1007,593.8 1008,594.0 1009,594.2 1010,594.4 1011,594.6 1012,594.8 1013,595.0 1014,595.2 1015,595.4 1016,595.6 1017,595.8 1018,596.0 1019,596.2 1020,596.4 1021,596.7 1022,597.1 1023,597.5 1024,597.9 1025,598.3 1026,598.7 1027,599.1 1028,599.5 1029,599.9 1030,600.3 1031,600.7 1032,601.1 1033,601.5 1034,601.9 1035,602.3 1036,602.7 1037,603.1 1038,603.5 1039,603.9 1040,604.3 1041,604.7 1042,605.1 1043,605.5 1044,605.9 1045,606.3 1046,606.7 1047,607.1 1048,607.5 1049,607.9 1050,608.3 1051,608.7 1052,609.1 1053,609.5 1054,609.9 1055,610.3 1056,610.7 1057,611.1 1058,611.5 1059,611.9 1060,612.4 1061,612.8 1062,613.2 1063,613.7 1064,614.1 1065,614.5 1066,614.9 1067,615.4 1068,615.8 1069,616.2 1070,616.6 1071,617.1 1072,617.5 1073,617.9 1074,618.4 1075,618.8 1076,619.2 1077,619.6 1078,620.1 1079,620.5 1080,620.9 1081,621.3 1082,621.8 1083,622.2 1084,622.6 1085,623.1 1086,623.5 1087,623.8 1088,624.1 1089,624.5 1090,624.8 1091,625.2 1092,625.5 1093,625.8 1094,626.2 1095,626.5 1096,626.9 1097,627.2 1098,627.2 1099,627.1 1100,627.0 1101,626.9 1102,626.8 1103,626.7 1104,626.6 1105,626.5 1106,626.4 1107,626.3 1108,626.2 1109,626.1 1110,626.0 1111,625.9 1112,625.8 1113,625.7 1114,625.6 1115,625.5 1116,625.4 1117,625.6 1118,626.0 1119,626.5 1120,626.9 1121,627.3 1122,627.7 1123,628.1 1124,628.6 1125,629.0 1126,629.4 1127,629.8 1128,630.3 1129,630.7 1130,631.1 1131,631.1 1132,631.1 1133,631.1 1134,631.1 1135,631.1 1136,631.1 1137,631.1 1138,631.1 1139,631.1 1140,631.1 1141,631.2 1142,631.2 1143,631.3 1144,631.4 1145,631.4 1146,631.5 1147,631.6 1148,631.6 1149,631.7 1150,631.8 1151,631.8 1152,631.9 1153,632.0 1154,632.0 1155,632.1 1156,632.2 1157,632.2 1158,632.3 1159,632.4 1160,632.4 1161,632.5 1162,632.6 1163,632.6 1164,632.7 1165,632.8 1166,632.8 1167,632.9 1168,633.0 1169,632.8 1170,632.4 1171,632.0 1172,631.7 1173,631.3 1174,630.9 1175,630.5 1176,630.2 1177,629.8 1178,629.4 1179,629.0 1180,628.7 1181,628.3 1182,627.9 1183,627.5 1184,627.2 1185,626.8 1186,626.4 1187,626.1 1188,625.7 1189,625.3 1190,624.9 1191,624.6 1192,624.2 1193,623.8 1194,623.4 1195,623.1 1196,622.7 1197,622.3 1198,621.9 1199,621.6 1200,621.7 1201,622.0 1202,622.3 1203,622.6 1204,622.9 1205,623.3 1206,623.6 1207,623.9 1208,624.2 1209,624.5 1210,624.8 1211,625.1 1212,625.4 1213,625.7 1214,626.0 1215,626.3 1216,626.6 1217,626.9 1218,627.2 1219,630.0 1220,634.6 1221,639.1 1222,643.7 1223,644.7 1224,644.9 1225,645.1 1226,645.2 1227,645.4 1228,645.6 1229,645.7 1230,645.9 1231,646.0 1232,646.2 1233,646.4 1234,646.5 1235,646.7 1236,646.9 1237,647.0 1238,647.2 1239,647.4 1240,647.5 1241,647.7 1242,647.9 1243,648.0 1244,648.2 1245,648.4 1246,648.4 1247,648.5 1248,648.5 1249,648.5 1250,648.6 1251,648.6 1252,648.6 1253,648.7 1254,648.7 1255,648.7 1256,648.8 1257,648.8 1258,648.8 1259,648.9 1260,648.9 1261,648.9 1262,649.0 1263,649.0 1264,649.0 1265,649.0 1266,649.1 1267,649.1 1268,649.1 1269,649.2 1270,649.2 1271,649.2 1272,649.3 1273,649.3 1274,649.3 1275,649.4 1276,649.4 1277,649.4 1278,649.5 1279,649.5 1280,649.5 1281,649.6 1282,649.6 1283,649.6 1284,649.7 1285,649.7 1286,649.7 1287,649.8 1288,649.8 1289,649.8 1290,649.9 1291,649.9 1292,649.9 1293,650.0 1294,650.0 1295,650.0 1296,650.1 1297,650.1 1298,650.1 1299,650.2 1300,650.2 1301,650.2 1302,650.3 1303,650.3 1304,650.1 1305,649.9 1306,649.7 1307,649.5 1308,649.3 1309,649.1 1310,648.9 1311,648.7 1312,648.5 1313,648.3 1314,648.1 1315,647.9 1316,647.7 1317,647.5 1318,647.3 1319,647.1 1320,646.9 1321,646.7 1322,646.5 1323,646.3 1324,646.1 1325,645.9 1326,645.7 1327,645.5 1328,645.3 1329,645.1 1330,644.9 1331,644.7 1332,644.5 1333,644.3 1334,644.1 1335,643.9 1336,643.7 1337,643.5 1338,643.3 1339,643.1 1340,642.9 1341,642.7 1342,642.8 1343,643.1 1344,643.4 1345,643.7 1346,644.0 1347,644.3 1348,644.6 1349,644.9 1350,645.2 1351,645.5 1352,645.8 1353,646.1 1354,646.4 1355,646.7 1356,647.0 1357,647.3 1358,647.6 1359,647.9 1360,648.2 1361,648.6 1362,648.9 1363,649.2 1364,649.5 1365,649.8 1366,650.1 1367,650.4 1368,650.7 1369,651.0 1370,651.3 1371,651.6 1372,651.9 1373,652.2 1374,652.5 1375,652.8 1376,653.1 1377,653.4 1378,653.7 1379,654.0 1380,654.2 1381,654.4 1382,654.5 1383,654.7 1384,654.8 1385,655.0 1386,655.1 1387,655.3 1388,655.4 1389,655.6 1390,655.7 1391,655.9 1392,656.0 1393,656.2 1394,656.3 1395,656.5 1396,656.6 1397,656.8 1398,656.9 1399,657.1 1400,657.2 1401,657.4 1402,657.5 1403,657.7 1404,657.8 1405,658.0 1406,658.1 1407,658.3 1408,658.4 1409,658.5 1410,658.7 1411,658.8 1412,659.0 1413,659.1 1414,659.3 1415,659.4 1416,659.6 1417,659.7 1418,659.9 1419,659.9 1420,659.8 1421,659.8 1422,659.7 1423,659.7 1424,659.6 1425,659.6 1426,659.5 1427,659.5 1428,659.4 1429,659.4 1430,659.3 1431,659.3 1432,659.2 1433,659.2 1434,659.1 1435,659.1 1436,659.0 1437,659.0 1438,658.9 1439,658.9 1440,658.8 1441,658.8 1442,658.7 1443,658.7 1444,658.6 1445,658.6 1446,658.5 1447,658.5 1448,658.4 1449,658.4 1450,658.3 1451,658.3 1452,658.2 1453,658.2 1454,658.1 1455,658.1 1456,658.0 1457,657.8 1458,657.4 1459,656.9 1460,656.5 1461,656.1 1462,655.7 1463,655.3 1464,654.8 1465,654.4 1466,654.0 1467,653.6 1468,653.1 1469,652.7 1470,652.3 1471,652.5 1472,652.7 1473,652.9 1474,653.1 1475,653.2 1476,653.4 1477,653.6 1478,653.8 1479,654.0 1480,654.2 1481,651.7 1482,650.8 1483,651.7 1484,652.5 1485,653.4 1486,654.3 1487,655.1 1488,656.0 1489,656.8 1490,657.7 1491,658.6 1492,659.4 1493,660.3 1494,661.1 1495,662.0 1496,662.9 1497,663.7 1498,664.6 1499,665.4 1500,666.3 1501,667.1 1502,668.0 1503,668.9 1504,669.7 1505,670.6 1506,671.4 1507,672.3 1508,673.2 1509,673.8 1510,674.3 1511,674.8 1512,675.3 1513,675.8 1514,676.3 1515,676.8 1516,677.3 1517,677.8 1518,678.3 1519,678.8 1520,679.3 1521,679.8 1522,680.3 1523,680.8 1524,681.3 1525,681.8 1526,682.3 1527,682.8 1528,683.3 1529,683.8 1530,684.3 1531,684.8 1532,685.3 1533,685.8 1534,686.3 1535,686.8 1536,687.3 1537,687.8 1538,688.3 1539,688.8 1540,689.3 1541,689.8 1542,690.3 1543,690.8 1544,691.3 1545,691.8 1546,692.3 1547,692.8 1548,693.1 1549,693.5 1550,693.8 1551,694.2 1552,694.5 1553,694.9 1554,695.2 1555,695.6 1556,695.9 1557,696.3 1558,696.6 1559,696.9 1560,697.3 1561,697.6 1562,698.0 1563,698.3 1564,698.7 1565,699.0 1566,699.4 1567,699.7 1568,700.1 1569,700.4 1570,700.8 1571,701.1 1572,701.5 1573,701.8 1574,702.2 1575,702.5 1576,702.9 1577,703.2 1578,703.6 1579,703.9 1580,704.3 1581,704.6 1582,705.0 1583,705.3 1584,705.6 1585,706.0 1586,706.2 1587,706.3 1588,706.4 1589,706.5 1590,706.6 1591,706.7 1592,706.8 1593,706.9 1594,707.0 1595,707.1 1596,707.2 1597,707.3 1598,707.4 1599,707.5 1600,707.6 1601,707.7 1602,707.8 1603,707.9 1604,708.0 1605,708.1 1606,708.2 1607,708.3 1608,708.4 1609,708.5 1610,708.6 1611,708.7 1612,708.8 1613,708.9 1614,709.0 1615,709.1 1616,709.2 1617,709.3 1618,709.4 1619,709.5 1620,709.6 1621,709.7 1622,709.8 1623,709.9 1624,709.9 1625,709.6 1626,709.3 1627,709.0 1628,708.7 1629,708.4 1630,708.1 1631,707.8 1632,707.5 1633,707.2 1634,706.9 1635,706.6 1636,706.3 1637,706.0 1638,705.7 1639,705.4 1640,705.1 1641,704.8 1642,704.5 1643,704.2 1644,704.3 1645,704.3 1646,704.4 1647,704.4 1648,704.5 1649,704.5 1650,704.6 1651,704.6 1652,704.7 1653,704.7 1654,704.7 1655,704.8 1656,704.8 1657,704.9 1658,704.9 1659,705.0 1660,705.0 1661,705.1 1662,705.1 1663,705.2 1664,705.2 1665,705.3 1666,705.3 1667,705.4 1668,705.4 1669,705.5 1670,705.5 1671,705.6 1672,705.6 1673,705.7 1674,705.7 1675,705.8 1676,705.8 1677,705.9 1678,705.9 1679,706.0 1680,706.0 1681,706.1 1682,705.8 1683,705.4 1684,705.0 1685,704.6 1686,704.2 1687,703.8 1688,703.4 1689,703.0 1690,702.6 1691,702.2 1692,701.8 1693,701.4 1694,701.0 1695,700.6 1696,700.2 1697,699.8 1698,699.4 1699,699.0 1700,698.6 1701,698.4 1702,698.5 1703,698.6 1704,698.7 1705,698.7 1706,698.8 1707,698.9 1708,699.0 1709,699.0 1710,699.1 1711,699.2 1712,699.3 1713,699.3 1714,699.4 1715,699.5 1716,699.6 1717,699.6 1718,699.7 1719,699.8 1720,699.9 1721,699.9 1722,700.0 1723,700.1 1724,700.2 1725,700.2 1726,700.3 1727,700.4 1728,700.5 1729,700.5 1730,700.6 1731,700.7 1732,700.8 1733,700.9 1734,700.9 1735,701.0 1736,701.1 1737,701.2 1738,701.2 1739,701.3 1740,701.4 1741,701.5 1742,701.5 1743,701.6 1744,701.7 1745,701.8 1746,701.8 1747,701.9 1748,702.0 1749,702.1 1750,702.1 1751,702.2 1752,702.3 1753,702.4 1754,702.4 1755,702.5 1756,702.6 1757,702.7 1758,702.7 1759,702.8 1760,702.9 1761,703.0 1762,703.0 1763,703.1 1764,703.2 1765,703.3 1766,703.3 1767,703.4 1768,703.5 1769,703.6 1770,703.6 1771,703.7 1772,703.8 1773,703.9 1774,703.9 1775,704.0 1776,704.1 1777,704.2 1778,704.8 1779,705.8 1780,706.8 1781,707.8 1782,708.8 1783,709.8 1784,710.8 1785,711.8 1786,712.8 1787,713.8 1788,714.8 1789,715.8 1790,716.8 1791,717.8 1792,718.8 1793,719.8 1794,720.8 1795,721.8 1796,722.8 1797,723.5 1798,723.8 1799,724.1 1800,724.4 1801,724.7 1802,725.0 1803,725.3 1804,725.6 1805,725.9 1806,726.2 1807,726.5 1808,726.8 1809,727.1 1810,727.4 1811,727.7 1812,728.0 1813,728.3 1814,728.6 1815,728.9 1816,729.2 1817,729.5 1818,729.8 1819,730.1 1820,730.4 1821,730.7 1822,731.0 1823,731.3 1824,731.6 1825,731.9 1826,732.2 1827,732.5 1828,732.8 1829,733.1 1830,733.4 1831,733.7 1832,734.0 1833,734.3 1834,734.6 1835,734.9 1836,735.2 1837,735.6 1838,735.9 1839,736.3 1840,736.6 1841,737.0 1842,737.3 1843,737.7 1844,738.0 1845,738.4 1846,738.7 1847,739.0 1848,739.4 1849,739.7 1850,740.1 1851,740.4 1852,740.8 1853,741.1 1854,741.5 1855,741.8 1856,742.2 1857,742.5 L1857,1355.0 Z" fill="#fcd293"/>
<path d="M121,1355.0 L121,1355.0 122,1355.0 123,1355.0 124,1355.0 125,1355.0 126,1355.0 127,1345.5 128,1326.6 129,1307.7 130,1288.8 131,1269.8 132,1250.9 133,1232.0 134,1204.7 135,1177.3 136,1150.0 137,1140.0 138,1130.0 139,1120.0 140,1110.0 141,1107.2 142,1104.3 143,1101.5 144,1098.6 145,1095.8 146,1092.9 147,1090.1 148,1087.2 149,1084.4 150,1081.5 151,1078.7 152,1075.9 153,1073.6 154,1071.6 155,1069.6 156,1067.6 157,1065.7 158,1063.7 159,1061.7 160,1059.7 161,1054.6 162,1049.6 163,1044.5 164,1039.5 165,1034.4 166,1029.4 167,1024.3 168,1019.3 169,1014.4 170,1009.4 171,1004.5 172,997.0 173,986.9 174,976.8 175,966.7 176,956.8 177,946.8 178,936.9 179,927.0 180,923.7 181,922.0 182,920.4 183,918.7 184,917.1 185,915.4 186,913.8 187,912.1 188,910.5 189,908.8 190,907.2 191,905.6 192,904.3 193,903.0 194,901.6 195,900.3 196,894.5 197,886.9 198,879.2 199,872.0 200,869.3 201,866.6 202,863.8 203,861.1 204,858.4 205,855.7 206,852.9 207,849.4 208,845.7 209,842.0 210,838.2 211,834.5 212,830.8 213,827.1 214,823.1 215,818.9 216,814.7 217,810.5 218,806.3 219,802.1 220,797.9 221,797.3 222,796.7 223,796.1 224,795.5 225,794.9 226,794.3 227,793.7 228,775.1 229,756.5 230,750.2 231,745.4 232,740.5 233,735.7 234,730.8 235,725.3 236,719.8 237,715.1 238,713.3 239,711.6 240,709.9 241,708.1 242,706.4 243,706.3 244,707.3 245,708.3 246,709.3 247,710.3 248,711.3 249,712.3 250,713.3 251,712.7 252,708.4 253,704.1 254,699.8 255,695.5 256,691.9 257,688.2 258,684.5 259,680.9 260,676.9 261,672.9 262,669.8 263,674.2 264,678.8 265,688.8 266,711.7 267,682.6 268,676.4 269,699.0 270,709.7 271,702.4 272,695.1 273,687.7 274,686.2 275,707.4 276,726.8 277,728.8 278,730.8 279,732.8 280,734.8 281,736.8 282,738.8 283,740.8 284,742.4 285,744.0 286,745.6 287,747.2 288,748.8 289,750.4 290,751.3 291,745.8 292,740.3 293,734.9 294,729.4 295,714.9 296,700.5 297,693.8 298,718.1 299,742.5 300,766.8 301,762.0 302,744.7 303,731.3 304,720.6 305,709.8 306,702.0 307,720.7 308,739.5 309,758.2 310,756.7 311,741.8 312,726.8 313,711.9 314,701.6 315,698.2 316,694.9 317,691.6 318,688.7 319,687.7 320,686.7 321,685.7 322,684.7 323,683.7 324,682.7 325,681.7 326,680.7 327,679.7 328,675.5 329,666.5 330,679.5 331,692.5 332,701.7 333,695.7 334,689.7 335,683.7 336,677.7 337,677.1 338,676.5 339,675.9 340,675.3 341,674.7 342,674.0 343,673.7 344,675.3 345,677.0 346,678.7 347,680.3 348,681.6 349,682.8 350,684.0 351,685.2 352,686.4 353,687.6 354,688.8 355,689.4 356,690.0 357,690.6 358,691.2 359,691.8 360,692.4 361,693.0 362,696.2 363,699.7 364,703.2 365,706.7 366,710.2 367,717.2 368,732.3 369,747.5 370,762.7 371,763.2 372,760.0 373,756.8 374,753.9 375,751.5 376,749.1 377,746.7 378,744.3 379,741.9 380,739.5 381,737.2 382,735.2 383,733.1 384,731.1 385,729.1 386,727.1 387,725.0 388,723.0 389,721.0 390,689.1 391,657.2 392,654.0 393,654.0 394,668.0 395,752.4 396,754.0 397,755.6 398,757.2 399,758.8 400,760.4 401,761.9 402,763.5 403,765.1 404,766.7 405,768.3 406,769.9 407,771.5 408,773.1 409,774.8 410,776.6 411,778.4 412,780.2 413,782.0 414,783.8 415,785.6 416,788.1 417,791.4 418,794.8 419,798.2 420,801.6 421,805.0 422,808.4 423,810.6 424,811.2 425,811.8 426,812.4 427,813.0 428,813.6 429,814.2 430,814.5 431,814.1 432,813.8 433,813.5 434,813.1 435,812.8 436,812.4 437,812.1 438,811.4 439,807.8 440,804.1 441,800.5 442,796.9 443,818.0 444,829.7 445,829.1 446,828.5 447,827.9 448,827.3 449,826.7 450,826.1 451,826.5 452,827.9 453,829.3 454,830.7 455,832.1 456,833.5 457,834.9 458,846.5 459,845.8 460,835.4 461,824.9 462,814.5 463,809.1 464,807.1 465,805.1 466,803.1 467,801.1 468,799.1 469,797.1 470,795.1 471,793.9 472,793.6 473,793.3 474,793.0 475,792.7 476,792.4 477,792.1 478,791.8 479,791.5 480,791.2 481,790.9 482,790.6 483,790.3 484,790.0 485,789.7 486,789.4 487,789.1 488,788.8 489,788.5 490,788.2 491,788.0 492,788.5 493,789.0 494,789.5 495,790.0 496,790.5 497,791.0 498,791.5 499,792.0 500,792.5 501,793.0 502,793.5 503,794.0 504,787.8 505,780.8 506,773.9 507,766.9 508,764.1 509,762.4 510,760.7 511,758.9 512,757.2 513,755.5 514,753.7 515,752.0 516,751.8 517,752.6 518,753.4 519,754.2 520,755.0 521,755.8 522,756.6 523,757.4 524,758.2 525,759.0 526,759.7 527,760.3 528,760.9 529,761.5 530,762.1 531,762.7 532,763.3 533,763.9 534,764.5 535,765.1 536,765.8 537,767.0 538,768.1 539,769.3 540,770.4 541,771.5 542,772.7 543,773.8 544,775.0 545,776.1 546,777.2 547,778.4 548,779.5 549,780.7 550,781.8 551,782.3 552,782.8 553,783.3 554,783.8 555,784.3 556,784.8 557,785.3 558,785.8 559,785.1 560,784.3 561,783.5 562,782.6 563,781.8 564,781.0 565,780.1 566,779.3 567,778.5 568,777.6 569,776.8 570,776.0 571,775.1 572,774.3 573,773.5 574,772.6 575,771.8 576,771.0 577,770.1 578,769.3 579,768.5 580,767.7 581,766.8 582,766.0 583,764.7 584,762.7 585,760.6 586,758.6 587,758.2 588,760.2 589,762.2 590,764.2 591,766.1 592,768.1 593,770.1 594,772.1 595,774.2 596,776.7 597,779.2 598,781.8 599,784.3 600,786.8 601,789.3 602,791.8 603,794.2 604,795.5 605,796.9 606,798.2 607,799.5 608,800.8 609,802.1 610,803.5 611,804.8 612,806.1 613,807.4 614,808.7 615,810.0 616,812.7 617,815.7 618,818.8 619,821.8 620,824.8 621,827.8 622,830.9 623,833.9 624,836.9 625,839.9 626,842.9 627,845.9 628,849.0 629,852.0 630,855.0 631,858.0 632,860.4 633,862.4 634,864.4 635,866.4 636,865.7 637,862.2 638,858.7 639,855.2 640,851.8 641,848.3 642,844.8 643,841.3 644,838.5 645,837.3 646,836.1 647,834.9 648,833.7 649,832.4 650,831.2 651,830.0 652,828.8 653,827.6 654,825.1 655,817.5 656,810.0 657,802.4 658,794.9 659,787.3 660,779.8 661,780.4 662,781.0 663,781.6 664,782.2 665,782.8 666,783.4 667,784.0 668,784.6 669,785.2 670,785.8 671,785.6 672,785.3 673,784.9 674,784.6 675,784.3 676,783.9 677,783.6 678,783.3 679,782.9 680,782.6 681,782.3 682,781.9 683,786.7 684,794.8 685,798.5 686,799.2 687,799.8 688,800.5 689,801.2 690,801.9 691,802.5 692,803.2 693,803.9 694,804.6 695,805.2 696,805.9 697,806.4 698,806.6 699,806.9 700,807.1 701,807.4 702,807.6 703,807.9 704,808.1 705,808.4 706,809.0 707,809.6 708,810.2 709,810.8 710,811.4 711,812.0 712,812.6 713,813.3 714,813.9 715,814.5 716,815.0 717,815.6 718,816.2 719,816.8 720,817.3 721,817.9 722,818.5 723,819.0 724,819.6 725,820.2 726,820.8 727,821.3 728,821.9 729,822.5 730,824.2 731,826.2 732,828.2 733,830.2 734,832.1 735,834.1 736,836.1 737,838.1 738,839.2 739,839.7 740,840.2 741,840.7 742,841.2 743,841.7 744,842.2 745,842.7 746,840.2 747,834.7 748,829.2 749,823.8 750,820.8 751,821.6 752,822.3 753,823.1 754,823.8 755,824.6 756,825.3 757,826.1 758,827.1 759,828.9 760,830.6 761,832.4 762,834.1 763,835.8 764,837.6 765,839.3 766,840.8 767,839.8 768,838.8 769,837.8 770,836.8 771,835.7 772,834.7 773,833.7 774,832.7 775,831.7 776,830.7 777,830.3 778,829.9 779,829.5 780,829.1 781,828.7 782,828.3 783,827.9 784,827.5 785,827.1 786,826.7 787,827.4 788,828.4 789,829.4 790,830.4 791,831.4 792,832.4 793,833.4 794,834.4 795,835.4 796,836.4 797,837.4 798,838.4 799,836.4 800,831.3 801,826.3 802,821.3 803,816.2 804,811.2 805,806.2 806,801.1 807,797.9 808,797.6 809,797.2 810,796.8 811,796.4 812,796.0 813,795.6 814,795.2 815,794.8 816,794.4 817,794.5 818,796.6 819,798.6 820,800.7 821,800.2 822,799.7 823,799.2 824,798.7 825,798.2 826,797.7 827,797.2 828,796.7 829,798.5 830,800.5 831,802.5 832,804.4 833,806.4 834,808.4 835,810.4 836,812.4 837,814.4 838,816.3 839,818.3 840,820.3 841,822.7 842,825.4 843,828.0 844,830.7 845,833.4 846,836.1 847,835.9 848,832.9 849,829.9 850,826.9 851,823.8 852,820.8 853,817.8 854,814.8 855,813.4 856,814.4 857,815.4 858,816.4 859,817.4 860,818.4 861,819.1 862,819.3 863,819.4 864,819.6 865,819.7 866,819.8 867,820.0 868,820.1 869,820.3 870,820.4 871,820.5 872,820.7 873,820.8 874,821.0 875,821.1 876,822.4 877,823.8 878,825.1 879,826.4 880,827.7 881,829.1 882,826.7 883,823.9 884,821.1 885,818.3 886,815.5 887,812.7 888,809.9 889,807.1 890,804.3 891,801.5 892,801.4 893,802.4 894,803.4 895,804.4 896,805.4 897,806.4 898,807.4 899,808.4 900,809.4 901,810.4 902,814.2 903,820.8 904,827.5 905,834.1 906,836.8 907,835.7 908,834.6 909,833.5 910,832.3 911,831.2 912,830.1 913,829.0 914,827.9 915,826.7 916,825.6 917,824.5 918,823.4 919,822.2 920,821.1 921,820.0 922,819.1 923,818.9 924,818.7 925,818.6 926,818.4 927,818.2 928,818.0 929,817.9 930,817.7 931,817.5 932,817.4 933,817.2 934,817.0 935,819.3 936,821.8 937,824.3 938,826.8 939,829.3 940,831.9 941,834.4 942,836.9 943,836.4 944,835.1 945,833.9 946,832.6 947,831.4 948,830.1 949,828.8 950,827.6 951,828.8 952,831.0 953,833.2 954,835.5 955,837.7 956,839.9 957,842.2 958,844.4 959,845.3 960,845.0 961,844.7 962,844.4 963,844.0 964,843.7 965,843.4 966,843.0 967,842.7 968,842.4 969,842.1 970,841.7 971,842.7 972,846.7 973,850.6 974,854.6 975,858.0 976,859.0 977,860.0 978,861.0 979,862.0 980,863.0 981,864.0 982,865.0 983,866.0 984,867.0 985,868.0 986,869.0 987,870.0 988,868.5 989,867.0 990,865.5 991,864.0 992,862.6 993,861.1 994,859.6 995,858.1 996,859.4 997,861.4 998,863.4 999,865.4 1000,867.5 1001,869.5 1002,871.5 1003,873.5 1004,874.4 1005,874.9 1006,875.4 1007,875.9 1008,876.4 1009,876.9 1010,877.4 1011,877.9 1012,878.3 1013,878.6 1014,879.0 1015,879.3 1016,879.6 1017,880.0 1018,880.3 1019,880.6 1020,881.0 1021,881.3 1022,881.6 1023,882.0 1024,882.2 1025,882.2 1026,882.2 1027,882.2 1028,882.2 1029,882.2 1030,882.2 1031,882.2 1032,882.2 1033,882.2 1034,882.2 1035,882.2 1036,882.2 1037,882.2 1038,882.2 1039,882.2 1040,882.2 1041,886.3 1042,890.4 1043,894.4 1044,898.5 1045,898.0 1046,897.5 1047,897.0 1048,896.5 1049,896.0 1050,895.5 1051,895.0 1052,894.5 1053,897.6 1054,901.6 1055,905.6 1056,909.7 1057,913.7 1058,917.7 1059,920.1 1060,921.7 1061,923.4 1062,925.0 1063,926.7 1064,928.3 1065,926.9 1066,923.5 1067,920.0 1068,916.5 1069,914.5 1070,913.8 1071,913.1 1072,912.4 1073,911.8 1074,911.1 1075,910.4 1076,909.8 1077,909.1 1078,908.4 1079,907.7 1080,907.1 1081,907.5 1082,910.5 1083,913.5 1084,916.5 1085,920.1 1086,926.2 1087,932.3 1088,938.4 1089,942.8 1090,940.5 1091,938.1 1092,935.8 1093,933.5 1094,931.1 1095,928.9 1096,928.3 1097,927.7 1098,927.1 1099,926.5 1100,926.0 1101,925.4 1102,924.8 1103,924.2 1104,923.6 1105,923.0 1106,925.6 1107,928.6 1108,931.6 1109,934.6 1110,931.6 1111,927.1 1112,922.6 1113,918.1 1114,916.9 1115,917.1 1116,917.3 1117,917.4 1118,917.6 1119,917.8 1120,918.0 1121,918.1 1122,918.3 1123,918.5 1124,918.6 1125,918.8 1126,919.0 1127,919.1 1128,919.3 1129,919.5 1130,919.6 1131,919.8 1132,920.0 1133,920.1 1134,920.3 1135,920.5 1136,920.6 1137,920.8 1138,921.0 1139,921.5 1140,922.0 1141,922.5 1142,923.0 1143,923.5 1144,924.0 1145,924.5 1146,925.0 1147,924.7 1148,924.5 1149,924.2 1150,924.0 1151,923.7 1152,923.5 1153,923.2 1154,923.0 1155,922.7 1156,922.5 1157,922.2 1158,922.0 1159,921.7 1160,921.5 1161,921.2 1162,921.0 1163,920.5 1164,920.0 1165,919.5 1166,919.0 1167,918.5 1168,918.0 1169,917.5 1170,917.0 1171,916.5 1172,916.0 1173,915.5 1174,915.0 1175,914.8 1176,914.8 1177,914.8 1178,914.8 1179,914.8 1180,914.8 1181,914.8 1182,914.8 1183,914.8 1184,914.8 1185,914.8 1186,914.8 1187,914.8 1188,914.8 1189,914.8 1190,914.8 1191,914.2 1192,912.1 1193,910.1 1194,908.0 1195,906.3 1196,905.2 1197,904.0 1198,902.9 1199,901.8 1200,900.7 1201,900.5 1202,900.4 1203,900.2 1204,900.0 1205,899.8 1206,899.7 1207,899.5 1208,899.3 1209,899.1 1210,899.0 1211,898.8 1212,898.6 1213,898.4 1214,898.3 1215,898.1 1216,897.9 1217,897.8 1218,908.5 1219,923.9 1220,939.3 1221,947.3 1222,950.3 1223,953.3 1224,956.4 1225,959.4 1226,962.4 1227,964.6 1228,966.0 1229,967.4 1230,968.8 1231,970.2 1232,971.6 1233,972.9 1234,974.3 1235,975.7 1236,977.1 1237,978.2 1238,978.4 1239,978.6 1240,978.9 1241,979.1 1242,979.3 1243,979.6 1244,979.8 1245,980.0 1246,978.4 1247,969.7 1248,961.8 1249,961.6 1250,961.5 1251,961.3 1252,961.2 1253,961.0 1254,960.9 1255,960.7 1256,960.6 1257,960.4 1258,960.3 1259,960.1 1260,960.0 1261,959.8 1262,960.6 1263,961.4 1264,962.2 1265,963.1 1266,963.9 1267,964.7 1268,965.6 1269,966.4 1270,967.2 1271,968.1 1272,968.9 1273,969.7 1274,970.0 1275,970.0 1276,970.0 1277,970.0 1278,970.0 1279,970.0 1280,970.0 1281,970.0 1282,969.2 1283,967.7 1284,966.2 1285,964.7 1286,963.2 1287,961.7 1288,960.2 1289,958.7 1290,957.8 1291,957.8 1292,957.8 1293,957.8 1294,957.8 1295,957.8 1296,957.8 1297,957.8 1298,957.8 1299,957.8 1300,957.8 1301,957.8 1302,956.6 1303,950.8 1304,945.5 1305,945.5 1306,945.5 1307,945.5 1308,945.5 1309,945.5 1310,945.5 1311,945.5 1312,945.5 1313,945.5 1314,945.5 1315,945.5 1316,945.5 1317,945.5 1318,945.5 1319,945.5 1320,945.5 1321,945.5 1322,945.5 1323,945.4 1324,945.3 1325,945.2 1326,945.0 1327,944.9 1328,944.8 1329,944.7 1330,944.5 1331,944.4 1332,944.3 1333,944.2 1334,944.1 1335,943.9 1336,943.8 1337,943.7 1338,943.6 1339,942.6 1340,940.7 1341,938.9 1342,937.0 1343,935.1 1344,933.3 1345,931.4 1346,931.7 1347,935.0 1348,938.4 1349,941.8 1350,945.2 1351,947.6 1352,947.8 1353,948.0 1354,948.1 1355,948.3 1356,948.5 1357,948.6 1358,948.8 1359,949.0 1360,949.1 1361,949.3 1362,949.5 1363,950.0 1364,954.0 1365,958.0 1366,962.1 1367,966.1 1368,970.1 1369,974.1 1370,976.1 1371,978.0 1372,980.0 1373,982.0 1374,983.9 1375,985.9 1376,986.0 1377,985.5 1378,985.1 1379,984.7 1380,984.2 1381,983.8 1382,983.4 1383,982.9 1384,982.5 1385,982.1 1386,981.7 1387,981.2 1388,980.8 1389,980.4 1390,981.2 1391,982.8 1392,984.5 1393,986.2 1394,987.8 1395,989.5 1396,988.3 1397,984.3 1398,980.3 1399,976.3 1400,972.3 1401,968.3 1402,965.8 1403,965.6 1404,965.4 1405,965.2 1406,965.0 1407,964.8 1408,964.6 1409,964.4 1410,964.3 1411,964.1 1412,964.0 1413,964.5 1414,965.0 1415,965.5 1416,966.0 1417,966.5 1418,967.0 1419,967.5 1420,968.0 1421,968.5 1422,969.0 1423,969.5 1424,970.0 1425,967.5 1426,965.0 1427,962.5 1428,960.0 1429,957.6 1430,955.1 1431,952.6 1432,950.1 1433,949.2 1434,948.7 1435,948.2 1436,947.7 1437,947.2 1438,946.7 1439,946.2 1440,945.7 1441,947.2 1442,949.7 1443,952.2 1444,954.7 1445,957.2 1446,959.7 1447,962.2 1448,964.7 1449,962.7 1450,956.4 1451,950.0 1452,943.7 1453,937.4 1454,931.0 1455,930.4 1456,938.3 1457,946.3 1458,954.2 1459,958.3 1460,953.3 1461,948.3 1462,943.2 1463,938.2 1464,933.2 1465,928.9 1466,927.4 1467,925.9 1468,924.4 1469,922.9 1470,921.4 1471,919.9 1472,918.4 1473,916.9 1474,916.3 1475,915.6 1476,915.0 1477,914.3 1478,913.7 1479,913.0 1480,916.0 1481,919.0 1482,922.0 1483,925.0 1484,928.0 1485,931.0 1486,934.3 1487,937.6 1488,941.0 1489,944.3 1490,947.6 1491,950.9 1492,952.2 1493,953.0 1494,953.9 1495,954.7 1496,955.5 1497,956.3 1498,957.1 1499,957.9 1500,958.7 1501,959.5 1502,958.6 1503,956.6 1504,954.6 1505,952.6 1506,950.6 1507,948.6 1508,946.6 1509,944.6 1510,942.6 1511,940.6 1512,941.3 1513,945.9 1514,950.6 1515,955.3 1516,960.0 1517,964.6 1518,968.2 1519,969.2 1520,970.2 1521,971.2 1522,972.2 1523,973.2 1524,974.2 1525,975.2 1526,976.1 1527,976.3 1528,976.5 1529,976.7 1530,976.9 1531,977.1 1532,977.3 1533,977.5 1534,977.7 1535,977.9 1536,978.1 1537,978.7 1538,979.3 1539,979.9 1540,980.5 1541,981.1 1542,981.7 1543,982.3 1544,982.9 1545,983.5 1546,984.1 1547,984.8 1548,985.5 1549,986.3 1550,987.0 1551,987.8 1552,988.5 1553,989.3 1554,990.0 1555,990.6 1556,991.0 1557,991.5 1558,992.0 1559,992.4 1560,992.9 1561,996.5 1562,1000.0 1563,1003.6 1564,1007.1 1565,1006.7 1566,1005.9 1567,1005.0 1568,1004.1 1569,1003.3 1570,1002.7 1571,1003.3 1572,1003.8 1573,1004.4 1574,1005.0 1575,1005.5 1576,1006.1 1577,1006.6 1578,1007.2 1579,1007.8 1580,1008.3 1581,1008.9 1582,1009.5 1583,1010.0 1584,1010.6 1585,1010.6 1586,1010.2 1587,1009.8 1588,1009.4 1589,1009.0 1590,1008.6 1591,1008.2 1592,1007.8 1593,1007.4 1594,1007.0 1595,1006.6 1596,1006.2 1597,1005.8 1598,1005.4 1599,1005.0 1600,1004.6 1601,1003.5 1602,1000.8 1603,998.1 1604,995.3 1605,992.6 1606,989.9 1607,987.2 1608,997.1 1609,1010.8 1610,1011.3 1611,1011.8 1612,1012.3 1613,1012.8 1614,1013.3 1615,1013.8 1616,1014.3 1617,1014.8 1618,1015.3 1619,1015.8 1620,1016.3 1621,1016.8 1622,1017.3 1623,1017.8 1624,1018.3 1625,1018.8 1626,1019.6 1627,1020.4 1628,1021.2 1629,1022.0 1630,1022.8 1631,1023.6 1632,1024.4 1633,1025.3 1634,1020.9 1635,1014.4 1636,1010.6 1637,1017.4 1638,1024.1 1639,1021.9 1640,1017.5 1641,1013.0 1642,1009.3 1643,1006.3 1644,1003.3 1645,1000.2 1646,997.2 1647,994.2 1648,991.2 1649,996.3 1650,1001.4 1651,1006.5 1652,1007.4 1653,1007.2 1654,1007.1 1655,1007.0 1656,1006.8 1657,1006.7 1658,1006.5 1659,1006.4 1660,1006.3 1661,1006.1 1662,1006.0 1663,1005.9 1664,1005.7 1665,1005.6 1666,1005.4 1667,1005.3 1668,1005.2 1669,1005.0 1670,1004.9 1671,1004.7 1672,1004.6 1673,1004.5 1674,1004.3 1675,1004.0 1676,1003.7 1677,1003.3 1678,1003.0 1679,1002.6 1680,1002.3 1681,1002.0 1682,1001.6 1683,1001.3 1684,1000.8 1685,1000.0 1686,999.2 1687,998.4 1688,997.5 1689,996.7 1690,995.9 1691,995.0 1692,994.2 1693,993.4 1694,992.9 1695,993.1 1696,993.2 1697,993.3 1698,993.4 1699,993.6 1700,993.7 1701,993.8 1702,993.9 1703,994.1 1704,994.2 1705,994.3 1706,994.4 1707,995.0 1708,996.2 1709,997.4 1710,998.6 1711,999.8 1712,1001.0 1713,1002.1 1714,1003.3 1715,1004.3 1716,1004.5 1717,1004.7 1718,1004.9 1719,1005.1 1720,1005.3 1721,1005.5 1722,1005.7 1723,1005.9 1724,1006.1 1725,1006.3 1726,1006.5 1727,1006.7 1728,1006.9 1729,1007.1 1730,1007.3 1731,1007.5 1732,1008.6 1733,1009.8 1734,1011.0 1735,1012.2 1736,1013.4 1737,1014.6 1738,1015.8 1739,1017.1 1740,1013.7 1741,1009.3 1742,1004.8 1743,1003.4 1744,1005.0 1745,1006.5 1746,1008.1 1747,1009.7 1748,1011.3 1749,1012.9 1750,1014.4 1751,1016.0 1752,1017.6 1753,1019.2 1754,1020.5 1755,1019.2 1756,1018.0 1757,1016.7 1758,1015.4 1759,1014.2 1760,1012.9 1761,1012.5 1762,1012.6 1763,1012.7 1764,1012.8 1765,1012.9 1766,1013.0 1767,1013.2 1768,1013.3 1769,1013.4 1770,1013.5 1771,1013.6 1772,1013.7 1773,1013.9 1774,1014.0 1775,1014.1 1776,1010.9 1777,1007.3 1778,1003.7 1779,1004.4 1780,1006.9 1781,1009.4 1782,1011.9 1783,1014.4 1784,1016.9 1785,1018.9 1786,1018.7 1787,1018.5 1788,1018.3 1789,1018.1 1790,1017.9 1791,1017.7 1792,1017.5 1793,1017.3 1794,1018.4 1795,1019.5 1796,1020.6 1797,1021.7 1798,1022.8 1799,1024.0 1800,1025.1 1801,1026.2 1802,1027.3 1803,1028.4 1804,1029.5 1805,1030.6 1806,1031.7 1807,1032.8 1808,1033.8 1809,1034.3 1810,1034.8 1811,1035.3 1812,1035.8 1813,1036.3 1814,1036.8 1815,1037.3 1816,1037.8 1817,1038.3 1818,1038.8 1819,1039.3 1820,1039.8 1821,1040.3 1822,1040.8 1823,1041.3 1824,1041.8 1825,1041.6 1826,1041.4 1827,1041.3 1828,1041.1 1829,1040.9 1830,1040.7 1831,1040.6 1832,1040.4 1833,1040.2 1834,1039.4 1835,1036.9 1836,1034.5 1837,1032.0 1838,1033.2 1839,1034.4 1840,1035.6 1841,1036.8 1842,1038.0 1843,1039.3 1844,1040.5 1845,1041.7 1846,1044.8 1847,1048.1 1848,1051.4 1849,1054.7 1850,1058.0 1851,1059.0 1852,1059.9 1853,1060.9 1854,1061.8 1855,1062.8 1856,1063.7 1857,1064.6 L1857,1355.0 Z" fill="#fbab78"/>
<defs><linearGradient id="ls" x1="0" y1="0" x2="0" y2="1"><stop offset="0" stop-color="#f4f8b9"/><stop offset="0.022" stop-color="#f4f8b9"/><stop offset="0.038" stop-color="#fbe8a6"/><stop offset="0.052" stop-color="#fcd293"/><stop offset="0.054" stop-color="#fbab78"/><stop offset="1" stop-color="#fbab78"/></linearGradient></defs>
<rect x="113.5" y="272" width="1.6" height="1083" fill="#fbeeb5"/>
<rect x="115" y="272" width="6" height="1083" fill="url(#ls)"/>
<path d="M116.8,316.5 L115.2,331 L120.8,331 Z" fill="#fbab78"/>
<g stroke="#000" stroke-opacity="0.018" stroke-width="1">
<line x1="121" y1="1341.6" x2="1857" y2="1341.6"/>
<line x1="121" y1="1328.7" x2="1857" y2="1328.7"/>
<line x1="121" y1="1317.9" x2="1857" y2="1317.9"/>
<line x1="121" y1="1308.5" x2="1857" y2="1308.5"/>
<line x1="121" y1="1300.2" x2="1857" y2="1300.2"/>
<line x1="121" y1="1292.8" x2="1857" y2="1292.8"/>
<line x1="121" y1="1244.0" x2="1857" y2="1244.0"/>
<line x1="121" y1="1215.5" x2="1857" y2="1215.5"/>
<line x1="121" y1="1195.3" x2="1857" y2="1195.3"/>
<line x1="121" y1="1179.6" x2="1857" y2="1179.6"/>
<line x1="121" y1="1166.7" x2="1857" y2="1166.7"/>
<line x1="121" y1="1155.9" x2="1857" y2="1155.9"/>
<line x1="121" y1="1146.5" x2="1857" y2="1146.5"/>
<line x1="121" y1="1138.2" x2="1857" y2="1138.2"/>
<line x1="121" y1="1130.8" x2="1857" y2="1130.8"/>
<line x1="121" y1="1082.0" x2="1857" y2="1082.0"/>
<line x1="121" y1="1053.5" x2="1857" y2="1053.5"/>
<line x1="121" y1="1033.3" x2="1857" y2="1033.3"/>
<line x1="121" y1="1017.6" x2="1857" y2="1017.6"/>
<line x1="121" y1="1004.7" x2="1857" y2="1004.7"/>
<line x1="121" y1="993.9" x2="1857" y2="993.9"/>
<line x1="121" y1="984.5" x2="1857" y2="984.5"/>
<line x1="121" y1="976.2" x2="1857" y2="976.2"/>
<line x1="121" y1="968.8" x2="1857" y2="968.8"/>
<line x1="121" y1="920.0" x2="1857" y2="920.0"/>
<line x1="121" y1="891.5" x2="1857" y2="891.5"/>
<line x1="121" y1="871.3" x2="1857" y2="871.3"/>
<line x1="121" y1="855.6" x2="1857" y2="855.6"/>
<line x1="121" y1="842.7" x2="1857" y2="842.7"/>
<line x1="121" y1="831.9" x2="1857" y2="831.9"/>
<line x1="121" y1="822.5" x2="1857" y2="822.5"/>
<line x1="121" y1="814.2" x2="1857" y2="814.2"/>
<line x1="121" y1="806.8" x2="1857" y2="806.8"/>
<line x1="121" y1="758.0" x2="1857" y2="758.0"/>
<line x1="121" y1="729.5" x2="1857" y2="729.5"/>
<line x1="121" y1="709.3" x2="1857" y2="709.3"/>
<line x1="121" y1="693.6" x2="1857" y2="693.6"/>
<line x1="121" y1="680.7" x2="1857" y2="680.7"/>
<line x1="121" y1="669.9" x2="1857" y2="669.9"/>
<line x1="121" y1="660.5" x2="1857" y2="660.5"/>
<line x1="121" y1="652.2" x2="1857" y2="652.2"/>
<line x1="121" y1="644.8" x2="1857" y2="644.8"/>
<line x1="121" y1="596.0" x2="1857" y2="596.0"/>
<line x1="121" y1="567.5" x2="1857" y2="567.5"/>
<line x1="121" y1="547.3" x2="1857" y2="547.3"/>
<line x1="121" y1="531.6" x2="1857" y2="531.6"/>
<line x1="121" y1="518.7" x2="1857" y2="518.7"/>
<line x1="121" y1="507.9" x2="1857" y2="507.9"/>
<line x1="121" y1="498.5" x2="1857" y2="498.5"/>
<line x1="121" y1="490.2" x2="1857" y2="490.2"/>
<line x1="121" y1="482.8" x2="1857" y2="482.8"/>
<line x1="121" y1="434.0" x2="1857" y2="434.0"/>
<line x1="121" y1="405.5" x2="1857" y2="405.5"/>
<line x1="121" y1="385.3" x2="1857" y2="385.3"/>
<line x1="121" y1="369.6" x2="1857" y2="369.6"/>
<line x1="121" y1="356.7" x2="1857" y2="356.7"/>
<line x1="121" y1="345.9" x2="1857" y2="345.9"/>
<line x1="121" y1="336.5" x2="1857" y2="336.5"/>
<line x1="121" y1="328.2" x2="1857" y2="328.2"/>
<line x1="121" y1="320.8" x2="1857" y2="320.8"/>
</g>
<text x="595" y="835" font-family="Liberation Sans, sans-serif" font-size="173" fill="#b8783c" fill-opacity="0.07">glassnode</text>
<path d="M273.7,1339.0 L274.4,1301.3 L275.3,1313.2 L276.2,1327.5 L277.1,1339.0 L278.2,1329.1 L279.4,1324.1 L280.5,1315.0 L281.5,1315.0 L282.5,1319.0 L283.5,1317.2 L284.4,1320.6 L285.4,1320.5 L286.4,1323.8 L287.4,1323.6 L288.4,1321.9 L289.3,1325.6 L290.3,1322.7 L291.3,1326.0 L292.3,1324.1 L293.2,1327.0 L294.2,1325.3 L295.3,1324.3 L296.5,1325.9 L297.6,1323.6 L299.3,1291.1 L300.5,1286.7 L301.6,1286.7 L302.8,1284.2 L303.8,1246.6 L305.0,1220.1 L306.2,1197.0 L307.9,1229.5 L309.0,1226.9 L310.2,1221.4 L311.3,1219.2 L312.2,1225.4 L313.1,1229.0 L314.0,1236.6 L314.9,1239.1 L315.8,1244.9 L316.8,1240.0 L317.9,1233.0 L318.9,1229.8 L319.9,1222.6 L320.9,1218.1 L321.9,1218.7 L323.0,1212.9 L324.0,1213.9 L325.0,1209.0 L326.1,1202.0 L327.3,1195.7 L328.4,1188.4 L330.1,1181.6 L331.3,1152.1 L332.5,1123.4 L333.4,1126.2 L334.3,1125.6 L335.2,1130.6 L336.1,1130.9 L337.0,1133.7 L337.9,1136.5 L338.9,1134.1 L339.8,1136.9 L340.8,1136.6 L341.7,1139.0 L342.7,1139.4 L343.6,1141.9 L344.6,1139.6 L345.5,1142.2 L346.5,1146.7 L347.6,1148.0 L348.6,1153.8 L349.6,1155.9 L350.5,1147.2 L351.4,1142.9 L352.3,1133.3 L353.2,1128.8 L354.1,1120.0 L355.5,1101.0 L356.8,1085.8 L358.5,1044.7 L359.7,1027.0 L360.9,1007.1 L362.6,979.7 L363.5,977.1 L364.5,975.7 L365.4,972.9 L366.7,928.4 L367.8,908.4 L368.8,890.8 L370.2,938.7 L371.3,937.1 L372.4,932.7 L373.5,930.8 L374.6,928.4 L375.7,933.6 L376.9,940.5 L378.0,945.5 L379.0,944.1 L380.1,946.1 L381.1,944.7 L382.2,946.1 L383.2,945.5 L384.4,969.0 L385.6,996.8 L387.0,978.7 L388.3,957.5 L389.3,960.7 L390.3,967.3 L391.4,970.0 L392.4,975.9 L393.4,979.7 L395.1,1017.4 L396.3,1011.7 L397.4,1009.6 L398.6,1003.7 L399.6,1006.5 L400.6,1014.4 L401.7,1016.5 L402.7,1023.0 L403.7,1027.6 L405.0,1048.3 L406.4,1072.1 L407.4,1063.8 L408.5,1050.5 L409.5,1041.3 L410.4,1045.0 L411.3,1043.8 L412.2,1047.8 L413.1,1047.8 L414.0,1051.6 L415.7,1079.0 L416.7,1073.6 L417.7,1065.6 L418.8,1061.5 L419.8,1054.6 L420.8,1048.2 L421.8,1047.0 L422.8,1041.1 L423.9,1039.0 L424.9,1033.7 L425.9,1031.1 L427.1,1012.7 L428.3,991.7 L429.3,992.6 L430.4,995.8 L431.4,996.2 L432.4,1000.4 L433.5,1000.5 L434.5,1003.7 L435.5,1010.6 L436.5,1011.9 L437.6,1018.9 L438.6,1021.8 L439.6,1027.6 L440.6,1026.8 L441.6,1023.3 L442.7,1022.4 L443.7,1019.2 L444.7,1017.4 L445.7,1019.1 L446.7,1016.5 L447.7,1019.7 L448.6,1018.1 L449.6,1020.6 L450.6,1016.7 L451.6,1019.1 L452.5,1020.6 L453.4,1017.7 L454.3,1019.3 L455.3,1017.2 L456.2,1018.5 L457.1,1016.6 L458.0,1017.5 L458.9,1016.3 L459.8,1017.7 L460.7,1015.7 L461.6,1017.7 L462.6,1015.0 L463.5,1016.6 L464.4,1015.4 L465.3,1015.7 L466.3,1016.1 L467.2,1013.1 L468.2,1014.5 L469.2,1011.2 L470.2,1013.6 L471.1,1010.1 L472.1,1010.5 L473.1,1009.1 L474.1,1004.4 L475.2,1002.9 L476.2,998.8 L477.2,996.8 L478.1,996.7 L479.1,995.3 L480.0,995.1 L481.4,994.2 L482.7,990.6 L483.6,985.7 L484.6,983.6 L485.6,978.9 L486.5,975.2 L487.5,972.6 L488.4,965.1 L489.4,963.2 L490.4,956.8 L491.3,952.7 L492.3,948.3 L493.2,964.5 L494.2,984.8 L495.1,978.5 L496.1,970.3 L497.1,967.1 L498.0,959.8 L499.0,958.8 L499.9,959.7 L500.9,955.5 L501.9,956.6 L502.8,953.7 L503.8,954.7 L504.7,952.4 L505.7,952.1 L506.7,953.5 L507.6,953.8 L508.6,955.8 L509.5,956.2 L510.5,959.1 L511.5,958.0 L512.4,961.0 L513.4,960.8 L514.3,964.0 L515.3,963.7 L516.3,960.2 L517.2,962.2 L518.2,957.7 L519.2,958.6 L520.1,953.7 L521.1,954.1 L522.0,953.8 L523.0,950.1 L524.0,951.6 L524.9,947.9 L525.8,948.5 L526.8,946.4 L527.8,945.1 L528.7,948.4 L529.7,945.9 L530.6,947.9 L531.6,944.9 L532.6,946.4 L533.5,945.2 L534.5,946.9 L535.4,946.0 L536.4,946.4 L537.4,942.6 L538.3,935.0 L539.3,932.1 L540.3,925.3 L541.2,919.5 L542.2,917.7 L543.1,910.2 L544.1,909.4 L545.0,901.4 L546.0,898.4 L547.0,893.7 L547.9,886.4 L548.9,882.1 L549.9,874.2 L550.8,870.6 L551.8,863.8 L552.0,859.2 L553.0,852.3 L554.0,848.4 L555.1,839.9 L556.1,834.8 L557.1,824.6 L558.1,813.0 L559.1,802.2 L560.6,747.2 L562.2,832.7 L563.2,805.8 L564.2,777.8 L565.2,784.1 L566.2,792.3 L567.3,798.2 L568.3,806.3 L569.3,804.1 L570.3,798.4 L571.3,797.6 L572.4,793.5 L573.4,792.2 L574.4,787.9 L575.4,788.5 L576.4,794.7 L577.5,795.1 L578.5,799.9 L579.5,800.8 L580.5,804.2 L581.5,811.5 L582.5,815.2 L583.6,823.0 L584.6,827.4 L585.6,834.8 L586.6,829.6 L587.7,819.6 L588.7,814.4 L589.7,815.1 L590.7,813.0 L591.8,813.0 L592.8,809.6 L593.8,812.2 L594.8,810.3 L595.7,806.7 L596.6,806.5 L597.5,801.5 L598.4,801.3 L599.3,796.6 L600.2,796.5 L601.1,791.9 L602.0,791.1 L602.9,787.9 L603.8,786.7 L604.7,789.5 L605.6,787.6 L606.5,790.4 L607.5,788.7 L608.4,789.6 L609.3,788.3 L610.2,791.5 L611.1,790.0 L612.1,802.2 L613.1,793.8 L614.1,787.9 L615.1,781.6 L616.2,771.7 L617.2,765.6 L618.2,757.4 L620.0,758.1 L621.2,738.3 L622.4,721.4 L623.4,702.2 L624.5,679.5 L625.5,660.3 L627.3,635.9 L628.5,636.5 L629.8,635.9 L630.7,651.0 L631.6,667.7 L632.2,644.4 L633.7,689.7 L634.8,679.4 L635.9,666.4 L637.1,657.8 L638.3,651.2 L639.2,654.2 L640.1,651.7 L641.1,655.8 L642.0,655.4 L642.9,655.2 L643.8,657.6 L644.8,656.0 L645.7,658.9 L646.6,657.8 L647.5,659.1 L648.5,665.3 L649.5,669.0 L650.4,677.8 L651.4,679.5 L652.4,687.2 L653.4,683.9 L654.4,676.6 L655.4,672.5 L656.4,674.3 L657.4,675.5 L658.3,679.1 L659.3,677.5 L660.3,681.1 L661.2,688.4 L662.1,691.3 L663.0,699.3 L664.0,703.2 L664.9,710.9 L665.8,715.3 L667.0,701.7 L668.3,690.9 L669.3,693.8 L670.4,695.9 L671.5,700.7 L672.5,703.1 L673.4,701.5 L674.3,703.5 L675.2,701.0 L676.2,702.7 L677.1,701.0 L678.0,700.7 L678.9,695.1 L679.9,686.4 L680.8,681.2 L681.7,673.8 L682.6,674.4 L683.5,677.8 L684.5,677.2 L685.4,680.5 L686.3,680.4 L687.2,683.5 L688.2,680.6 L689.3,677.1 L690.3,675.0 L691.3,675.6 L692.3,675.4 L693.3,677.8 L694.2,676.9 L695.2,680.1 L696.2,678.2 L697.2,680.8 L698.2,681.1 L699.2,682.1 L700.2,685.9 L701.1,686.8 L702.1,692.2 L703.1,693.3 L704.1,692.1 L705.1,694.9 L706.2,694.0 L707.2,696.0 L708.2,695.9 L709.2,697.0 L710.1,700.7 L711.0,702.5 L711.9,707.0 L712.9,710.1 L713.8,714.8 L714.7,715.6 L715.6,722.6 L716.5,723.9 L717.4,717.9 L718.4,717.6 L719.3,710.7 L720.2,709.2 L721.2,713.3 L722.2,713.8 L723.1,718.5 L724.1,718.0 L725.1,722.7 L726.3,715.2 L727.5,704.3 L728.5,704.4 L729.6,708.5 L730.6,707.2 L731.6,711.4 L732.7,710.1 L733.7,712.9 L734.6,715.9 L735.6,714.4 L736.5,717.8 L737.5,716.8 L738.4,721.8 L739.4,719.9 L740.3,724.6 L741.3,724.2 L742.2,726.3 L743.1,738.1 L744.0,746.0 L745.0,758.2 L745.9,767.9 L747.1,751.3 L748.3,736.1 L749.2,740.4 L750.1,741.1 L751.1,747.0 L752.0,749.5 L752.9,746.2 L753.8,746.7 L754.7,742.1 L755.6,742.2 L756.6,741.7 L757.7,737.5 L758.7,737.5 L759.7,733.4 L760.8,732.6 L761.8,730.0 L762.7,730.0 L763.6,733.5 L764.5,734.3 L765.5,736.8 L766.4,736.2 L767.3,739.5 L768.2,738.7 L769.1,741.0 L770.1,744.6 L771.1,743.7 L772.0,746.5 L773.0,746.5 L774.0,749.5 L774.9,749.8 L775.8,747.1 L776.7,748.3 L777.6,746.1 L778.6,747.1 L779.5,744.4 L780.4,746.6 L781.3,744.6 L782.3,744.6 L783.3,747.9 L784.2,745.9 L785.2,748.7 L786.2,749.5 L787.1,747.1 L788.0,749.3 L788.9,745.4 L789.9,745.6 L790.8,742.5 L791.7,743.7 L792.6,739.5 L793.5,739.8 L794.6,738.7 L795.6,732.9 L796.7,729.7 L797.8,726.3 L798.7,725.7 L799.6,729.6 L800.5,729.2 L801.5,731.1 L802.4,730.9 L803.3,732.4 L804.3,736.8 L805.3,738.4 L806.3,743.1 L807.4,746.0 L808.4,751.8 L809.4,753.2 L810.4,751.0 L811.4,751.1 L812.5,748.6 L813.5,749.5 L814.5,746.8 L815.5,745.9 L816.5,746.1 L817.4,743.8 L818.4,744.7 L819.3,741.6 L820.3,743.9 L821.2,741.0 L822.2,742.2 L823.1,740.1 L824.1,741.0 L825.0,740.3 L825.9,733.2 L826.8,732.7 L827.7,730.0 L829.0,717.8 L830.2,708.0 L831.2,713.9 L832.2,717.7 L833.2,723.9 L834.2,723.9 L835.3,720.1 L836.3,720.2 L837.3,717.0 L838.3,712.0 L839.3,711.2 L840.4,704.2 L841.4,703.7 L842.4,698.2 L843.4,697.9 L844.4,699.4 L845.3,697.5 L846.3,701.0 L847.3,699.4 L848.2,701.8 L849.1,709.3 L850.1,710.1 L851.0,715.3 L851.9,715.1 L852.8,711.7 L853.7,713.7 L854.6,710.4 L855.7,708.2 L856.8,709.3 L857.8,706.0 L858.9,707.5 L860.0,705.5 L861.0,704.2 L862.0,706.1 L863.0,704.1 L863.9,703.2 L864.8,704.1 L865.7,702.4 L866.6,703.9 L867.5,702.4 L868.4,703.6 L869.3,701.7 L870.2,704.5 L871.2,700.4 L872.1,702.9 L873.0,701.2 L873.9,701.9 L874.8,700.4 L875.7,701.6 L876.6,699.3 L877.5,702.1 L878.4,700.3 L879.4,699.3 L880.3,700.3 L881.3,699.6 L882.2,701.9 L883.2,698.1 L884.2,701.8 L885.1,699.4 L886.1,701.0 L887.0,698.5 L888.0,700.3 L889.0,695.7 L889.9,688.1 L890.9,683.5 L891.8,675.0 L892.8,669.8 L893.7,663.8 L894.7,663.1 L895.6,667.4 L896.6,665.2 L897.5,670.2 L898.5,668.3 L899.5,672.7 L900.4,670.8 L901.4,673.4 L902.4,674.9 L903.3,676.1 L904.3,677.8 L905.2,678.4 L906.2,681.8 L907.2,681.9 L908.1,684.8 L909.1,684.9 L910.1,682.6 L911.0,684.9 L912.0,681.7 L912.9,683.4 L913.9,680.8 L914.9,682.0 L915.8,679.9 L916.8,680.7 L917.7,678.1 L918.7,678.8 L919.6,676.4 L920.6,677.2 L921.6,678.0 L922.5,673.8 L923.5,676.4 L924.4,674.0 L925.4,675.3 L926.4,671.4 L927.3,673.7 L928.3,671.6 L929.2,672.3 L930.2,669.6 L931.1,671.2 L932.1,669.5 L933.0,667.9 L933.9,670.1 L934.8,667.4 L935.7,667.0 L936.6,665.4 L937.5,666.5 L938.4,664.7 L939.3,665.1 L940.3,662.9 L941.2,664.4 L942.1,661.3 L943.0,661.8 L943.9,659.7 L944.8,661.2 L945.7,659.2 L946.6,659.1 L947.5,658.0 L948.5,654.0 L949.4,652.5 L950.4,645.9 L951.4,644.8 L952.3,639.3 L953.3,636.9 L954.2,644.0 L955.2,645.7 L956.1,653.3 L957.1,658.0 L958.1,653.8 L959.0,653.5 L960.0,649.2 L960.9,650.2 L961.9,645.3 L962.9,645.6 L963.8,639.6 L964.8,639.4 L965.7,634.7 L966.7,635.6 L967.6,630.3 L968.6,629.2 L969.6,633.2 L970.5,632.7 L971.5,636.5 L972.5,636.9 L973.4,641.8 L974.4,642.4 L975.3,647.4 L976.3,648.4 L977.3,644.7 L978.2,646.1 L979.2,641.4 L980.1,642.1 L981.1,636.5 L982.1,636.6 L983.0,632.7 L984.0,632.3 L984.9,628.9 L985.9,627.3 L986.9,623.0 L987.8,617.3 L988.8,614.1 L989.8,607.1 L990.7,603.5 L991.7,598.1 L992.7,594.4 L993.6,587.6 L994.6,584.7 L995.6,579.1 L996.5,575.2 L997.5,569.7 L998.5,570.5 L999.4,576.2 L1000.4,575.3 L1001.3,578.7 L1002.3,579.6 L1003.2,584.4 L1004.2,585.1 L1005.2,588.5 L1006.1,588.1 L1007.1,592.3 L1008.0,593.7 L1009.0,596.5 L1010.0,591.7 L1010.9,581.9 L1011.9,578.6 L1012.9,570.5 L1013.8,566.4 L1014.8,557.6 L1015.7,553.5 L1016.7,546.6 L1017.7,543.2 L1018.6,543.6 L1019.5,539.8 L1020.5,540.0 L1021.5,536.1 L1022.4,535.1 L1023.4,543.2 L1024.3,546.9 L1025.3,557.2 L1026.3,562.0 L1027.3,557.2 L1028.2,555.8 L1029.2,548.8 L1030.1,548.8 L1031.1,542.7 L1032.1,539.5 L1033.0,533.6 L1034.0,532.7 L1034.9,526.9 L1035.9,523.6 L1036.9,522.1 L1037.8,517.3 L1038.8,515.9 L1039.8,511.4 L1040.7,509.2 L1041.7,505.0 L1042.6,504.8 L1043.6,500.5 L1044.6,492.6 L1045.5,489.6 L1046.5,479.3 L1047.4,475.2 L1048.4,466.3 L1049.4,462.5 L1050.3,454.3 L1051.3,449.2 L1052.2,441.2 L1053.2,435.2 L1054.2,439.0 L1055.1,439.5 L1056.1,443.5 L1057.0,443.7 L1058.0,448.6 L1058.9,450.6 L1059.9,457.1 L1060.8,465.0 L1061.8,471.8 L1062.8,480.9 L1063.7,485.0 L1064.7,494.3 L1065.6,498.9 L1066.6,508.2 L1067.6,503.9 L1068.5,495.3 L1069.5,492.0 L1070.5,484.0 L1071.4,479.6 L1072.4,473.6 L1073.4,475.9 L1074.3,482.5 L1075.3,483.7 L1076.2,488.3 L1077.2,490.7 L1078.2,495.6 L1079.1,497.4 L1080.1,502.1 L1081.0,504.4 L1082.0,508.2 L1083.0,507.2 L1083.9,502.2 L1084.9,502.3 L1085.8,498.0 L1086.8,496.9 L1087.8,493.9 L1088.7,493.2 L1089.7,489.4 L1090.6,489.2 L1091.6,485.1 L1092.5,485.4 L1093.4,490.5 L1094.3,488.9 L1095.2,494.2 L1096.1,493.4 L1097.0,497.4 L1097.9,497.7 L1098.8,501.1 L1099.7,502.0 L1100.6,505.2 L1101.5,505.1 L1102.4,509.4 L1103.3,509.9 L1104.2,512.8 L1105.1,511.9 L1106.0,517.0 L1106.9,517.8 L1107.9,514.3 L1108.8,514.4 L1109.8,509.3 L1110.7,510.6 L1111.7,505.8 L1112.7,506.1 L1113.6,502.2 L1114.6,502.1 L1115.5,497.9 L1116.5,496.7 L1117.5,498.9 L1118.4,499.5 L1119.4,503.3 L1120.3,503.1 L1121.3,506.6 L1122.3,506.7 L1123.2,511.6 L1124.2,512.0 L1125.1,511.3 L1126.1,513.2 L1127.0,510.8 L1127.9,513.8 L1128.8,512.6 L1129.8,514.0 L1130.7,511.2 L1131.6,514.0 L1132.6,512.9 L1133.5,513.8 L1134.4,511.8 L1135.4,514.7 L1136.3,512.9 L1137.2,514.4 L1138.1,512.9 L1139.1,514.6 L1140.0,513.9 L1140.9,513.0 L1141.8,514.4 L1142.7,513.5 L1143.6,515.2 L1144.5,514.1 L1145.4,513.9 L1146.4,518.8 L1147.3,522.3 L1148.2,529.7 L1149.2,531.3 L1150.1,539.2 L1151.1,542.8 L1152.1,543.3 L1153.0,549.4 L1154.0,549.8 L1155.0,555.6 L1155.9,556.1 L1156.9,560.0 L1157.9,557.1 L1158.8,552.8 L1159.8,550.7 L1160.7,546.6 L1161.7,546.7 L1162.6,550.5 L1163.6,548.5 L1164.5,551.7 L1165.5,551.4 L1166.5,554.8 L1167.4,553.4 L1168.4,555.9 L1169.3,555.5 L1170.3,558.1 L1171.3,557.8 L1172.2,553.3 L1173.2,553.3 L1174.2,548.9 L1175.1,549.5 L1176.1,546.6 L1177.1,545.2 L1178.0,547.1 L1179.0,545.2 L1179.9,546.9 L1180.9,544.4 L1181.9,546.4 L1182.8,544.4 L1183.8,546.6 L1184.7,542.9 L1185.7,544.7 L1186.7,542.3 L1187.6,535.5 L1188.5,532.8 L1189.5,527.4 L1190.5,524.3 L1191.4,527.3 L1192.4,524.3 L1193.3,524.9 L1194.3,521.5 L1195.3,522.9 L1196.2,519.7 L1197.2,519.7 L1198.2,515.1 L1199.2,508.4 L1200.1,503.1 L1201.1,496.7 L1202.0,494.1 L1203.0,496.6 L1203.9,493.5 L1204.9,495.2 L1205.8,491.7 L1206.8,492.8 L1207.7,487.4 L1208.6,480.3 L1209.6,476.5 L1210.5,469.5 L1211.4,464.0 L1212.4,470.2 L1213.4,470.4 L1214.4,477.0 L1215.4,481.0 L1216.4,485.1 L1217.4,485.6 L1218.3,480.0 L1219.3,480.3 L1220.2,476.5 L1221.2,478.3 L1222.2,475.0 L1223.1,474.5 L1224.1,471.7 L1225.1,472.7 L1226.0,474.3 L1227.0,473.5 L1227.9,475.7 L1228.9,474.6 L1229.9,478.7 L1230.8,477.5 L1231.8,479.7 L1232.7,479.1 L1233.7,481.3 L1234.7,484.0 L1235.6,485.0 L1236.6,489.2 L1237.6,488.3 L1238.5,493.4 L1239.5,493.1 L1240.4,498.1 L1241.4,498.6 L1242.4,496.0 L1243.3,495.8 L1244.3,493.2 L1245.2,493.8 L1246.2,490.7 L1247.2,491.4 L1248.1,488.5 L1249.1,487.1 L1250.1,490.2 L1251.0,489.5 L1252.0,494.5 L1252.9,493.9 L1253.9,497.5 L1254.8,497.1 L1255.8,501.8 L1256.8,501.6 L1257.7,506.2 L1258.7,504.9 L1259.6,509.4 L1260.6,510.1 L1261.6,506.9 L1262.5,507.3 L1263.5,502.3 L1264.4,503.5 L1265.4,500.0 L1266.4,499.6 L1267.3,495.7 L1268.3,494.7 L1269.3,495.0 L1270.2,490.0 L1271.2,491.4 L1272.1,487.3 L1273.1,488.6 L1274.1,485.1 L1275.0,486.7 L1276.0,483.7 L1276.9,484.6 L1277.9,481.3 L1278.9,481.7 L1279.8,485.8 L1280.8,484.9 L1281.8,489.1 L1282.7,488.2 L1283.7,490.9 L1284.7,506.8 L1285.7,517.6 L1286.7,533.2 L1287.6,530.8 L1288.6,523.4 L1289.5,521.9 L1290.5,514.9 L1291.4,512.0 L1292.4,510.4 L1293.3,506.4 L1294.3,505.1 L1295.2,500.2 L1296.2,499.7 L1297.2,494.8 L1298.1,494.1 L1299.1,488.8 L1300.0,488.5 L1301.0,485.1 L1302.0,484.2 L1302.9,486.3 L1303.9,484.3 L1304.8,487.1 L1305.8,485.1 L1306.8,487.8 L1307.7,485.6 L1308.7,487.8 L1309.6,485.8 L1310.6,487.1 L1311.6,487.7 L1312.5,485.7 L1313.5,488.7 L1314.4,487.1 L1315.4,489.0 L1316.3,486.6 L1317.3,488.4 L1318.3,487.0 L1319.2,489.4 L1320.2,487.4 L1321.1,488.9 L1322.1,489.0 L1323.1,485.3 L1324.0,485.3 L1325.0,479.9 L1325.9,480.3 L1326.9,474.8 L1327.9,475.0 L1328.8,471.3 L1329.8,469.8 L1330.8,471.3 L1331.7,471.1 L1332.7,473.9 L1333.6,472.9 L1334.6,476.1 L1335.6,473.6 L1336.5,476.8 L1337.5,477.3 L1338.4,479.4 L1339.4,479.4 L1340.4,478.7 L1341.3,480.3 L1342.3,476.1 L1343.2,478.4 L1344.2,476.8 L1345.2,478.9 L1346.1,475.5 L1347.1,477.2 L1348.0,475.1 L1349.0,475.5 L1350.0,473.1 L1350.9,467.7 L1351.9,466.8 L1352.8,461.8 L1353.8,460.8 L1354.8,456.5 L1355.7,455.3 L1356.7,450.6 L1357.7,448.1 L1358.6,448.4 L1359.5,444.9 L1360.5,445.0 L1361.5,441.7 L1362.4,441.6 L1363.3,438.2 L1364.3,437.1 L1365.3,433.5 L1366.2,427.5 L1367.2,425.6 L1368.2,419.7 L1369.1,417.0 L1370.1,412.1 L1371.0,403.9 L1372.0,398.7 L1373.0,390.2 L1373.9,383.3 L1374.9,389.3 L1375.8,391.6 L1376.8,397.1 L1377.8,400.6 L1378.8,394.3 L1379.7,392.1 L1380.7,383.3 L1381.7,382.3 L1382.6,374.3 L1383.6,371.1 L1384.5,364.2 L1385.5,360.3 L1386.5,360.9 L1387.4,358.1 L1388.4,360.4 L1389.3,358.5 L1390.3,360.8 L1391.3,358.3 L1392.2,360.2 L1393.2,357.9 L1394.1,359.7 L1395.1,358.4 L1396.0,357.0 L1397.0,356.8 L1397.9,355.2 L1398.9,355.4 L1399.8,351.9 L1400.8,352.6 L1401.8,356.5 L1402.7,357.9 L1403.7,360.5 L1404.7,360.9 L1405.6,367.1 L1406.6,368.0 L1407.6,370.4 L1408.5,377.5 L1409.5,378.6 L1410.5,384.0 L1411.4,386.3 L1412.4,391.0 L1413.4,391.6 L1414.3,391.9 L1415.3,392.9 L1416.2,391.4 L1417.2,395.4 L1418.2,393.5 L1419.1,396.2 L1420.1,394.2 L1421.0,397.1 L1422.0,396.8 L1423.0,396.7 L1423.9,400.3 L1424.8,399.0 L1425.8,403.4 L1426.8,401.6 L1427.7,404.5 L1428.7,401.0 L1429.6,395.3 L1430.6,392.2 L1431.6,385.9 L1432.5,382.3 L1433.5,377.6 L1434.5,376.2 L1435.4,375.6 L1436.4,374.0 L1437.3,375.7 L1438.3,372.3 L1439.3,373.2 L1440.2,369.1 L1441.2,369.9 L1442.2,372.0 L1443.1,372.1 L1444.1,377.3 L1445.0,376.9 L1446.0,380.9 L1446.9,381.4 L1447.9,376.4 L1448.8,376.4 L1449.8,371.2 L1450.7,370.2 L1451.7,365.0 L1452.7,364.3 L1453.6,360.0 L1454.6,358.1 L1455.5,353.5 L1456.5,350.7 L1457.5,353.8 L1458.4,351.9 L1459.4,354.9 L1460.3,354.5 L1461.3,356.0 L1462.3,354.6 L1463.2,357.6 L1464.2,358.4 L1465.2,359.1 L1466.1,363.7 L1467.1,362.6 L1468.1,366.5 L1469.0,365.1 L1470.0,368.0 L1471.0,370.6 L1471.9,371.8 L1472.9,371.8 L1473.8,373.4 L1474.8,371.9 L1475.8,373.3 L1476.7,371.7 L1477.7,373.7 L1478.8,379.5 L1480.0,381.4 L1481.1,385.1 L1482.3,391.0 L1483.4,393.0 L1484.4,390.1 L1485.3,389.3 L1486.3,385.3 L1487.3,385.3 L1488.2,380.7 L1489.2,379.5 L1490.2,381.0 L1491.1,379.9 L1492.1,382.4 L1493.1,382.5 L1494.0,384.4 L1495.0,382.5 L1495.9,385.7 L1496.9,385.3 L1497.9,381.8 L1498.8,382.5 L1499.8,378.4 L1500.8,379.5 L1501.7,375.8 L1502.7,373.7 L1503.7,376.4 L1504.6,375.9 L1505.6,380.8 L1506.5,380.7 L1507.5,383.4 L1508.5,384.4 L1509.4,388.2 L1510.4,388.0 L1511.3,392.3 L1512.3,393.0 L1513.2,394.5 L1514.2,396.8 L1515.2,397.8 L1516.1,401.6 L1517.0,401.5 L1518.0,404.5 L1519.0,409.5 L1519.9,413.0 L1520.9,419.9 L1521.9,423.2 L1522.8,431.3 L1523.8,435.2 L1524.8,434.3 L1525.7,436.7 L1526.7,433.5 L1527.7,435.3 L1528.6,432.9 L1529.6,435.2 L1530.5,433.2 L1531.5,433.3 L1532.5,433.0 L1533.4,431.0 L1534.4,430.9 L1535.3,426.9 L1536.3,428.0 L1537.3,424.6 L1538.2,427.4 L1539.2,423.3 L1540.1,424.0 L1541.1,421.8 L1542.0,422.7 L1543.0,427.5 L1543.9,427.4 L1544.9,431.8 L1545.8,432.7 L1546.8,435.2 L1547.8,436.0 L1548.7,433.3 L1549.7,436.4 L1550.7,435.0 L1551.7,436.4 L1552.6,433.7 L1553.6,436.6 L1554.6,433.8 L1555.5,436.5 L1556.5,435.2 L1557.5,434.2 L1558.4,435.5 L1559.3,432.6 L1560.3,434.5 L1561.2,431.4 L1562.2,433.8 L1563.1,430.6 L1564.1,431.4 L1565.1,437.4 L1566.0,438.3 L1567.0,445.4 L1568.0,448.7 L1569.0,448.3 L1569.9,449.9 L1570.9,447.8 L1571.8,447.7 L1572.8,446.6 L1573.7,447.5 L1574.7,445.0 L1575.7,447.8 L1576.6,446.0 L1577.6,447.9 L1578.5,443.9 L1579.5,446.7 L1580.4,444.2 L1581.4,444.8 L1582.4,441.6 L1583.3,436.1 L1584.3,435.6 L1585.3,430.0 L1586.2,427.5 L1587.2,423.7 L1588.2,423.1 L1589.1,424.7 L1590.1,422.8 L1591.1,423.4 L1592.0,421.3 L1593.0,423.1 L1593.9,420.5 L1594.9,421.8 L1595.9,424.3 L1596.8,423.5 L1597.8,429.1 L1598.7,427.9 L1599.6,432.4 L1600.6,433.3 L1601.6,425.6 L1602.5,422.4 L1603.5,413.4 L1604.5,408.3 L1605.5,408.8 L1606.4,407.6 L1607.4,408.2 L1608.3,406.9 L1609.3,408.5 L1610.3,406.3 L1611.2,407.2 L1612.2,406.4 L1613.2,405.9 L1614.1,408.1 L1615.1,406.2 L1616.0,409.6 L1617.0,407.4 L1617.9,409.5 L1618.9,408.2 L1619.8,412.0 L1620.8,409.6 L1621.8,411.7 L1622.7,410.3 L1623.7,412.6 L1624.6,412.3 L1625.6,414.2 L1626.5,412.8 L1627.5,414.1 L1628.5,413.2 L1629.4,409.7 L1630.4,411.4 L1631.3,406.8 L1632.3,407.3 L1633.3,404.3 L1634.2,404.8 L1635.2,402.6 L1636.2,403.2 L1637.1,405.3 L1638.1,404.0 L1639.1,406.7 L1640.0,406.7 L1641.0,410.6 L1642.0,407.5 L1642.9,410.6 L1643.9,410.5 L1644.9,412.7 L1645.8,412.4 L1646.8,414.1 L1647.8,415.2 L1648.7,412.3 L1649.7,414.8 L1650.6,412.9 L1651.6,413.9 L1652.5,412.9 L1653.5,413.4 L1654.5,412.1 L1655.4,413.4 L1656.4,411.2 L1657.3,413.6 L1658.3,412.2 L1659.3,409.6 L1660.2,409.5 L1661.2,403.6 L1662.2,404.6 L1663.1,401.4 L1664.1,401.2 L1665.0,396.6 L1666.0,394.9 L1667.0,395.3 L1667.9,392.3 L1668.9,393.2 L1669.8,390.4 L1670.8,391.0 L1671.8,388.3 L1672.7,389.5 L1673.7,385.5 L1674.6,387.1 L1675.6,384.0 L1676.5,384.7 L1677.5,383.4 L1678.5,382.3 L1679.4,384.3 L1680.4,382.2 L1681.3,385.3 L1682.3,382.8 L1683.2,385.0 L1684.2,383.4 L1685.2,385.3 L1686.1,384.6 L1687.1,385.7 L1688.0,384.1 L1689.0,386.3 L1689.9,385.2 L1690.9,385.3 L1691.9,384.2 L1692.8,380.5 L1693.8,379.9 L1694.8,376.3 L1695.7,375.4 L1696.7,371.7 L1697.6,370.4 L1698.6,368.0 L1699.6,363.4 L1700.5,361.4 L1701.5,354.5 L1702.5,353.6 L1703.4,347.4 L1704.4,344.9 L1705.4,345.8 L1706.3,345.0 L1707.3,346.5 L1708.2,345.9 L1709.2,349.3 L1710.2,346.7 L1711.1,348.8 L1712.1,348.8 L1713.1,348.8 L1714.0,352.8 L1715.0,350.8 L1715.9,354.0 L1716.9,352.8 L1717.9,354.7 L1718.8,354.0 L1719.8,356.5 L1720.8,355.7 L1721.7,353.7 L1722.7,355.4 L1723.6,351.7 L1724.6,352.9 L1725.6,349.7 L1726.5,350.3 L1727.5,347.0 L1728.4,348.8 L1729.4,346.8 L1730.4,346.3 L1731.3,349.5 L1732.3,348.9 L1733.2,351.9 L1734.2,351.3 L1735.2,355.5 L1736.1,354.2 L1737.1,357.5 L1738.0,355.8 L1739.0,358.4 L1740.0,357.0 L1740.9,355.1 L1741.8,355.9 L1742.8,351.6 L1743.8,353.9 L1744.7,350.7 L1745.7,351.3 L1746.6,354.7 L1747.6,352.8 L1748.5,357.3 L1749.5,354.8 L1750.5,359.4 L1751.4,358.2 L1752.4,360.3 L1753.3,360.9 L1754.3,362.2 L1755.3,361.8 L1756.2,359.4 L1757.2,360.4 L1758.2,357.8 L1759.1,358.3 L1760.1,354.9 L1761.1,356.8 L1762.0,353.1 L1763.0,355.5 L1764.0,351.5 L1764.9,352.5 L1765.9,350.7 L1766.9,349.5 L1767.8,350.1 L1768.8,346.7 L1769.8,349.8 L1770.7,345.8 L1771.7,348.6 L1772.6,344.4 L1773.6,344.9 L1774.5,341.6 L1775.5,334.4 L1776.5,331.8 L1777.4,325.7 L1778.4,323.3 L1779.3,323.8 L1780.3,321.5 L1781.2,323.6 L1782.2,319.1 L1783.2,321.3 L1784.1,318.1 L1785.1,318.0 L1786.1,319.0 L1787.0,316.1 L1788.0,318.6 L1788.9,317.1 L1789.9,320.6 L1790.8,316.9 L1791.8,320.9 L1792.8,318.6 L1793.7,321.1 L1794.7,318.3 L1795.6,320.1 L1796.6,320.0 L1797.5,319.1 L1798.4,323.4 L1799.3,321.9 L1800.2,324.6 L1801.1,323.4 L1802.0,326.1 L1802.9,324.5 L1803.8,327.7 L1804.7,326.4 L1805.6,329.4 L1806.5,328.1 L1807.4,332.0 L1808.3,331.3 L1809.2,333.3 L1810.1,333.4 L1811.0,333.5 L1812.0,334.9 L1813.0,334.5 L1813.9,336.5 L1814.8,334.8 L1815.8,337.1 L1816.8,334.9 L1817.7,337.2 L1818.7,336.9 L1819.6,332.6 L1820.6,332.3 L1821.6,328.7 L1822.5,328.8 L1823.5,325.7 L1824.5,323.6 L1825.4,324.0 L1826.4,319.4 L1827.3,321.0 L1828.3,317.7 L1829.3,317.9 L1830.2,315.1 L1831.2,314.2 L1832.2,315.8 L1833.1,315.0 L1834.1,315.6 L1835.1,316.3 L1836.0,317.5 L1837.0,317.1 L1837.9,319.4 L1838.9,318.0 L1839.9,315.4 L1840.8,315.9 L1841.8,313.0 L1842.8,313.4 L1843.7,312.1 L1844.7,312.7 L1845.6,308.6 L1846.6,308.4 L1847.5,310.0 L1848.5,307.6 L1849.5,310.0 L1850.4,306.7 L1851.3,310.0 L1852.3,307.9 L1853.2,308.7 L1854.2,308.4 L1855.2,307.6 L1856.2,311.5 L1857.1,310.8 L1858.1,312.3" fill="none" stroke="#000" stroke-width="4.1" stroke-linejoin="round" stroke-linecap="round"/>
<line x1="113" y1="1355.5" x2="1857" y2="1355.5" stroke="#e2e2e2" stroke-width="1"/>
<g stroke="#e4e4e4" stroke-width="1">
<line x1="218.0" y1="1357" x2="218.0" y2="1374"/>
<line x1="322.8" y1="1357" x2="322.8" y2="1374"/>
<line x1="427.6" y1="1357" x2="427.6" y2="1374"/>
<line x1="532.4" y1="1357" x2="532.4" y2="1374"/>
<line x1="637.2" y1="1357" x2="637.2" y2="1374"/>
<line x1="742.0" y1="1357" x2="742.0" y2="1374"/>
<line x1="846.8" y1="1357" x2="846.8" y2="1374"/>
<line x1="951.6" y1="1357" x2="951.6" y2="1374"/>
<line x1="1056.4" y1="1357" x2="1056.4" y2="1374"/>
<line x1="1161.2" y1="1357" x2="1161.2" y2="1374"/>
<line x1="1266.0" y1="1357" x2="1266.0" y2="1374"/>
<line x1="1370.8" y1="1357" x2="1370.8" y2="1374"/>
<line x1="1475.6" y1="1357" x2="1475.6" y2="1374"/>
<line x1="1580.4" y1="1357" x2="1580.4" y2="1374"/>
<line x1="1685.2" y1="1357" x2="1685.2" y2="1374"/>
<line x1="1790.0" y1="1357" x2="1790.0" y2="1374"/>
</g>
<rect x="1872" y="271" width="3.4" height="1084" fill="#000"/>
<g font-family="Liberation Sans, Arial, sans-serif" font-size="19.5" fill="#2b2b30">
<text x="82" y="278.0" text-anchor="end">100%</text>
<text x="82" y="388.1" text-anchor="end">70%</text>
<text x="82" y="492.0" text-anchor="end">50%</text>
<text x="82" y="649.8" text-anchor="end">30%</text>
<text x="82" y="775.0" text-anchor="end">20%</text>
<text x="82" y="989.0" text-anchor="end">10%</text>
<text x="82" y="1099.2" text-anchor="end">7%</text>
<text x="82" y="1203.1" text-anchor="end">5%</text>
<text x="82" y="1360.8" text-anchor="end">3%</text>
<text x="1889" y="325.8">$100k</text>
<text x="1889" y="487.8">$10k</text>
<text x="1889" y="649.8">$1k</text>
<text x="1889" y="811.8">$100</text>
<text x="1889" y="973.8">$10</text>
<text x="1889" y="1135.8">$1</text>
<text x="1889" y="1297.8">$0.10</text>
</g>
<g font-family="Liberation Sans, Arial, sans-serif" font-size="22" fill="#2b2b30" text-anchor="middle">
<text x="218.0" y="1400">2010</text>
<text x="322.8" y="1400">2011</text>
<text x="427.6" y="1400">2012</text>
<text x="532.4" y="1400">2013</text>
<text x="637.2" y="1400">2014</text>
<text x="742.0" y="1400">2015</text>
<text x="846.8" y="1400">2016</text>
<text x="951.6" y="1400">2017</text>
<text x="1056.4" y="1400">2018</text>
<text x="1161.2" y="1400">2019</text>
<text x="1266.0" y="1400">2020</text>
<text x="1370.8" y="1400">2021</text>
<text x="1475.6" y="1400">2022</text>
<text x="1580.4" y="1400">2023</text>
<text x="1685.2" y="1400">2024</text>
<text x="1790.0" y="1400">2025</text>
</g>
</svg>
</body>
</html>
